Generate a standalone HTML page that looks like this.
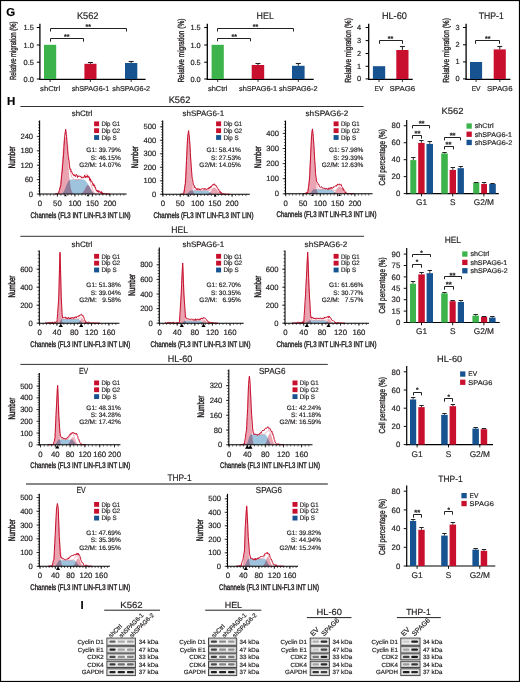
<!DOCTYPE html>
<html><head><meta charset="utf-8"><style>
html,body{margin:0;padding:0;background:#fff;width:520px;height:682px;overflow:hidden}
svg{display:block}
text{font-family:"Liberation Sans", sans-serif;stroke:#231f20;stroke-width:.18px;text-rendering:geometricPrecision}
</style></head><body>
<svg width="520" height="682" viewBox="0 0 520 682" font-family='"Liberation Sans", sans-serif' fill="#231f20">
<rect x="0" y="0" width="520" height="682" fill="#fff"/>
<text x="6.3" y="15.6" font-size="11.5" font-weight="bold" fill="#000">G</text>
<line x1="39.9" y1="23.8" x2="39.9" y2="79.9" stroke="#000" stroke-width="1.3"/>
<line x1="39.4" y1="79.3" x2="145.6" y2="79.3" stroke="#000" stroke-width="1.3"/>
<line x1="36.8" y1="27.5" x2="40" y2="27.5" stroke="#000" stroke-width="1"/>
<text x="33.9" y="30" font-size="7.4" text-anchor="end">1.5</text>
<line x1="36.8" y1="45" x2="40" y2="45" stroke="#000" stroke-width="1"/>
<text x="33.9" y="47.5" font-size="7.4" text-anchor="end">1.0</text>
<line x1="36.8" y1="62.2" x2="40" y2="62.2" stroke="#000" stroke-width="1"/>
<text x="33.9" y="64.7" font-size="7.4" text-anchor="end">0.5</text>
<line x1="36.8" y1="79" x2="40" y2="79" stroke="#000" stroke-width="1"/>
<text x="33.9" y="81.5" font-size="7.4" text-anchor="end">0.0</text>
<text x="16.4" y="50.8" font-size="8.8" text-anchor="middle" textLength="58.5" lengthAdjust="spacingAndGlyphs" transform="rotate(-90 16.4 50.8)" style="stroke-width:.35px">Relative migration (%)</text>
<rect x="44" y="44.8" width="12.2" height="34.2" fill="#3cb44b"/>
<rect x="84.4" y="63.8" width="12.1" height="15.2" fill="#c8102e"/>
<line x1="90.45" y1="63.8" x2="90.45" y2="62.5" stroke="#222" stroke-width="1"/>
<line x1="87.95" y1="62.5" x2="92.95" y2="62.5" stroke="#222" stroke-width="1.1"/>
<rect x="125" y="63" width="12.3" height="16" fill="#165390"/>
<line x1="131.15" y1="63" x2="131.15" y2="61.5" stroke="#222" stroke-width="1"/>
<line x1="128.65" y1="61.5" x2="133.65" y2="61.5" stroke="#222" stroke-width="1.1"/>
<line x1="50.1" y1="79" x2="50.1" y2="82" stroke="#231f20" stroke-width="0.9"/>
<text x="50.1" y="90.8" font-size="7.1" text-anchor="middle" textLength="20" lengthAdjust="spacingAndGlyphs">shCtrl</text>
<line x1="90.4" y1="79" x2="90.4" y2="82" stroke="#231f20" stroke-width="0.9"/>
<text x="90.4" y="90.8" font-size="7.1" text-anchor="middle" textLength="37.5" lengthAdjust="spacingAndGlyphs">shSPAG6-1</text>
<line x1="131.2" y1="79" x2="131.2" y2="82" stroke="#231f20" stroke-width="0.9"/>
<text x="131.2" y="90.8" font-size="7.1" text-anchor="middle" textLength="37.8" lengthAdjust="spacingAndGlyphs">shSPAG6-2</text>
<text x="87.7" y="18.7" font-size="9.6" text-anchor="middle" textLength="21.6" lengthAdjust="spacingAndGlyphs">K562</text>
<polyline points="50.5,41.7 50.5,38.5 83.5,38.5 83.5,41.7" fill="none" stroke="#222" stroke-width="1"/>
<text x="66.8" y="38.64" font-size="7" text-anchor="middle" font-weight="bold">**</text>
<polyline points="50.5,31.5 50.5,28.5 126.5,28.5 126.5,31.5" fill="none" stroke="#222" stroke-width="1"/>
<text x="88.2" y="29.44" font-size="7" text-anchor="middle" font-weight="bold">**</text>
<line x1="207.3" y1="23.8" x2="207.3" y2="79.9" stroke="#000" stroke-width="1.3"/>
<line x1="206.8" y1="79.3" x2="313.7" y2="79.3" stroke="#000" stroke-width="1.3"/>
<line x1="204.2" y1="27.5" x2="207.4" y2="27.5" stroke="#000" stroke-width="1"/>
<text x="200.7" y="30" font-size="7.4" text-anchor="end">1.5</text>
<line x1="204.2" y1="45" x2="207.4" y2="45" stroke="#000" stroke-width="1"/>
<text x="200.7" y="47.5" font-size="7.4" text-anchor="end">1.0</text>
<line x1="204.2" y1="62.2" x2="207.4" y2="62.2" stroke="#000" stroke-width="1"/>
<text x="200.7" y="64.7" font-size="7.4" text-anchor="end">0.5</text>
<line x1="204.2" y1="79" x2="207.4" y2="79" stroke="#000" stroke-width="1"/>
<text x="200.7" y="81.5" font-size="7.4" text-anchor="end">0.0</text>
<text x="183.8" y="50.6" font-size="8.8" text-anchor="middle" textLength="64" lengthAdjust="spacingAndGlyphs" transform="rotate(-90 183.8 50.6)" style="stroke-width:.35px">Relative migration (%)</text>
<rect x="211.6" y="44.8" width="12.2" height="34.2" fill="#3cb44b"/>
<rect x="251.7" y="65" width="12.5" height="14" fill="#c8102e"/>
<line x1="257.95" y1="65" x2="257.95" y2="63.5" stroke="#222" stroke-width="1"/>
<line x1="255.45" y1="63.5" x2="260.45" y2="63.5" stroke="#222" stroke-width="1.1"/>
<rect x="292" y="65.8" width="12.6" height="13.2" fill="#165390"/>
<line x1="298.3" y1="65.8" x2="298.3" y2="63.5" stroke="#222" stroke-width="1"/>
<line x1="295.8" y1="63.5" x2="300.8" y2="63.5" stroke="#222" stroke-width="1.1"/>
<line x1="217.7" y1="79" x2="217.7" y2="82" stroke="#231f20" stroke-width="0.9"/>
<text x="217.7" y="90.8" font-size="7.1" text-anchor="middle" textLength="19.5" lengthAdjust="spacingAndGlyphs">shCtrl</text>
<line x1="258" y1="79" x2="258" y2="82" stroke="#231f20" stroke-width="0.9"/>
<text x="258" y="90.8" font-size="7.1" text-anchor="middle" textLength="38" lengthAdjust="spacingAndGlyphs">shSPAG6-1</text>
<line x1="298.3" y1="79" x2="298.3" y2="82" stroke="#231f20" stroke-width="0.9"/>
<text x="298.3" y="90.8" font-size="7.1" text-anchor="middle" textLength="38.4" lengthAdjust="spacingAndGlyphs">shSPAG6-2</text>
<text x="265.2" y="18.7" font-size="9.6" text-anchor="middle" textLength="17.3" lengthAdjust="spacingAndGlyphs">HEL</text>
<polyline points="217.5,41.3 217.5,38.5 250.5,38.5 250.5,41.3" fill="none" stroke="#222" stroke-width="1"/>
<text x="234.3" y="39.14" font-size="7" text-anchor="middle" font-weight="bold">**</text>
<polyline points="217.5,31.5 217.5,28.5 293.5,28.5 293.5,31.5" fill="none" stroke="#222" stroke-width="1"/>
<text x="255.5" y="29.44" font-size="7" text-anchor="middle" font-weight="bold">**</text>
<line x1="368.7" y1="23.8" x2="368.7" y2="79.9" stroke="#000" stroke-width="1.3"/>
<line x1="368.2" y1="79.3" x2="412.7" y2="79.3" stroke="#000" stroke-width="1.3"/>
<line x1="365.6" y1="27.5" x2="368.8" y2="27.5" stroke="#000" stroke-width="1"/>
<text x="361" y="30" font-size="7.4" text-anchor="end">4</text>
<line x1="365.6" y1="40.6" x2="368.8" y2="40.6" stroke="#000" stroke-width="1"/>
<text x="361" y="43.1" font-size="7.4" text-anchor="end">3</text>
<line x1="365.6" y1="53.5" x2="368.8" y2="53.5" stroke="#000" stroke-width="1"/>
<text x="361" y="56" font-size="7.4" text-anchor="end">2</text>
<line x1="365.6" y1="66.3" x2="368.8" y2="66.3" stroke="#000" stroke-width="1"/>
<text x="361" y="68.8" font-size="7.4" text-anchor="end">1</text>
<line x1="365.6" y1="78.9" x2="368.8" y2="78.9" stroke="#000" stroke-width="1"/>
<text x="361" y="81.4" font-size="7.4" text-anchor="end">0</text>
<text x="351.2" y="50.4" font-size="8.8" text-anchor="middle" textLength="64.5" lengthAdjust="spacingAndGlyphs" transform="rotate(-90 351.2 50.4)" style="stroke-width:.35px">Relative migration (%)</text>
<rect x="372.9" y="66.2" width="12.3" height="12.8" fill="#165390"/>
<rect x="396.3" y="50" width="12.2" height="29" fill="#c8102e"/>
<line x1="402.4" y1="50" x2="402.4" y2="46.5" stroke="#222" stroke-width="1"/>
<line x1="399.9" y1="46.5" x2="404.9" y2="46.5" stroke="#222" stroke-width="1.1"/>
<line x1="379" y1="79" x2="379" y2="82" stroke="#231f20" stroke-width="0.9"/>
<text x="379" y="90.8" font-size="7.1" text-anchor="middle" textLength="8.9" lengthAdjust="spacingAndGlyphs">EV</text>
<line x1="402.4" y1="79" x2="402.4" y2="82" stroke="#231f20" stroke-width="0.9"/>
<text x="402.4" y="90.8" font-size="7.1" text-anchor="middle" textLength="25.6" lengthAdjust="spacingAndGlyphs">SPAG6</text>
<text x="394.4" y="18.7" font-size="9.6" text-anchor="middle" textLength="25" lengthAdjust="spacingAndGlyphs">HL-60</text>
<polyline points="379.5,43.8 379.5,40.5 402.5,40.5 402.5,43.8" fill="none" stroke="#222" stroke-width="1"/>
<text x="390.6" y="40.64" font-size="7" text-anchor="middle" font-weight="bold">**</text>
<line x1="466.1" y1="23.8" x2="466.1" y2="79.9" stroke="#000" stroke-width="1.3"/>
<line x1="465.6" y1="79.3" x2="510.4" y2="79.3" stroke="#000" stroke-width="1.3"/>
<line x1="463" y1="27.5" x2="466.2" y2="27.5" stroke="#000" stroke-width="1"/>
<text x="459.5" y="30" font-size="7.4" text-anchor="end">3</text>
<line x1="463" y1="44.8" x2="466.2" y2="44.8" stroke="#000" stroke-width="1"/>
<text x="459.5" y="47.3" font-size="7.4" text-anchor="end">2</text>
<line x1="463" y1="61.9" x2="466.2" y2="61.9" stroke="#000" stroke-width="1"/>
<text x="459.5" y="64.4" font-size="7.4" text-anchor="end">1</text>
<line x1="463" y1="78.9" x2="466.2" y2="78.9" stroke="#000" stroke-width="1"/>
<text x="459.5" y="81.4" font-size="7.4" text-anchor="end">0</text>
<text x="449" y="50.4" font-size="8.8" text-anchor="middle" textLength="64.5" lengthAdjust="spacingAndGlyphs" transform="rotate(-90 449 50.4)" style="stroke-width:.35px">Relative migration (%)</text>
<rect x="470" y="62" width="12.1" height="17" fill="#165390"/>
<rect x="493.7" y="49.4" width="12.1" height="29.6" fill="#c8102e"/>
<line x1="499.75" y1="49.4" x2="499.75" y2="46.5" stroke="#222" stroke-width="1"/>
<line x1="497.25" y1="46.5" x2="502.25" y2="46.5" stroke="#222" stroke-width="1.1"/>
<line x1="476.1" y1="79" x2="476.1" y2="82" stroke="#231f20" stroke-width="0.9"/>
<text x="476.1" y="90.8" font-size="7.1" text-anchor="middle" textLength="8.9" lengthAdjust="spacingAndGlyphs">EV</text>
<line x1="499.8" y1="79" x2="499.8" y2="82" stroke="#231f20" stroke-width="0.9"/>
<text x="499.8" y="90.8" font-size="7.1" text-anchor="middle" textLength="25.6" lengthAdjust="spacingAndGlyphs">SPAG6</text>
<text x="491.2" y="18.7" font-size="9.6" text-anchor="middle" textLength="25" lengthAdjust="spacingAndGlyphs">THP-1</text>
<polyline points="475.5,43.8 475.5,40.5 499.5,40.5 499.5,43.8" fill="none" stroke="#222" stroke-width="1"/>
<text x="487.7" y="40.64" font-size="7" text-anchor="middle" font-weight="bold">**</text>
<path d="M61.5,194 L61.5,194 L62.07,193.82 L62.64,193.33 L63.2,192.56 L63.77,191.56 L64.34,190.39 L64.91,189.1 L65.48,187.72 L66.05,186.31 L66.61,184.92 L67.18,183.59 L67.75,182.38 L68.32,181.33 L68.89,180.48 L69.46,179.9 L70.03,179.62 L70.59,179.6 L71.16,179.6 L71.73,179.6 L72.3,179.6 L72.87,179.6 L73.44,179.6 L74,179.6 L74.57,179.6 L75.14,179.6 L75.71,179.6 L76.28,179.6 L76.84,179.6 L77.41,179.6 L77.98,179.6 L78.55,179.6 L79.12,179.6 L79.69,179.6 L80.25,179.6 L80.82,179.6 L81.39,179.6 L81.96,179.6 L82.53,179.6 L83.1,179.6 L83.66,179.62 L84.23,179.79 L84.8,180.13 L85.37,180.61 L85.94,181.21 L86.51,181.93 L87.07,182.73 L87.64,183.61 L88.21,184.55 L88.78,185.53 L89.35,186.53 L89.92,187.54 L90.48,188.53 L91.05,189.49 L91.62,190.4 L92.19,191.25 L92.76,192.02 L93.33,192.69 L93.89,193.23 L94.46,193.65 L95.03,193.91 L95.6,194 Z" fill="#9ec3dc"/>
<path d="M56.98,194 L56.98,193.66 L57.4,193.44 L57.81,193.1 L58.23,192.6 L58.64,191.86 L59.06,190.82 L59.48,189.39 L59.89,187.49 L60.31,185.03 L60.72,181.96 L61.14,178.25 L61.56,173.92 L61.97,169.03 L62.39,163.75 L62.8,158.27 L63.22,152.87 L63.64,147.85 L64.05,143.52 L64.47,140.19 L64.88,138.08 L65.3,137.36 L65.72,138.08 L66.13,140.19 L66.55,143.52 L66.96,147.85 L67.38,152.87 L67.8,158.27 L68.21,163.75 L68.63,169.03 L69.04,173.92 L69.46,178.25 L69.88,181.96 L70.29,185.03 L70.71,187.49 L71.12,189.39 L71.54,190.82 L71.96,191.86 L72.37,192.6 L72.79,193.1 L73.2,193.44 L73.62,193.66 L73.62,194 Z" fill="#e9a3b1" style="mix-blend-mode:multiply"/>
<path d="M79.04,194 L79.04,193.95 L79.49,193.91 L79.94,193.86 L80.38,193.78 L80.83,193.66 L81.28,193.5 L81.73,193.28 L82.18,192.98 L82.62,192.59 L83.07,192.11 L83.52,191.53 L83.97,190.85 L84.42,190.09 L84.86,189.26 L85.31,188.4 L85.76,187.55 L86.21,186.76 L86.66,186.09 L87.1,185.56 L87.55,185.23 L88,185.12 L88.45,185.23 L88.9,185.56 L89.34,186.09 L89.79,186.76 L90.24,187.55 L90.69,188.4 L91.14,189.26 L91.58,190.09 L92.03,190.85 L92.48,191.53 L92.93,192.11 L93.38,192.59 L93.82,192.98 L94.27,193.28 L94.72,193.5 L95.17,193.66 L95.62,193.78 L96.06,193.86 L96.51,193.91 L96.96,193.95 L96.96,194 Z" fill="#e9a3b1" style="mix-blend-mode:multiply"/>
<polyline points="55,193.98 55.5,193.95 56,193.91 56.5,193.82 57,193.65 57.5,193.37 58,192.9 58.5,192.15 59,190.99 59.5,189.3 60,186.91 60.5,183.7 61,179.57 61.5,174.53 62,168.55 62.5,161.76 63,154.56 63.5,147.5 64,141.13 64.5,136.02 65,132.62 65.5,131.19 66,131.8 66.5,134.28 67,138.27 67.5,143.3 68,148.86 68.5,154.48 69,159.77 69.5,164.5 70,168.57 70.5,171.93 71,174.48 71.5,176.3 72,177.55 72.5,178.38 73,178.89 73.5,179.21 74,179.39 74.5,179.49 75,179.55 75.5,179.57 76,179.59 76.5,179.59 77,179.59 77.5,179.59 78,179.58 78.5,179.57 79,179.55 79.5,179.51 80,179.45 80.5,179.35 81,179.21 81.5,179 82,178.71 82.5,178.31 83,177.8 83.5,177.16 84,176.5 84.5,175.86 85,175.28 85.5,174.77 86,174.4 86.5,174.22 87,174.29 87.5,174.65 88,175.32 88.5,176.31 89,177.59 89.5,179.11 90,180.8 90.5,182.59 91,184.4 91.5,186.15 92,187.78 92.5,189.24 93,190.51 93.5,191.58 94,192.43 94.5,193.07 95,193.51 95.5,193.75 96,193.85 96.5,193.91 97,193.95 97.5,193.97 98,193.98 98.5,193.99 99,194 99.5,194 100,194 100.5,194 101,194 101.5,194 102,194 102.5,194 103,194 103.5,194 104,194 104.5,194 105,194 105.5,194 106,194 106.5,194 107,194 107.5,194 108,194 108.5,194 109,194 109.5,194 110,194" fill="none" stroke="#e47b8e" stroke-width="0.6"/>
<polyline points="55,194 55.45,193.91 55.9,193.82 56.35,193.74 56.8,193.65 57.25,193.56 57.7,193.47 58.15,193.39 58.6,193.3 58.7,193.28 59.05,191.09 59.5,190.33 59.95,188.04 60.4,187.05 60.85,185.38 61,184.4 61.3,179.59 61.75,174.29 62.2,171.8 62.65,164.82 63,161.6 63.1,159.23 63.55,154.83 64,146.3 64.45,140.64 64.5,138.8 64.9,135.23 65.35,131.83 65.6,129.2 65.8,129.68 66.25,134.83 66.5,136.4 66.7,140.22 67.15,145.05 67.5,149.6 67.6,151.31 68.05,155.3 68.5,158.96 68.95,160.73 69.4,166.12 69.85,168.76 70,169.52 70.3,169.24 70.75,168.92 71.2,172.13 71.65,171.41 72,171.92 72.1,172.76 72.55,173.92 73,174.05 73.45,175.36 73.9,174.32 74,174.8 74.35,175.89 74.8,174.91 75.25,176.64 75.7,176.62 76.15,174.29 76.6,174.57 77.05,174.99 77.5,177.55 77.95,176.02 78,176.24 78.4,176.69 78.85,175.71 79.3,176.42 79.75,176.08 80.2,176.03 80.65,176.83 81.1,176.88 81.55,177.96 82,176.72 82.45,177.22 82.9,177.93 83.35,177.62 83.8,177.97 84.25,176.86 84.7,175.16 85.15,177.31 85.6,177.56 86,176 86.05,177.31 86.5,176.34 86.95,176.91 87.4,175.41 87.85,177.51 88,176.48 88.3,177.11 88.75,176.78 89.2,176.67 89.65,179.79 90,179.12 90.1,180.86 90.55,178.73 91,181.76 91.45,181.27 91.9,181.19 92,182.48 92.35,182.38 92.8,184.62 93.25,185.67 93.7,183.74 94.15,186.29 94.6,185.18 95,187.28 95.05,188.05 95.5,187.44 95.95,189.84 96.4,190.79 96.85,189.91 97.3,192.12 97.75,190.55 98.2,190.44 98.4,192.08 98.65,192.47 99.1,190.77 99.55,191.42 100,192.21 100.45,192.98 100.9,191.65 101.35,191.4 101.8,194 102,193.04 102.25,192.48 102.7,194 103.15,194 103.6,193.3 104.05,193.37 104.5,193.44 104.95,193.51 105.4,193.58 105.85,193.66 106.3,193.73 106.5,193.76 106.75,193.78 107.2,193.81 107.65,193.84 108.1,193.87 108.55,193.9 109,193.93 109.45,193.96 109.9,193.99 110,194" fill="none" stroke="#c8102e" stroke-width="1" stroke-linejoin="round"/>
<line x1="39.6" y1="120.6" x2="39.6" y2="194.6" stroke="#000" stroke-width="1.1"/>
<line x1="39.1" y1="194" x2="126.6" y2="194" stroke="#000" stroke-width="1.1"/>
<line x1="38" y1="194" x2="39.6" y2="194" stroke="#000" stroke-width="0.6"/>
<line x1="38" y1="191.12" x2="39.6" y2="191.12" stroke="#000" stroke-width="0.6"/>
<line x1="38" y1="188.24" x2="39.6" y2="188.24" stroke="#000" stroke-width="0.6"/>
<line x1="38" y1="185.36" x2="39.6" y2="185.36" stroke="#000" stroke-width="0.6"/>
<line x1="38" y1="182.48" x2="39.6" y2="182.48" stroke="#000" stroke-width="0.6"/>
<line x1="38" y1="179.6" x2="39.6" y2="179.6" stroke="#000" stroke-width="0.6"/>
<line x1="38" y1="176.72" x2="39.6" y2="176.72" stroke="#000" stroke-width="0.6"/>
<line x1="38" y1="173.84" x2="39.6" y2="173.84" stroke="#000" stroke-width="0.6"/>
<line x1="38" y1="170.96" x2="39.6" y2="170.96" stroke="#000" stroke-width="0.6"/>
<line x1="38" y1="168.08" x2="39.6" y2="168.08" stroke="#000" stroke-width="0.6"/>
<line x1="38" y1="165.2" x2="39.6" y2="165.2" stroke="#000" stroke-width="0.6"/>
<line x1="38" y1="162.32" x2="39.6" y2="162.32" stroke="#000" stroke-width="0.6"/>
<line x1="38" y1="159.44" x2="39.6" y2="159.44" stroke="#000" stroke-width="0.6"/>
<line x1="38" y1="156.56" x2="39.6" y2="156.56" stroke="#000" stroke-width="0.6"/>
<line x1="38" y1="153.68" x2="39.6" y2="153.68" stroke="#000" stroke-width="0.6"/>
<line x1="38" y1="150.8" x2="39.6" y2="150.8" stroke="#000" stroke-width="0.6"/>
<line x1="38" y1="147.92" x2="39.6" y2="147.92" stroke="#000" stroke-width="0.6"/>
<line x1="38" y1="145.04" x2="39.6" y2="145.04" stroke="#000" stroke-width="0.6"/>
<line x1="38" y1="142.16" x2="39.6" y2="142.16" stroke="#000" stroke-width="0.6"/>
<line x1="38" y1="139.28" x2="39.6" y2="139.28" stroke="#000" stroke-width="0.6"/>
<line x1="38" y1="136.4" x2="39.6" y2="136.4" stroke="#000" stroke-width="0.6"/>
<line x1="38" y1="133.52" x2="39.6" y2="133.52" stroke="#000" stroke-width="0.6"/>
<line x1="38" y1="130.64" x2="39.6" y2="130.64" stroke="#000" stroke-width="0.6"/>
<line x1="38" y1="127.76" x2="39.6" y2="127.76" stroke="#000" stroke-width="0.6"/>
<line x1="38" y1="124.88" x2="39.6" y2="124.88" stroke="#000" stroke-width="0.6"/>
<line x1="38" y1="122" x2="39.6" y2="122" stroke="#000" stroke-width="0.6"/>
<line x1="36.8" y1="194" x2="39.6" y2="194" stroke="#111" stroke-width="0.8"/>
<text x="33.1" y="196.6" font-size="7.6" text-anchor="end">0</text>
<line x1="36.8" y1="179.6" x2="39.6" y2="179.6" stroke="#111" stroke-width="0.8"/>
<text x="33.1" y="182.2" font-size="7.6" text-anchor="end">60</text>
<line x1="36.8" y1="165.2" x2="39.6" y2="165.2" stroke="#111" stroke-width="0.8"/>
<text x="33.1" y="167.8" font-size="7.6" text-anchor="end">120</text>
<line x1="36.8" y1="150.8" x2="39.6" y2="150.8" stroke="#111" stroke-width="0.8"/>
<text x="33.1" y="153.4" font-size="7.6" text-anchor="end">180</text>
<line x1="36.8" y1="136.4" x2="39.6" y2="136.4" stroke="#111" stroke-width="0.8"/>
<text x="33.1" y="139" font-size="7.6" text-anchor="end">240</text>
<line x1="39.9" y1="194" x2="39.9" y2="195.7" stroke="#000" stroke-width="0.6"/>
<line x1="43.4" y1="194" x2="43.4" y2="195.7" stroke="#000" stroke-width="0.6"/>
<line x1="46.9" y1="194" x2="46.9" y2="195.7" stroke="#000" stroke-width="0.6"/>
<line x1="50.4" y1="194" x2="50.4" y2="195.7" stroke="#000" stroke-width="0.6"/>
<line x1="53.9" y1="194" x2="53.9" y2="195.7" stroke="#000" stroke-width="0.6"/>
<line x1="57.4" y1="194" x2="57.4" y2="195.7" stroke="#000" stroke-width="0.6"/>
<line x1="60.9" y1="194" x2="60.9" y2="195.7" stroke="#000" stroke-width="0.6"/>
<line x1="64.4" y1="194" x2="64.4" y2="195.7" stroke="#000" stroke-width="0.6"/>
<line x1="67.9" y1="194" x2="67.9" y2="195.7" stroke="#000" stroke-width="0.6"/>
<line x1="71.4" y1="194" x2="71.4" y2="195.7" stroke="#000" stroke-width="0.6"/>
<line x1="74.9" y1="194" x2="74.9" y2="195.7" stroke="#000" stroke-width="0.6"/>
<line x1="78.4" y1="194" x2="78.4" y2="195.7" stroke="#000" stroke-width="0.6"/>
<line x1="81.9" y1="194" x2="81.9" y2="195.7" stroke="#000" stroke-width="0.6"/>
<line x1="85.4" y1="194" x2="85.4" y2="195.7" stroke="#000" stroke-width="0.6"/>
<line x1="88.9" y1="194" x2="88.9" y2="195.7" stroke="#000" stroke-width="0.6"/>
<line x1="92.4" y1="194" x2="92.4" y2="195.7" stroke="#000" stroke-width="0.6"/>
<line x1="95.9" y1="194" x2="95.9" y2="195.7" stroke="#000" stroke-width="0.6"/>
<line x1="99.4" y1="194" x2="99.4" y2="195.7" stroke="#000" stroke-width="0.6"/>
<line x1="102.9" y1="194" x2="102.9" y2="195.7" stroke="#000" stroke-width="0.6"/>
<line x1="106.4" y1="194" x2="106.4" y2="195.7" stroke="#000" stroke-width="0.6"/>
<line x1="109.9" y1="194" x2="109.9" y2="195.7" stroke="#000" stroke-width="0.6"/>
<line x1="113.4" y1="194" x2="113.4" y2="195.7" stroke="#000" stroke-width="0.6"/>
<line x1="116.9" y1="194" x2="116.9" y2="195.7" stroke="#000" stroke-width="0.6"/>
<line x1="120.4" y1="194" x2="120.4" y2="195.7" stroke="#000" stroke-width="0.6"/>
<line x1="123.9" y1="194" x2="123.9" y2="195.7" stroke="#000" stroke-width="0.6"/>
<line x1="39.9" y1="194" x2="39.9" y2="196.6" stroke="#111" stroke-width="0.8"/>
<text x="39.9" y="205.7" font-size="7.8" text-anchor="middle">0</text>
<line x1="57.4" y1="194" x2="57.4" y2="196.6" stroke="#111" stroke-width="0.8"/>
<text x="57.4" y="205.7" font-size="7.8" text-anchor="middle">50</text>
<line x1="74.9" y1="194" x2="74.9" y2="196.6" stroke="#111" stroke-width="0.8"/>
<text x="74.9" y="205.7" font-size="7.8" text-anchor="middle">100</text>
<line x1="92.4" y1="194" x2="92.4" y2="196.6" stroke="#111" stroke-width="0.8"/>
<text x="92.4" y="205.7" font-size="7.8" text-anchor="middle">150</text>
<line x1="109.9" y1="194" x2="109.9" y2="196.6" stroke="#111" stroke-width="0.8"/>
<text x="109.9" y="205.7" font-size="7.8" text-anchor="middle">200</text>
<path d="M64.24,196.3 L66.76,196.3 L65.5,194.2 Z" fill="#000"/>
<path d="M86.74,196.3 L89.26,196.3 L88,194.2 Z" fill="#000"/>
<text x="14.9" y="157.3" font-size="9.6" text-anchor="middle" textLength="21.8" lengthAdjust="spacingAndGlyphs" transform="rotate(-90 14.9 157.3)" style="stroke-width:.45px">Number</text>
<text x="80.6" y="217.6" font-size="8.2" text-anchor="middle" textLength="100" lengthAdjust="spacingAndGlyphs" style="stroke-width:.4px">Channels (FL3 INT LIN-FL3 INT LIN)</text>
<text x="82" y="116.4" font-size="7.9" text-anchor="middle" textLength="20.6" lengthAdjust="spacingAndGlyphs">shCtrl</text>
<rect x="94.1" y="121.4" width="5" height="4.8" fill="#c8102e"/>
<text x="101.4" y="126" font-size="6.5" textLength="18.8" lengthAdjust="spacingAndGlyphs">Dip G1</text>
<rect x="94.1" y="128.25" width="5" height="4.8" fill="#c8102e"/>
<text x="101.4" y="132.85" font-size="6.5" textLength="18.8" lengthAdjust="spacingAndGlyphs">Dip G2</text>
<rect x="94.1" y="135.1" width="5" height="4.8" fill="#165390"/>
<text x="101.4" y="139.7" font-size="6.5" textLength="15.2" lengthAdjust="spacingAndGlyphs">Dip S</text>
<text x="120.7" y="152.3" font-size="6.5" text-anchor="end" style="white-space:pre">G1: 39.79%</text>
<text x="120.7" y="159.5" font-size="6.5" text-anchor="end" style="white-space:pre">S: 46.15%</text>
<text x="120.7" y="166.7" font-size="6.5" text-anchor="end" style="white-space:pre">G2/M: 14.07%</text>
<path d="M186,194.3 L186,194.3 L186.47,194.2 L186.93,193.94 L187.4,193.55 L187.87,193.07 L188.33,192.54 L188.8,191.99 L189.27,191.47 L189.73,191.01 L190.2,190.65 L190.67,190.43 L191.13,190.39 L191.6,190.39 L192.07,190.39 L192.53,190.39 L193,190.39 L193.47,190.39 L193.93,190.39 L194.4,190.39 L194.87,190.39 L195.33,190.39 L195.8,190.39 L196.27,190.39 L196.73,190.39 L197.2,190.39 L197.67,190.39 L198.13,190.39 L198.6,190.39 L199.07,190.39 L199.53,190.39 L200,190.39 L200.47,190.39 L200.93,190.39 L201.4,190.39 L201.87,190.39 L202.33,190.39 L202.8,190.39 L203.27,190.39 L203.73,190.39 L204.2,190.39 L204.67,190.39 L205.13,190.39 L205.6,190.39 L206.07,190.39 L206.53,190.43 L207,190.55 L207.47,190.73 L207.93,190.96 L208.4,191.23 L208.87,191.53 L209.33,191.86 L209.8,192.2 L210.27,192.54 L210.73,192.87 L211.2,193.2 L211.67,193.5 L212.13,193.76 L212.6,193.98 L213.07,194.15 L213.53,194.26 L214,194.3 Z" fill="#9ec3dc"/>
<path d="M182.42,194.3 L182.42,193.95 L182.72,193.72 L183.03,193.36 L183.33,192.83 L183.64,192.06 L183.94,190.97 L184.24,189.47 L184.55,187.47 L184.85,184.9 L185.16,181.68 L185.46,177.78 L185.76,173.24 L186.07,168.12 L186.37,162.58 L186.68,156.83 L186.98,151.17 L187.28,145.9 L187.59,141.36 L187.89,137.86 L188.2,135.66 L188.5,134.9 L188.8,135.66 L189.11,137.86 L189.41,141.36 L189.72,145.9 L190.02,151.17 L190.32,156.83 L190.63,162.58 L190.93,168.12 L191.24,173.24 L191.54,177.78 L191.84,181.68 L192.15,184.9 L192.45,187.47 L192.76,189.47 L193.06,190.97 L193.36,192.06 L193.67,192.83 L193.97,193.36 L194.28,193.72 L194.58,193.95 L194.58,194.3 Z" fill="#e9a3b1" style="mix-blend-mode:multiply"/>
<path d="M205.24,194.3 L205.24,194.26 L205.69,194.24 L206.14,194.2 L206.58,194.14 L207.03,194.06 L207.48,193.94 L207.93,193.78 L208.38,193.57 L208.82,193.3 L209.27,192.95 L209.72,192.54 L210.17,192.05 L210.62,191.5 L211.06,190.91 L211.51,190.3 L211.96,189.69 L212.41,189.13 L212.86,188.65 L213.3,188.27 L213.75,188.04 L214.2,187.96 L214.65,188.04 L215.1,188.27 L215.54,188.65 L215.99,189.13 L216.44,189.69 L216.89,190.3 L217.34,190.91 L217.78,191.5 L218.23,192.05 L218.68,192.54 L219.13,192.95 L219.58,193.3 L220.02,193.57 L220.47,193.78 L220.92,193.94 L221.37,194.06 L221.82,194.14 L222.26,194.2 L222.71,194.24 L223.16,194.26 L223.16,194.3 Z" fill="#e9a3b1" style="mix-blend-mode:multiply"/>
<polyline points="180,194.3 180.5,194.29 181,194.28 181.5,194.23 182,194.13 182.5,193.89 183,193.4 183.5,192.44 184,190.7 184.5,187.82 185,183.41 185.5,177.22 186,169.31 186.5,160.06 187,150.4 187.5,141.74 188,135.54 188.5,132.94 189,134.38 189.5,139.51 190,147.3 190.5,156.36 191,165.39 191.5,173.31 192,179.5 192.5,183.91 193,186.79 193.5,188.52 194,189.49 194.5,189.98 195,190.21 195.5,190.32 196,190.36 196.5,190.38 197,190.38 197.5,190.38 198,190.38 198.5,190.38 199,190.38 199.5,190.38 200,190.38 200.5,190.38 201,190.38 201.5,190.38 202,190.38 202.5,190.38 203,190.38 203.5,190.38 204,190.38 204.5,190.37 205,190.36 205.5,190.33 206,190.3 206.5,190.28 207,190.32 207.5,190.38 208,190.45 208.5,190.49 209,190.49 209.5,190.43 210,190.28 210.5,190.06 211,189.76 211.5,189.41 212,189.03 212.5,188.66 213,188.34 213.5,188.11 214,187.97 214.5,187.99 215,188.21 215.5,188.6 216,189.14 216.5,189.77 217,190.45 217.5,191.13 218,191.77 218.5,192.35 219,192.84 219.5,193.24 220,193.56 220.5,193.8 221,193.97 221.5,194.09 222,194.17 222.5,194.22 223,194.25 223.5,194.27 224,194.29 224.5,194.29 225,194.3 225.5,194.3 226,194.3 226.5,194.3 227,194.3 227.5,194.3 228,194.3 228.5,194.3 229,194.3 229.5,194.3 230,194.3" fill="none" stroke="#e47b8e" stroke-width="0.6"/>
<polyline points="180,194.3 180.45,194.22 180.9,194.14 181.35,194.05 181.8,193.97 182.25,194.11 182.7,194.24 183.15,194.26 183.6,194.3 183.7,193.62 184.05,192.09 184.5,189.89 184.95,185.75 185.4,184 185.5,183.5 185.85,176.27 186.3,165.41 186.5,160.55 186.75,156.06 187.2,145.25 187.6,137.6 187.65,137.19 188.1,133.63 188.55,131.01 188.6,130.58 189,134.6 189.45,137.97 189.6,140.3 189.9,144.77 190.35,152.36 190.8,160.99 190.9,161.9 191.25,167.1 191.7,172.09 192,176.75 192.15,178.09 192.6,179.34 193.05,182.63 193.5,184.85 193.95,185.39 194,186.2 194.4,185.79 194.85,187.9 195.3,187.26 195.75,187.81 196,188.63 196.2,189.53 196.65,189.39 197.1,188.4 197.55,189.67 198,188.97 198.45,189.28 198.9,188.49 199.35,189.88 199.8,189.49 200,189.17 200.25,190.01 200.7,189.88 201.15,188.81 201.6,188.92 202.05,188.57 202.5,188.53 202.95,188.39 203.4,188.81 203.85,189.36 204.3,188.28 204.75,189.49 205,189.17 205.2,188.86 205.65,188.77 206.1,189.64 206.55,189 207,188.66 207.45,188.92 207.9,189.28 208,188.9 208.35,187.87 208.8,189.22 209.25,187.2 209.7,188.2 210.15,188.07 210.6,186.28 211,186.88 211.05,187.35 211.5,186.19 211.95,186.17 212.4,184.75 212.85,184.42 213.3,184.26 213.75,185.26 214.2,184.04 214.65,183.83 215.1,185.18 215.55,185.83 216,185.39 216.45,186.98 216.9,186.69 217.35,187.5 217.8,188.59 218,188.9 218.25,189.77 218.7,189.23 219.15,191.05 219.6,191.81 220,191.87 220.05,192.57 220.5,191.51 220.95,193.58 221.4,192.47 221.7,193.49 221.85,193.23 222.3,193.78 222.75,194.3 223.2,193.44 223.65,194.3 224.1,193.95 224.55,193.94 225,194.01 225.45,194.08 225.9,194.15 226,194.17 226.35,194.18 226.8,194.19 227.25,194.21 227.7,194.22 228.15,194.24 228.6,194.25 229.05,194.27 229.5,194.28 229.95,194.3 230,194.3" fill="none" stroke="#c8102e" stroke-width="1" stroke-linejoin="round"/>
<line x1="162.7" y1="120.6" x2="162.7" y2="194.9" stroke="#000" stroke-width="1.1"/>
<line x1="162.2" y1="194.3" x2="249.8" y2="194.3" stroke="#000" stroke-width="1.1"/>
<line x1="161.1" y1="194.3" x2="162.7" y2="194.3" stroke="#000" stroke-width="0.6"/>
<line x1="161.1" y1="191.6" x2="162.7" y2="191.6" stroke="#000" stroke-width="0.6"/>
<line x1="161.1" y1="188.9" x2="162.7" y2="188.9" stroke="#000" stroke-width="0.6"/>
<line x1="161.1" y1="186.2" x2="162.7" y2="186.2" stroke="#000" stroke-width="0.6"/>
<line x1="161.1" y1="183.5" x2="162.7" y2="183.5" stroke="#000" stroke-width="0.6"/>
<line x1="161.1" y1="180.8" x2="162.7" y2="180.8" stroke="#000" stroke-width="0.6"/>
<line x1="161.1" y1="178.1" x2="162.7" y2="178.1" stroke="#000" stroke-width="0.6"/>
<line x1="161.1" y1="175.4" x2="162.7" y2="175.4" stroke="#000" stroke-width="0.6"/>
<line x1="161.1" y1="172.7" x2="162.7" y2="172.7" stroke="#000" stroke-width="0.6"/>
<line x1="161.1" y1="170" x2="162.7" y2="170" stroke="#000" stroke-width="0.6"/>
<line x1="161.1" y1="167.3" x2="162.7" y2="167.3" stroke="#000" stroke-width="0.6"/>
<line x1="161.1" y1="164.6" x2="162.7" y2="164.6" stroke="#000" stroke-width="0.6"/>
<line x1="161.1" y1="161.9" x2="162.7" y2="161.9" stroke="#000" stroke-width="0.6"/>
<line x1="161.1" y1="159.2" x2="162.7" y2="159.2" stroke="#000" stroke-width="0.6"/>
<line x1="161.1" y1="156.5" x2="162.7" y2="156.5" stroke="#000" stroke-width="0.6"/>
<line x1="161.1" y1="153.8" x2="162.7" y2="153.8" stroke="#000" stroke-width="0.6"/>
<line x1="161.1" y1="151.1" x2="162.7" y2="151.1" stroke="#000" stroke-width="0.6"/>
<line x1="161.1" y1="148.4" x2="162.7" y2="148.4" stroke="#000" stroke-width="0.6"/>
<line x1="161.1" y1="145.7" x2="162.7" y2="145.7" stroke="#000" stroke-width="0.6"/>
<line x1="161.1" y1="143" x2="162.7" y2="143" stroke="#000" stroke-width="0.6"/>
<line x1="161.1" y1="140.3" x2="162.7" y2="140.3" stroke="#000" stroke-width="0.6"/>
<line x1="161.1" y1="137.6" x2="162.7" y2="137.6" stroke="#000" stroke-width="0.6"/>
<line x1="161.1" y1="134.9" x2="162.7" y2="134.9" stroke="#000" stroke-width="0.6"/>
<line x1="161.1" y1="132.2" x2="162.7" y2="132.2" stroke="#000" stroke-width="0.6"/>
<line x1="161.1" y1="129.5" x2="162.7" y2="129.5" stroke="#000" stroke-width="0.6"/>
<line x1="161.1" y1="126.8" x2="162.7" y2="126.8" stroke="#000" stroke-width="0.6"/>
<line x1="161.1" y1="124.1" x2="162.7" y2="124.1" stroke="#000" stroke-width="0.6"/>
<line x1="161.1" y1="121.4" x2="162.7" y2="121.4" stroke="#000" stroke-width="0.6"/>
<line x1="159.9" y1="194.3" x2="162.7" y2="194.3" stroke="#111" stroke-width="0.8"/>
<text x="156.2" y="196.9" font-size="7.6" text-anchor="end">0</text>
<line x1="159.9" y1="180.8" x2="162.7" y2="180.8" stroke="#111" stroke-width="0.8"/>
<text x="156.2" y="183.4" font-size="7.6" text-anchor="end">100</text>
<line x1="159.9" y1="167.3" x2="162.7" y2="167.3" stroke="#111" stroke-width="0.8"/>
<text x="156.2" y="169.9" font-size="7.6" text-anchor="end">200</text>
<line x1="159.9" y1="153.8" x2="162.7" y2="153.8" stroke="#111" stroke-width="0.8"/>
<text x="156.2" y="156.4" font-size="7.6" text-anchor="end">300</text>
<line x1="159.9" y1="140.3" x2="162.7" y2="140.3" stroke="#111" stroke-width="0.8"/>
<text x="156.2" y="142.9" font-size="7.6" text-anchor="end">400</text>
<line x1="159.9" y1="126.8" x2="162.7" y2="126.8" stroke="#111" stroke-width="0.8"/>
<text x="156.2" y="129.4" font-size="7.6" text-anchor="end">500</text>
<line x1="162.9" y1="194.3" x2="162.9" y2="196" stroke="#000" stroke-width="0.6"/>
<line x1="166.36" y1="194.3" x2="166.36" y2="196" stroke="#000" stroke-width="0.6"/>
<line x1="169.82" y1="194.3" x2="169.82" y2="196" stroke="#000" stroke-width="0.6"/>
<line x1="173.28" y1="194.3" x2="173.28" y2="196" stroke="#000" stroke-width="0.6"/>
<line x1="176.74" y1="194.3" x2="176.74" y2="196" stroke="#000" stroke-width="0.6"/>
<line x1="180.2" y1="194.3" x2="180.2" y2="196" stroke="#000" stroke-width="0.6"/>
<line x1="183.66" y1="194.3" x2="183.66" y2="196" stroke="#000" stroke-width="0.6"/>
<line x1="187.12" y1="194.3" x2="187.12" y2="196" stroke="#000" stroke-width="0.6"/>
<line x1="190.58" y1="194.3" x2="190.58" y2="196" stroke="#000" stroke-width="0.6"/>
<line x1="194.04" y1="194.3" x2="194.04" y2="196" stroke="#000" stroke-width="0.6"/>
<line x1="197.5" y1="194.3" x2="197.5" y2="196" stroke="#000" stroke-width="0.6"/>
<line x1="200.96" y1="194.3" x2="200.96" y2="196" stroke="#000" stroke-width="0.6"/>
<line x1="204.42" y1="194.3" x2="204.42" y2="196" stroke="#000" stroke-width="0.6"/>
<line x1="207.88" y1="194.3" x2="207.88" y2="196" stroke="#000" stroke-width="0.6"/>
<line x1="211.34" y1="194.3" x2="211.34" y2="196" stroke="#000" stroke-width="0.6"/>
<line x1="214.8" y1="194.3" x2="214.8" y2="196" stroke="#000" stroke-width="0.6"/>
<line x1="218.26" y1="194.3" x2="218.26" y2="196" stroke="#000" stroke-width="0.6"/>
<line x1="221.72" y1="194.3" x2="221.72" y2="196" stroke="#000" stroke-width="0.6"/>
<line x1="225.18" y1="194.3" x2="225.18" y2="196" stroke="#000" stroke-width="0.6"/>
<line x1="228.64" y1="194.3" x2="228.64" y2="196" stroke="#000" stroke-width="0.6"/>
<line x1="232.1" y1="194.3" x2="232.1" y2="196" stroke="#000" stroke-width="0.6"/>
<line x1="235.56" y1="194.3" x2="235.56" y2="196" stroke="#000" stroke-width="0.6"/>
<line x1="239.02" y1="194.3" x2="239.02" y2="196" stroke="#000" stroke-width="0.6"/>
<line x1="242.48" y1="194.3" x2="242.48" y2="196" stroke="#000" stroke-width="0.6"/>
<line x1="245.94" y1="194.3" x2="245.94" y2="196" stroke="#000" stroke-width="0.6"/>
<line x1="162.9" y1="194.3" x2="162.9" y2="196.9" stroke="#111" stroke-width="0.8"/>
<text x="162.9" y="206" font-size="7.8" text-anchor="middle">0</text>
<line x1="180.2" y1="194.3" x2="180.2" y2="196.9" stroke="#111" stroke-width="0.8"/>
<text x="180.2" y="206" font-size="7.8" text-anchor="middle">50</text>
<line x1="197.5" y1="194.3" x2="197.5" y2="196.9" stroke="#111" stroke-width="0.8"/>
<text x="197.5" y="206" font-size="7.8" text-anchor="middle">100</text>
<line x1="214.8" y1="194.3" x2="214.8" y2="196.9" stroke="#111" stroke-width="0.8"/>
<text x="214.8" y="206" font-size="7.8" text-anchor="middle">150</text>
<line x1="232.1" y1="194.3" x2="232.1" y2="196.9" stroke="#111" stroke-width="0.8"/>
<text x="232.1" y="206" font-size="7.8" text-anchor="middle">200</text>
<path d="M187.24,196.6 L189.76,196.6 L188.5,194.5 Z" fill="#000"/>
<path d="M214.14,196.6 L216.66,196.6 L215.4,194.5 Z" fill="#000"/>
<text x="138.3" y="157" font-size="9.6" text-anchor="middle" textLength="21.8" lengthAdjust="spacingAndGlyphs" transform="rotate(-90 138.3 157)" style="stroke-width:.45px">Number</text>
<text x="203.5" y="217.9" font-size="8.2" text-anchor="middle" textLength="100" lengthAdjust="spacingAndGlyphs" style="stroke-width:.4px">Channels (FL3 INT LIN-FL3 INT LIN)</text>
<text x="203.3" y="116.2" font-size="7.9" text-anchor="middle" textLength="41.7" lengthAdjust="spacingAndGlyphs">shSPAG6-1</text>
<rect x="216.1" y="121.4" width="5" height="4.8" fill="#c8102e"/>
<text x="223.4" y="126" font-size="6.5" textLength="18.8" lengthAdjust="spacingAndGlyphs">Dip G1</text>
<rect x="216.1" y="128.25" width="5" height="4.8" fill="#c8102e"/>
<text x="223.4" y="132.85" font-size="6.5" textLength="18.8" lengthAdjust="spacingAndGlyphs">Dip G2</text>
<rect x="216.1" y="135.1" width="5" height="4.8" fill="#165390"/>
<text x="223.4" y="139.7" font-size="6.5" textLength="15.2" lengthAdjust="spacingAndGlyphs">Dip S</text>
<text x="240.9" y="152.3" font-size="6.5" text-anchor="end" style="white-space:pre">G1: 58.41%</text>
<text x="240.9" y="159.5" font-size="6.5" text-anchor="end" style="white-space:pre">S: 27.53%</text>
<text x="240.9" y="166.7" font-size="6.5" text-anchor="end" style="white-space:pre">G2/M: 14.05%</text>
<path d="M309,193.8 L309,193.8 L309.48,193.68 L309.97,193.36 L310.45,192.88 L310.93,192.29 L311.42,191.65 L311.9,191 L312.38,190.38 L312.87,189.86 L313.35,189.48 L313.83,189.28 L314.32,189.27 L314.8,189.27 L315.28,189.27 L315.77,189.27 L316.25,189.27 L316.73,189.27 L317.22,189.27 L317.7,189.27 L318.18,189.27 L318.67,189.27 L319.15,189.27 L319.63,189.27 L320.12,189.27 L320.6,189.27 L321.08,189.27 L321.57,189.27 L322.05,189.27 L322.53,189.27 L323.02,189.27 L323.5,189.27 L323.98,189.27 L324.47,189.27 L324.95,189.27 L325.43,189.27 L325.92,189.27 L326.4,189.27 L326.88,189.27 L327.37,189.27 L327.85,189.27 L328.33,189.27 L328.82,189.27 L329.3,189.27 L329.78,189.27 L330.27,189.28 L330.75,189.38 L331.23,189.56 L331.72,189.81 L332.2,190.11 L332.68,190.46 L333.17,190.84 L333.65,191.24 L334.13,191.65 L334.62,192.05 L335.1,192.45 L335.58,192.81 L336.07,193.13 L336.55,193.41 L337.03,193.62 L337.52,193.75 L338,193.8 Z" fill="#9ec3dc"/>
<path d="M306.32,193.8 L306.32,193.44 L306.62,193.21 L306.93,192.85 L307.23,192.31 L307.54,191.52 L307.84,190.41 L308.14,188.89 L308.45,186.86 L308.75,184.24 L309.06,180.96 L309.36,177.01 L309.66,172.38 L309.97,167.18 L310.27,161.54 L310.58,155.7 L310.88,149.94 L311.18,144.59 L311.49,139.97 L311.79,136.41 L312.1,134.17 L312.4,133.4 L312.7,134.17 L313.01,136.41 L313.31,139.97 L313.62,144.59 L313.92,149.94 L314.22,155.7 L314.53,161.54 L314.83,167.18 L315.14,172.38 L315.44,177.01 L315.74,180.96 L316.05,184.24 L316.35,186.86 L316.66,188.89 L316.96,190.41 L317.26,191.52 L317.57,192.31 L317.87,192.85 L318.18,193.21 L318.48,193.44 L318.48,193.8 Z" fill="#e9a3b1" style="mix-blend-mode:multiply"/>
<path d="M330.54,193.8 L330.54,193.76 L330.99,193.73 L331.44,193.69 L331.88,193.63 L332.33,193.54 L332.78,193.42 L333.23,193.25 L333.68,193.02 L334.12,192.72 L334.57,192.36 L335.02,191.91 L335.47,191.39 L335.92,190.8 L336.36,190.17 L336.81,189.51 L337.26,188.87 L337.71,188.26 L338.16,187.74 L338.6,187.34 L339.05,187.09 L339.5,187.01 L339.95,187.09 L340.4,187.34 L340.84,187.74 L341.29,188.26 L341.74,188.87 L342.19,189.51 L342.64,190.17 L343.08,190.8 L343.53,191.39 L343.98,191.91 L344.43,192.36 L344.88,192.72 L345.32,193.02 L345.77,193.25 L346.22,193.42 L346.67,193.54 L347.12,193.63 L347.56,193.69 L348.01,193.73 L348.46,193.76 L348.46,193.8 Z" fill="#e9a3b1" style="mix-blend-mode:multiply"/>
<polyline points="303,193.8 303.5,193.8 304,193.8 304.5,193.79 305,193.77 305.5,193.72 306,193.59 306.5,193.31 307,192.74 307.5,191.63 308,189.66 308.5,186.45 309,181.62 309.5,174.83 310,166.13 310.5,156.19 311,146.16 311.5,137.54 312,131.79 312.5,129.93 313,132.28 313.5,138.32 314,146.9 314.5,156.48 315,165.59 315.5,173.31 316,179.24 316.5,183.38 317,186.05 317.5,187.62 318,188.49 318.5,188.92 319,189.13 319.5,189.21 320,189.25 320.5,189.26 321,189.27 321.5,189.27 322,189.27 322.5,189.27 323,189.27 323.5,189.27 324,189.27 324.5,189.27 325,189.27 325.5,189.27 326,189.27 326.5,189.27 327,189.27 327.5,189.27 328,189.27 328.5,189.27 329,189.26 329.5,189.26 330,189.25 330.5,189.28 331,189.4 331.5,189.57 332,189.79 332.5,190.02 333,190.24 333.5,190.43 334,190.55 334.5,190.58 335,190.5 335.5,190.3 336,189.98 336.5,189.55 337,189.04 337.5,188.48 338,187.91 338.5,187.42 339,187.11 339.5,187.01 340,187.11 340.5,187.42 341,187.91 341.5,188.53 342,189.24 342.5,189.97 343,190.69 343.5,191.35 344,191.93 344.5,192.42 345,192.81 345.5,193.12 346,193.34 346.5,193.5 347,193.61 347.5,193.69 348,193.73 348.5,193.76 349,193.78 349.5,193.79 350,193.79 350.5,193.8 351,193.8 351.5,193.8 352,193.8 352.5,193.8 353,193.8 353.5,193.8 354,193.8" fill="none" stroke="#e47b8e" stroke-width="0.6"/>
<polyline points="303,193.8 303.45,193.72 303.9,193.63 304.35,193.55 304.8,193.46 305.25,193.38 305.7,192.94 306.15,192.51 306.6,193.42 307.05,192.18 307.5,193.02 307.8,192.89 307.95,191.51 308.4,187.53 308.85,185.07 309.3,180.78 309.5,180.21 309.75,174.79 310.2,164.55 310.5,159.07 310.65,154.85 311.1,145.33 311.5,136.42 311.55,136.66 312,131.56 312.4,129.02 312.45,128.88 312.9,133.39 313.3,136.42 313.35,138.13 313.8,144.75 314.25,151.75 314.5,156.05 314.7,160.32 315.15,165.94 315.5,172.66 315.6,174.28 316.05,177.22 316.5,181.72 316.95,181.65 317.4,182.23 317.85,183.26 318.2,184.14 318.3,184.94 318.75,184.42 319.2,185.98 319.65,186.85 320,187.16 320.1,186.93 320.55,187.42 321,186.58 321.45,186.71 321.9,187.14 322.35,188.23 322.8,187.86 323.25,187.77 323.7,188.44 324,188.36 324.15,188.28 324.6,188.01 325.05,189.03 325.5,188.88 325.95,188 326.4,188.69 326.85,188.63 327.3,189.36 327.75,189.11 328,188.67 328.2,188.21 328.65,189.53 329.1,187.74 329.55,188.27 330,188.88 330.45,187.6 330.9,188.21 331.35,187.24 331.8,188.43 332,188.06 332.25,188.43 332.7,187.76 333.15,188.07 333.6,186.66 334.05,187.14 334.5,186.65 334.95,186.33 335.4,185.79 335.85,186.27 336,185.5 336.3,186.25 336.75,185.12 337.2,185.31 337.65,183.9 338.1,184.99 338.55,184.69 339,185.19 339.45,184.65 339.5,183.99 339.9,183.84 340.35,184.36 340.8,185.24 341,185.04 341.25,184.62 341.7,186.45 342.15,186.81 342.6,187.66 343,189.27 343.05,188.45 343.5,190.43 343.95,189.72 344.4,190.51 344.85,191.36 345.3,192.89 345.75,191.87 345.9,192.89 346.2,192.85 346.65,193.13 347.1,193.8 347.55,193.8 348,193.8 348.45,193.36 348.9,193.45 349.35,193.53 349.8,193.61 350,193.65 350.25,193.66 350.7,193.68 351.15,193.69 351.6,193.71 352.05,193.73 352.5,193.74 352.95,193.76 353.4,193.78 353.85,193.79 354,193.8" fill="none" stroke="#c8102e" stroke-width="1" stroke-linejoin="round"/>
<line x1="285.5" y1="120.6" x2="285.5" y2="194.4" stroke="#000" stroke-width="1.1"/>
<line x1="285" y1="193.8" x2="372.6" y2="193.8" stroke="#000" stroke-width="1.1"/>
<line x1="283.9" y1="193.8" x2="285.5" y2="193.8" stroke="#000" stroke-width="0.6"/>
<line x1="283.9" y1="190.78" x2="285.5" y2="190.78" stroke="#000" stroke-width="0.6"/>
<line x1="283.9" y1="187.76" x2="285.5" y2="187.76" stroke="#000" stroke-width="0.6"/>
<line x1="283.9" y1="184.74" x2="285.5" y2="184.74" stroke="#000" stroke-width="0.6"/>
<line x1="283.9" y1="181.72" x2="285.5" y2="181.72" stroke="#000" stroke-width="0.6"/>
<line x1="283.9" y1="178.7" x2="285.5" y2="178.7" stroke="#000" stroke-width="0.6"/>
<line x1="283.9" y1="175.68" x2="285.5" y2="175.68" stroke="#000" stroke-width="0.6"/>
<line x1="283.9" y1="172.66" x2="285.5" y2="172.66" stroke="#000" stroke-width="0.6"/>
<line x1="283.9" y1="169.64" x2="285.5" y2="169.64" stroke="#000" stroke-width="0.6"/>
<line x1="283.9" y1="166.62" x2="285.5" y2="166.62" stroke="#000" stroke-width="0.6"/>
<line x1="283.9" y1="163.6" x2="285.5" y2="163.6" stroke="#000" stroke-width="0.6"/>
<line x1="283.9" y1="160.58" x2="285.5" y2="160.58" stroke="#000" stroke-width="0.6"/>
<line x1="283.9" y1="157.56" x2="285.5" y2="157.56" stroke="#000" stroke-width="0.6"/>
<line x1="283.9" y1="154.54" x2="285.5" y2="154.54" stroke="#000" stroke-width="0.6"/>
<line x1="283.9" y1="151.52" x2="285.5" y2="151.52" stroke="#000" stroke-width="0.6"/>
<line x1="283.9" y1="148.5" x2="285.5" y2="148.5" stroke="#000" stroke-width="0.6"/>
<line x1="283.9" y1="145.48" x2="285.5" y2="145.48" stroke="#000" stroke-width="0.6"/>
<line x1="283.9" y1="142.46" x2="285.5" y2="142.46" stroke="#000" stroke-width="0.6"/>
<line x1="283.9" y1="139.44" x2="285.5" y2="139.44" stroke="#000" stroke-width="0.6"/>
<line x1="283.9" y1="136.42" x2="285.5" y2="136.42" stroke="#000" stroke-width="0.6"/>
<line x1="283.9" y1="133.4" x2="285.5" y2="133.4" stroke="#000" stroke-width="0.6"/>
<line x1="283.9" y1="130.38" x2="285.5" y2="130.38" stroke="#000" stroke-width="0.6"/>
<line x1="283.9" y1="127.36" x2="285.5" y2="127.36" stroke="#000" stroke-width="0.6"/>
<line x1="283.9" y1="124.34" x2="285.5" y2="124.34" stroke="#000" stroke-width="0.6"/>
<line x1="283.9" y1="121.32" x2="285.5" y2="121.32" stroke="#000" stroke-width="0.6"/>
<line x1="282.7" y1="193.8" x2="285.5" y2="193.8" stroke="#111" stroke-width="0.8"/>
<text x="279" y="196.4" font-size="7.6" text-anchor="end">0</text>
<line x1="282.7" y1="178.7" x2="285.5" y2="178.7" stroke="#111" stroke-width="0.8"/>
<text x="279" y="181.3" font-size="7.6" text-anchor="end">100</text>
<line x1="282.7" y1="163.6" x2="285.5" y2="163.6" stroke="#111" stroke-width="0.8"/>
<text x="279" y="166.2" font-size="7.6" text-anchor="end">200</text>
<line x1="282.7" y1="148.5" x2="285.5" y2="148.5" stroke="#111" stroke-width="0.8"/>
<text x="279" y="151.1" font-size="7.6" text-anchor="end">300</text>
<line x1="282.7" y1="133.4" x2="285.5" y2="133.4" stroke="#111" stroke-width="0.8"/>
<text x="279" y="136" font-size="7.6" text-anchor="end">400</text>
<line x1="285.7" y1="193.8" x2="285.7" y2="195.5" stroke="#000" stroke-width="0.6"/>
<line x1="289.16" y1="193.8" x2="289.16" y2="195.5" stroke="#000" stroke-width="0.6"/>
<line x1="292.62" y1="193.8" x2="292.62" y2="195.5" stroke="#000" stroke-width="0.6"/>
<line x1="296.08" y1="193.8" x2="296.08" y2="195.5" stroke="#000" stroke-width="0.6"/>
<line x1="299.54" y1="193.8" x2="299.54" y2="195.5" stroke="#000" stroke-width="0.6"/>
<line x1="303" y1="193.8" x2="303" y2="195.5" stroke="#000" stroke-width="0.6"/>
<line x1="306.46" y1="193.8" x2="306.46" y2="195.5" stroke="#000" stroke-width="0.6"/>
<line x1="309.92" y1="193.8" x2="309.92" y2="195.5" stroke="#000" stroke-width="0.6"/>
<line x1="313.38" y1="193.8" x2="313.38" y2="195.5" stroke="#000" stroke-width="0.6"/>
<line x1="316.84" y1="193.8" x2="316.84" y2="195.5" stroke="#000" stroke-width="0.6"/>
<line x1="320.3" y1="193.8" x2="320.3" y2="195.5" stroke="#000" stroke-width="0.6"/>
<line x1="323.76" y1="193.8" x2="323.76" y2="195.5" stroke="#000" stroke-width="0.6"/>
<line x1="327.22" y1="193.8" x2="327.22" y2="195.5" stroke="#000" stroke-width="0.6"/>
<line x1="330.68" y1="193.8" x2="330.68" y2="195.5" stroke="#000" stroke-width="0.6"/>
<line x1="334.14" y1="193.8" x2="334.14" y2="195.5" stroke="#000" stroke-width="0.6"/>
<line x1="337.6" y1="193.8" x2="337.6" y2="195.5" stroke="#000" stroke-width="0.6"/>
<line x1="341.06" y1="193.8" x2="341.06" y2="195.5" stroke="#000" stroke-width="0.6"/>
<line x1="344.52" y1="193.8" x2="344.52" y2="195.5" stroke="#000" stroke-width="0.6"/>
<line x1="347.98" y1="193.8" x2="347.98" y2="195.5" stroke="#000" stroke-width="0.6"/>
<line x1="351.44" y1="193.8" x2="351.44" y2="195.5" stroke="#000" stroke-width="0.6"/>
<line x1="354.9" y1="193.8" x2="354.9" y2="195.5" stroke="#000" stroke-width="0.6"/>
<line x1="358.36" y1="193.8" x2="358.36" y2="195.5" stroke="#000" stroke-width="0.6"/>
<line x1="361.82" y1="193.8" x2="361.82" y2="195.5" stroke="#000" stroke-width="0.6"/>
<line x1="365.28" y1="193.8" x2="365.28" y2="195.5" stroke="#000" stroke-width="0.6"/>
<line x1="368.74" y1="193.8" x2="368.74" y2="195.5" stroke="#000" stroke-width="0.6"/>
<line x1="285.7" y1="193.8" x2="285.7" y2="196.4" stroke="#111" stroke-width="0.8"/>
<text x="285.7" y="205.5" font-size="7.8" text-anchor="middle">0</text>
<line x1="303" y1="193.8" x2="303" y2="196.4" stroke="#111" stroke-width="0.8"/>
<text x="303" y="205.5" font-size="7.8" text-anchor="middle">50</text>
<line x1="320.3" y1="193.8" x2="320.3" y2="196.4" stroke="#111" stroke-width="0.8"/>
<text x="320.3" y="205.5" font-size="7.8" text-anchor="middle">100</text>
<line x1="337.6" y1="193.8" x2="337.6" y2="196.4" stroke="#111" stroke-width="0.8"/>
<text x="337.6" y="205.5" font-size="7.8" text-anchor="middle">150</text>
<line x1="354.9" y1="193.8" x2="354.9" y2="196.4" stroke="#111" stroke-width="0.8"/>
<text x="354.9" y="205.5" font-size="7.8" text-anchor="middle">200</text>
<path d="M311.14,196.1 L313.66,196.1 L312.4,194 Z" fill="#000"/>
<path d="M338.24,196.1 L340.76,196.1 L339.5,194 Z" fill="#000"/>
<text x="261.3" y="157" font-size="9.6" text-anchor="middle" textLength="21.8" lengthAdjust="spacingAndGlyphs" transform="rotate(-90 261.3 157)" style="stroke-width:.45px">Number</text>
<text x="326.5" y="217.4" font-size="8.2" text-anchor="middle" textLength="100" lengthAdjust="spacingAndGlyphs" style="stroke-width:.4px">Channels (FL3 INT LIN-FL3 INT LIN)</text>
<text x="326.9" y="116.2" font-size="7.9" text-anchor="middle" textLength="42.8" lengthAdjust="spacingAndGlyphs">shSPAG6-2</text>
<rect x="333.6" y="121.4" width="5" height="4.8" fill="#c8102e"/>
<text x="340.9" y="126" font-size="6.5" textLength="18.8" lengthAdjust="spacingAndGlyphs">Dip G1</text>
<rect x="333.6" y="128.25" width="5" height="4.8" fill="#c8102e"/>
<text x="340.9" y="132.85" font-size="6.5" textLength="18.8" lengthAdjust="spacingAndGlyphs">Dip G2</text>
<rect x="333.6" y="135.1" width="5" height="4.8" fill="#165390"/>
<text x="340.9" y="139.7" font-size="6.5" textLength="15.2" lengthAdjust="spacingAndGlyphs">Dip S</text>
<text x="363.3" y="152.3" font-size="6.5" text-anchor="end" style="white-space:pre">G1: 57.98%</text>
<text x="363.3" y="159.5" font-size="6.5" text-anchor="end" style="white-space:pre">S: 29.39%</text>
<text x="363.3" y="166.7" font-size="6.5" text-anchor="end" style="white-space:pre">G2/M: 12.63%</text>
<path d="M58.5,323.2 L58.5,323.2 L58.91,323.04 L59.32,322.62 L59.73,322.01 L60.13,321.3 L60.54,320.56 L60.95,319.88 L61.36,319.34 L61.77,319.02 L62.17,318.97 L62.58,318.97 L62.99,318.97 L63.4,318.97 L63.81,318.97 L64.22,318.97 L64.62,318.97 L65.03,318.97 L65.44,318.97 L65.85,318.97 L66.26,318.97 L66.67,318.97 L67.08,318.97 L67.48,318.97 L67.89,318.97 L68.3,318.97 L68.71,318.97 L69.12,318.97 L69.53,318.97 L69.93,318.97 L70.34,318.97 L70.75,318.97 L71.16,318.97 L71.57,318.97 L71.97,318.97 L72.38,318.97 L72.79,318.97 L73.2,318.97 L73.61,318.97 L74.02,318.97 L74.42,318.97 L74.83,318.97 L75.24,318.97 L75.65,318.97 L76.06,318.97 L76.47,318.97 L76.88,318.97 L77.28,318.97 L77.69,318.97 L78.1,318.98 L78.51,319.09 L78.92,319.34 L79.33,319.7 L79.73,320.14 L80.14,320.63 L80.55,321.15 L80.96,321.66 L81.37,322.14 L81.78,322.56 L82.18,322.9 L82.59,323.12 L83,323.2 Z" fill="#9ec3dc"/>
<path d="M57.28,323.2 L57.28,322.8 L57.42,322.54 L57.55,322.13 L57.69,321.53 L57.82,320.65 L57.96,319.41 L58.1,317.71 L58.23,315.44 L58.37,312.51 L58.5,308.86 L58.64,304.43 L58.78,299.27 L58.91,293.45 L59.05,287.15 L59.18,280.62 L59.32,274.18 L59.46,268.2 L59.59,263.04 L59.73,259.07 L59.86,256.56 L60,255.7 L60.14,256.56 L60.27,259.07 L60.41,263.04 L60.54,268.2 L60.68,274.18 L60.82,280.62 L60.95,287.15 L61.09,293.45 L61.22,299.27 L61.36,304.43 L61.5,308.86 L61.63,312.51 L61.77,315.44 L61.9,317.71 L62.04,319.41 L62.18,320.65 L62.31,321.53 L62.45,322.13 L62.58,322.54 L62.72,322.8 L62.72,323.2 Z" fill="#e9a3b1" style="mix-blend-mode:multiply"/>
<path d="M76.58,323.2 L76.58,323.17 L76.84,323.16 L77.09,323.13 L77.35,323.09 L77.6,323.03 L77.86,322.95 L78.12,322.83 L78.37,322.68 L78.63,322.49 L78.88,322.24 L79.14,321.95 L79.4,321.6 L79.65,321.22 L79.91,320.8 L80.16,320.36 L80.42,319.93 L80.68,319.53 L80.93,319.19 L81.19,318.92 L81.44,318.76 L81.7,318.7 L81.96,318.76 L82.21,318.92 L82.47,319.19 L82.72,319.53 L82.98,319.93 L83.24,320.36 L83.49,320.8 L83.75,321.22 L84,321.6 L84.26,321.95 L84.52,322.24 L84.77,322.49 L85.03,322.68 L85.28,322.83 L85.54,322.95 L85.8,323.03 L86.05,323.09 L86.31,323.13 L86.56,323.16 L86.82,323.17 L86.82,323.2 Z" fill="#e9a3b1" style="mix-blend-mode:multiply"/>
<polyline points="45,323.2 45.5,323.2 46,323.2 46.5,323.2 47,323.2 47.5,323.2 48,323.2 48.5,323.2 49,323.2 49.5,323.2 50,323.2 50.5,323.2 51,323.2 51.5,323.2 52,323.2 52.5,323.2 53,323.2 53.5,323.2 54,323.2 54.5,323.2 55,323.2 55.5,323.2 56,323.2 56.5,323.19 57,323.07 57.5,322.31 58,318.96 58.5,308.97 59,289.18 59.5,265.59 60,254.04 60.5,263.86 61,286.02 61.5,304.98 62,314.73 62.5,318.08 63,318.84 63.5,318.96 64,318.97 64.5,318.97 65,318.97 65.5,318.97 66,318.97 66.5,318.97 67,318.97 67.5,318.97 68,318.97 68.5,318.97 69,318.97 69.5,318.97 70,318.97 70.5,318.97 71,318.97 71.5,318.97 72,318.97 72.5,318.97 73,318.97 73.5,318.97 74,318.97 74.5,318.97 75,318.97 75.5,318.97 76,318.96 76.5,318.95 77,318.91 77.5,318.83 78,318.66 78.5,318.48 79,318.33 79.5,318.14 80,317.9 80.5,317.69 81,317.62 81.5,317.82 82,318.34 82.5,319.11 83,319.97 83.5,320.81 84,321.6 84.5,322.23 85,322.66 85.5,322.93 86,323.08 86.5,323.15 87,323.18 87.5,323.19 88,323.2 88.5,323.2 89,323.2 89.5,323.2 90,323.2 90.5,323.2 91,323.2 91.5,323.2 92,323.2 92.5,323.2 93,323.2 93.5,323.2 94,323.2 94.5,323.2 95,323.2 95.5,323.2 96,323.2 96.5,323.2 97,323.2 97.5,323.2 98,323.2 98.5,323.2 99,323.2 99.5,323.2 100,323.2" fill="none" stroke="#e47b8e" stroke-width="0.6"/>
<polyline points="45,322.93 45.45,322.84 45.9,323.02 46.35,323.2 46.8,322.84 47.25,322.9 47.7,323.04 48.15,322.31 48.6,322.89 49.05,323.09 49.5,323.2 49.95,322.11 50.4,322.48 50.85,322.09 51.3,323.2 51.75,323.16 52.2,321.98 52.65,323.2 53.1,323.2 53.55,323.05 54,322.98 54.45,322.14 54.9,321.88 55,322.75 55.35,322.72 55.8,321.78 56.25,321.91 56.7,321.9 57,322.3 57.15,319.28 57.6,313.54 58.05,306.97 58.5,301.17 58.8,296.2 58.95,290.45 59.4,273.31 59.5,269.2 59.85,257.29 60,252.19 60.3,262.69 60.5,269.2 60.75,278.77 61.2,296.2 61.65,304.91 62,312.4 62.1,314.25 62.5,317.17 62.55,318.08 63,317.93 63.45,317.83 63.9,317.26 64,317.62 64.35,317.18 64.8,317.34 65.25,317 65.7,318.3 66.15,317.7 66.6,318.56 67,317.98 67.05,317.78 67.5,318.83 67.95,318.66 68.4,317.16 68.85,317.57 69.3,318.86 69.75,318.09 70,318.16 70.2,319.01 70.65,317.94 71.1,317.33 71.55,318.3 72,318.54 72.45,317.6 72.9,317.24 73,317.98 73.35,317.64 73.8,318.72 74.25,318.29 74.7,317.09 75.15,317.27 75.6,316.95 76,317.62 76.05,316.8 76.5,317.88 76.95,316.53 77.4,316.97 77.85,316.53 78.3,315.82 78.75,316.55 79,316 79.2,315.23 79.65,315.91 80.1,314.72 80.55,315.03 81,314.42 81.45,314.28 81.7,314.56 81.9,315.56 82.35,315.6 82.8,315.05 83,315.55 83.25,316.92 83.7,316.92 84.15,318.46 84.5,319.6 84.6,320.43 85.05,320.91 85.5,320.8 85.95,323.2 86,322.48 86.4,322.01 86.85,322.14 87.3,323.12 87.75,322.37 88.2,322.36 88.65,322.01 89.1,322.09 89.55,323.03 90,322.93 90.45,322.94 90.9,322.95 91.35,322.95 91.8,322.96 92.25,322.97 92.7,322.98 93.15,322.99 93.6,322.99 94.05,323 94.5,323.01 94.95,323.02 95,323.02 95.4,323.03 95.85,323.05 96.3,323.07 96.75,323.08 97.2,323.1 97.65,323.12 98.1,323.13 98.55,323.15 99,323.16 99.45,323.18 99.9,323.2 100,323.2" fill="none" stroke="#c8102e" stroke-width="1" stroke-linejoin="round"/>
<line x1="39.3" y1="250.5" x2="39.3" y2="323.8" stroke="#000" stroke-width="1.1"/>
<line x1="38.8" y1="323.2" x2="119.4" y2="323.2" stroke="#000" stroke-width="1.1"/>
<line x1="37.7" y1="323.2" x2="39.3" y2="323.2" stroke="#000" stroke-width="0.6"/>
<line x1="37.7" y1="319.6" x2="39.3" y2="319.6" stroke="#000" stroke-width="0.6"/>
<line x1="37.7" y1="316" x2="39.3" y2="316" stroke="#000" stroke-width="0.6"/>
<line x1="37.7" y1="312.4" x2="39.3" y2="312.4" stroke="#000" stroke-width="0.6"/>
<line x1="37.7" y1="308.8" x2="39.3" y2="308.8" stroke="#000" stroke-width="0.6"/>
<line x1="37.7" y1="305.2" x2="39.3" y2="305.2" stroke="#000" stroke-width="0.6"/>
<line x1="37.7" y1="301.6" x2="39.3" y2="301.6" stroke="#000" stroke-width="0.6"/>
<line x1="37.7" y1="298" x2="39.3" y2="298" stroke="#000" stroke-width="0.6"/>
<line x1="37.7" y1="294.4" x2="39.3" y2="294.4" stroke="#000" stroke-width="0.6"/>
<line x1="37.7" y1="290.8" x2="39.3" y2="290.8" stroke="#000" stroke-width="0.6"/>
<line x1="37.7" y1="287.2" x2="39.3" y2="287.2" stroke="#000" stroke-width="0.6"/>
<line x1="37.7" y1="283.6" x2="39.3" y2="283.6" stroke="#000" stroke-width="0.6"/>
<line x1="37.7" y1="280" x2="39.3" y2="280" stroke="#000" stroke-width="0.6"/>
<line x1="37.7" y1="276.4" x2="39.3" y2="276.4" stroke="#000" stroke-width="0.6"/>
<line x1="37.7" y1="272.8" x2="39.3" y2="272.8" stroke="#000" stroke-width="0.6"/>
<line x1="37.7" y1="269.2" x2="39.3" y2="269.2" stroke="#000" stroke-width="0.6"/>
<line x1="37.7" y1="265.6" x2="39.3" y2="265.6" stroke="#000" stroke-width="0.6"/>
<line x1="37.7" y1="262" x2="39.3" y2="262" stroke="#000" stroke-width="0.6"/>
<line x1="37.7" y1="258.4" x2="39.3" y2="258.4" stroke="#000" stroke-width="0.6"/>
<line x1="37.7" y1="254.8" x2="39.3" y2="254.8" stroke="#000" stroke-width="0.6"/>
<line x1="37.7" y1="251.2" x2="39.3" y2="251.2" stroke="#000" stroke-width="0.6"/>
<line x1="36.5" y1="323.2" x2="39.3" y2="323.2" stroke="#111" stroke-width="0.8"/>
<text x="32.8" y="325.8" font-size="7.6" text-anchor="end">0</text>
<line x1="36.5" y1="305.2" x2="39.3" y2="305.2" stroke="#111" stroke-width="0.8"/>
<text x="32.8" y="307.8" font-size="7.6" text-anchor="end">200</text>
<line x1="36.5" y1="287.2" x2="39.3" y2="287.2" stroke="#111" stroke-width="0.8"/>
<text x="32.8" y="289.8" font-size="7.6" text-anchor="end">400</text>
<line x1="36.5" y1="269.2" x2="39.3" y2="269.2" stroke="#111" stroke-width="0.8"/>
<text x="32.8" y="271.8" font-size="7.6" text-anchor="end">600</text>
<line x1="39.6" y1="323.2" x2="39.6" y2="324.9" stroke="#000" stroke-width="0.6"/>
<line x1="43.06" y1="323.2" x2="43.06" y2="324.9" stroke="#000" stroke-width="0.6"/>
<line x1="46.53" y1="323.2" x2="46.53" y2="324.9" stroke="#000" stroke-width="0.6"/>
<line x1="49.99" y1="323.2" x2="49.99" y2="324.9" stroke="#000" stroke-width="0.6"/>
<line x1="53.46" y1="323.2" x2="53.46" y2="324.9" stroke="#000" stroke-width="0.6"/>
<line x1="56.92" y1="323.2" x2="56.92" y2="324.9" stroke="#000" stroke-width="0.6"/>
<line x1="60.38" y1="323.2" x2="60.38" y2="324.9" stroke="#000" stroke-width="0.6"/>
<line x1="63.85" y1="323.2" x2="63.85" y2="324.9" stroke="#000" stroke-width="0.6"/>
<line x1="67.31" y1="323.2" x2="67.31" y2="324.9" stroke="#000" stroke-width="0.6"/>
<line x1="70.78" y1="323.2" x2="70.78" y2="324.9" stroke="#000" stroke-width="0.6"/>
<line x1="74.24" y1="323.2" x2="74.24" y2="324.9" stroke="#000" stroke-width="0.6"/>
<line x1="77.7" y1="323.2" x2="77.7" y2="324.9" stroke="#000" stroke-width="0.6"/>
<line x1="81.17" y1="323.2" x2="81.17" y2="324.9" stroke="#000" stroke-width="0.6"/>
<line x1="84.63" y1="323.2" x2="84.63" y2="324.9" stroke="#000" stroke-width="0.6"/>
<line x1="88.1" y1="323.2" x2="88.1" y2="324.9" stroke="#000" stroke-width="0.6"/>
<line x1="91.56" y1="323.2" x2="91.56" y2="324.9" stroke="#000" stroke-width="0.6"/>
<line x1="95.02" y1="323.2" x2="95.02" y2="324.9" stroke="#000" stroke-width="0.6"/>
<line x1="98.49" y1="323.2" x2="98.49" y2="324.9" stroke="#000" stroke-width="0.6"/>
<line x1="101.95" y1="323.2" x2="101.95" y2="324.9" stroke="#000" stroke-width="0.6"/>
<line x1="105.42" y1="323.2" x2="105.42" y2="324.9" stroke="#000" stroke-width="0.6"/>
<line x1="108.88" y1="323.2" x2="108.88" y2="324.9" stroke="#000" stroke-width="0.6"/>
<line x1="112.34" y1="323.2" x2="112.34" y2="324.9" stroke="#000" stroke-width="0.6"/>
<line x1="115.81" y1="323.2" x2="115.81" y2="324.9" stroke="#000" stroke-width="0.6"/>
<line x1="39.6" y1="323.2" x2="39.6" y2="325.8" stroke="#111" stroke-width="0.8"/>
<text x="39.6" y="334.9" font-size="7.8" text-anchor="middle">0</text>
<line x1="56.92" y1="323.2" x2="56.92" y2="325.8" stroke="#111" stroke-width="0.8"/>
<text x="56.92" y="334.9" font-size="7.8" text-anchor="middle">40</text>
<line x1="74.24" y1="323.2" x2="74.24" y2="325.8" stroke="#111" stroke-width="0.8"/>
<text x="74.24" y="334.9" font-size="7.8" text-anchor="middle">80</text>
<line x1="91.56" y1="323.2" x2="91.56" y2="325.8" stroke="#111" stroke-width="0.8"/>
<text x="91.56" y="334.9" font-size="7.8" text-anchor="middle">120</text>
<line x1="108.88" y1="323.2" x2="108.88" y2="325.8" stroke="#111" stroke-width="0.8"/>
<text x="108.88" y="334.9" font-size="7.8" text-anchor="middle">160</text>
<path d="M58.7,326.9 L62.9,326.9 L60.8,323.4 Z" fill="#000"/>
<path d="M79.1,326.9 L83.3,326.9 L81.2,323.4 Z" fill="#000"/>
<text x="14.9" y="286.5" font-size="9.6" text-anchor="middle" textLength="21.8" lengthAdjust="spacingAndGlyphs" transform="rotate(-90 14.9 286.5)" style="stroke-width:.45px">Number</text>
<text x="80.3" y="346.8" font-size="8.2" text-anchor="middle" textLength="100" lengthAdjust="spacingAndGlyphs" style="stroke-width:.4px">Channels (FL3 INT LIN-FL3 INT LIN)</text>
<text x="81.9" y="246.8" font-size="7.9" text-anchor="middle" textLength="20.9" lengthAdjust="spacingAndGlyphs">shCtrl</text>
<rect x="94.1" y="253.9" width="5" height="4.8" fill="#c8102e"/>
<text x="101.4" y="258.5" font-size="6.5" textLength="18.8" lengthAdjust="spacingAndGlyphs">Dip G1</text>
<rect x="94.1" y="260.75" width="5" height="4.8" fill="#c8102e"/>
<text x="101.4" y="265.35" font-size="6.5" textLength="18.8" lengthAdjust="spacingAndGlyphs">Dip G2</text>
<rect x="94.1" y="267.6" width="5" height="4.8" fill="#165390"/>
<text x="101.4" y="272.2" font-size="6.5" textLength="15.2" lengthAdjust="spacingAndGlyphs">Dip S</text>
<text x="120.7" y="287.4" font-size="6.5" text-anchor="end" style="white-space:pre">G1: 51.38%</text>
<text x="120.7" y="294.6" font-size="6.5" text-anchor="end" style="white-space:pre">S: 39.04%</text>
<text x="120.7" y="301.8" font-size="6.5" text-anchor="end" style="white-space:pre">G2/M:   9.58%</text>
<path d="M181,323.2 L181,323.2 L181.4,323.13 L181.8,322.95 L182.2,322.68 L182.6,322.35 L183,322 L183.4,321.64 L183.8,321.31 L184.2,321.04 L184.6,320.86 L185,320.79 L185.4,320.79 L185.8,320.79 L186.2,320.79 L186.6,320.79 L187,320.79 L187.4,320.79 L187.8,320.79 L188.2,320.79 L188.6,320.79 L189,320.79 L189.4,320.79 L189.8,320.79 L190.2,320.79 L190.6,320.79 L191,320.79 L191.4,320.79 L191.8,320.79 L192.2,320.79 L192.6,320.79 L193,320.79 L193.4,320.79 L193.8,320.79 L194.2,320.79 L194.6,320.79 L195,320.79 L195.4,320.79 L195.8,320.79 L196.2,320.79 L196.6,320.79 L197,320.79 L197.4,320.79 L197.8,320.79 L198.2,320.79 L198.6,320.79 L199,320.79 L199.4,320.79 L199.8,320.79 L200.2,320.8 L200.6,320.89 L201,321.04 L201.4,321.25 L201.8,321.5 L202.2,321.78 L202.6,322.07 L203,322.35 L203.4,322.62 L203.8,322.85 L204.2,323.03 L204.6,323.16 L205,323.2 Z" fill="#9ec3dc"/>
<path d="M178.92,323.2 L178.92,322.86 L179.1,322.63 L179.29,322.29 L179.47,321.77 L179.66,321.02 L179.84,319.96 L180.02,318.51 L180.21,316.57 L180.39,314.07 L180.58,310.94 L180.76,307.17 L180.94,302.75 L181.13,297.78 L181.31,292.4 L181.5,286.82 L181.68,281.32 L181.86,276.21 L182.05,271.81 L182.23,268.41 L182.42,266.26 L182.6,265.53 L182.78,266.26 L182.97,268.41 L183.15,271.81 L183.34,276.21 L183.52,281.32 L183.7,286.82 L183.89,292.4 L184.07,297.78 L184.26,302.75 L184.44,307.17 L184.62,310.94 L184.81,314.07 L184.99,316.57 L185.18,318.51 L185.36,319.96 L185.54,321.02 L185.73,321.77 L185.91,322.29 L186.1,322.63 L186.28,322.86 L186.28,323.2 Z" fill="#e9a3b1" style="mix-blend-mode:multiply"/>
<path d="M198.98,323.2 L198.98,323.18 L199.24,323.17 L199.49,323.15 L199.75,323.13 L200,323.09 L200.26,323.04 L200.52,322.96 L200.77,322.86 L201.03,322.74 L201.28,322.58 L201.54,322.39 L201.8,322.16 L202.05,321.91 L202.31,321.64 L202.56,321.36 L202.82,321.08 L203.08,320.82 L203.33,320.6 L203.59,320.43 L203.84,320.32 L204.1,320.28 L204.36,320.32 L204.61,320.43 L204.87,320.6 L205.12,320.82 L205.38,321.08 L205.64,321.36 L205.89,321.64 L206.15,321.91 L206.4,322.16 L206.66,322.39 L206.92,322.58 L207.17,322.74 L207.43,322.86 L207.68,322.96 L207.94,323.04 L208.2,323.09 L208.45,323.13 L208.71,323.15 L208.96,323.17 L209.22,323.18 L209.22,323.2 Z" fill="#e9a3b1" style="mix-blend-mode:multiply"/>
<polyline points="165,323.2 165.5,323.2 166,323.2 166.5,323.2 167,323.2 167.5,323.2 168,323.2 168.5,323.2 169,323.2 169.5,323.2 170,323.2 170.5,323.2 171,323.2 171.5,323.2 172,323.2 172.5,323.2 173,323.2 173.5,323.2 174,323.2 174.5,323.2 175,323.2 175.5,323.2 176,323.2 176.5,323.2 177,323.2 177.5,323.2 178,323.18 178.5,323.1 179,322.77 179.5,321.68 180,318.72 180.5,312.31 181,301.29 181.5,286.6 182,272.49 182.5,264.99 183,267.71 183.5,279.1 184,293.68 184.5,306.16 185,314.26 185.5,318.39 186,320.06 186.5,320.61 187,320.75 187.5,320.78 188,320.79 188.5,320.79 189,320.79 189.5,320.79 190,320.79 190.5,320.79 191,320.79 191.5,320.79 192,320.79 192.5,320.79 193,320.79 193.5,320.79 194,320.79 194.5,320.79 195,320.79 195.5,320.79 196,320.79 196.5,320.79 197,320.79 197.5,320.79 198,320.79 198.5,320.78 199,320.77 199.5,320.74 200,320.68 200.5,320.63 201,320.59 201.5,320.53 202,320.4 202.5,320.22 203,320.05 203.5,319.96 204,320.04 204.5,320.3 205,320.71 205.5,321.21 206,321.76 206.5,322.25 207,322.64 207.5,322.89 208,323.05 208.5,323.13 209,323.17 209.5,323.19 210,323.2 210.5,323.2 211,323.2 211.5,323.2 212,323.2 212.5,323.2 213,323.2 213.5,323.2 214,323.2 214.5,323.2 215,323.2 215.5,323.2 216,323.2 216.5,323.2 217,323.2 217.5,323.2 218,323.2" fill="none" stroke="#e47b8e" stroke-width="0.6"/>
<polyline points="165,322.98 165.45,322.54 165.9,323.2 166.35,323.2 166.8,323.2 167.25,322.38 167.7,322.46 168.15,322.3 168.6,322.43 169.05,323.2 169.5,322.25 169.95,322.97 170.4,322.39 170.85,322.53 171.3,322.77 171.75,323.2 172.2,323.07 172.65,322 173.1,322.46 173.55,322.22 174,323.2 174.45,323.2 174.9,323.2 175,322.83 175.35,323.2 175.8,323.18 176.25,323.2 176.7,323.17 177.15,322.15 177.6,323.16 178.05,322.46 178.5,322.89 178.95,322.49 179.4,322.32 179.85,315.12 180.3,307.92 180.75,300.95 181.2,294 181.65,284.36 182.1,274.7 182.55,266.65 182.7,262.98 183,271.27 183.45,283.24 183.9,294 184.35,300.87 184.8,307.16 185.25,314.03 185.5,317.21 185.7,316.82 186.15,318.39 186.6,318.56 187,319.19 187.05,318.61 187.5,318.71 187.95,319.34 188.4,318.91 188.85,319.34 189.3,319.65 189.75,319.33 190,319.55 190.2,318.89 190.65,319.55 191.1,319.11 191.55,319.12 192,319.06 192.45,319.38 192.9,318.87 193.35,319.92 193.8,320.48 194.25,319.48 194.7,320.08 195,319.7 195.15,320.46 195.6,318.83 196.05,318.97 196.5,320.14 196.95,320.16 197.4,319.77 197.85,318.88 198.3,319.3 198.75,320.09 199,319.4 199.2,320.04 199.65,319.74 200.1,318.52 200.55,319.55 201,318.55 201.45,319.02 201.9,317.83 202,318.45 202.35,319.19 202.8,318.39 203.25,318.46 203.7,317.4 204.1,317.8 204.15,318.03 204.6,318.15 205.05,318.36 205.5,318.38 205.95,318.81 206.4,320.15 206.85,320.13 207,320.64 207.3,320.61 207.75,320.88 208.2,322.31 208.65,321.79 208.9,322.76 209.1,322.28 209.55,322.02 210,323.08 210.45,322.95 210.9,322.95 211.35,322.06 211.8,322.81 212.25,322.66 212.7,322.23 213,322.98 213.15,322.99 213.6,323.01 214.05,323.03 214.5,323.05 214.95,323.07 215.4,323.09 215.85,323.11 216.3,323.13 216.75,323.15 217.2,323.16 217.65,323.18 218,323.2" fill="none" stroke="#c8102e" stroke-width="1" stroke-linejoin="round"/>
<line x1="159.3" y1="247.5" x2="159.3" y2="323.8" stroke="#000" stroke-width="1.1"/>
<line x1="158.8" y1="323.2" x2="243.7" y2="323.2" stroke="#000" stroke-width="1.1"/>
<line x1="157.7" y1="323.2" x2="159.3" y2="323.2" stroke="#000" stroke-width="0.6"/>
<line x1="157.7" y1="320.28" x2="159.3" y2="320.28" stroke="#000" stroke-width="0.6"/>
<line x1="157.7" y1="317.36" x2="159.3" y2="317.36" stroke="#000" stroke-width="0.6"/>
<line x1="157.7" y1="314.44" x2="159.3" y2="314.44" stroke="#000" stroke-width="0.6"/>
<line x1="157.7" y1="311.52" x2="159.3" y2="311.52" stroke="#000" stroke-width="0.6"/>
<line x1="157.7" y1="308.6" x2="159.3" y2="308.6" stroke="#000" stroke-width="0.6"/>
<line x1="157.7" y1="305.68" x2="159.3" y2="305.68" stroke="#000" stroke-width="0.6"/>
<line x1="157.7" y1="302.76" x2="159.3" y2="302.76" stroke="#000" stroke-width="0.6"/>
<line x1="157.7" y1="299.84" x2="159.3" y2="299.84" stroke="#000" stroke-width="0.6"/>
<line x1="157.7" y1="296.92" x2="159.3" y2="296.92" stroke="#000" stroke-width="0.6"/>
<line x1="157.7" y1="294" x2="159.3" y2="294" stroke="#000" stroke-width="0.6"/>
<line x1="157.7" y1="291.08" x2="159.3" y2="291.08" stroke="#000" stroke-width="0.6"/>
<line x1="157.7" y1="288.16" x2="159.3" y2="288.16" stroke="#000" stroke-width="0.6"/>
<line x1="157.7" y1="285.24" x2="159.3" y2="285.24" stroke="#000" stroke-width="0.6"/>
<line x1="157.7" y1="282.32" x2="159.3" y2="282.32" stroke="#000" stroke-width="0.6"/>
<line x1="157.7" y1="279.4" x2="159.3" y2="279.4" stroke="#000" stroke-width="0.6"/>
<line x1="157.7" y1="276.48" x2="159.3" y2="276.48" stroke="#000" stroke-width="0.6"/>
<line x1="157.7" y1="273.56" x2="159.3" y2="273.56" stroke="#000" stroke-width="0.6"/>
<line x1="157.7" y1="270.64" x2="159.3" y2="270.64" stroke="#000" stroke-width="0.6"/>
<line x1="157.7" y1="267.72" x2="159.3" y2="267.72" stroke="#000" stroke-width="0.6"/>
<line x1="157.7" y1="264.8" x2="159.3" y2="264.8" stroke="#000" stroke-width="0.6"/>
<line x1="157.7" y1="261.88" x2="159.3" y2="261.88" stroke="#000" stroke-width="0.6"/>
<line x1="157.7" y1="258.96" x2="159.3" y2="258.96" stroke="#000" stroke-width="0.6"/>
<line x1="157.7" y1="256.04" x2="159.3" y2="256.04" stroke="#000" stroke-width="0.6"/>
<line x1="157.7" y1="253.12" x2="159.3" y2="253.12" stroke="#000" stroke-width="0.6"/>
<line x1="157.7" y1="250.2" x2="159.3" y2="250.2" stroke="#000" stroke-width="0.6"/>
<line x1="156.5" y1="323.2" x2="159.3" y2="323.2" stroke="#111" stroke-width="0.8"/>
<text x="152.8" y="325.8" font-size="7.6" text-anchor="end">0</text>
<line x1="156.5" y1="308.6" x2="159.3" y2="308.6" stroke="#111" stroke-width="0.8"/>
<text x="152.8" y="311.2" font-size="7.6" text-anchor="end">200</text>
<line x1="156.5" y1="294" x2="159.3" y2="294" stroke="#111" stroke-width="0.8"/>
<text x="152.8" y="296.6" font-size="7.6" text-anchor="end">400</text>
<line x1="156.5" y1="279.4" x2="159.3" y2="279.4" stroke="#111" stroke-width="0.8"/>
<text x="152.8" y="282" font-size="7.6" text-anchor="end">600</text>
<line x1="156.5" y1="264.8" x2="159.3" y2="264.8" stroke="#111" stroke-width="0.8"/>
<text x="152.8" y="267.4" font-size="7.6" text-anchor="end">800</text>
<line x1="159.6" y1="323.2" x2="159.6" y2="324.9" stroke="#000" stroke-width="0.6"/>
<line x1="163.12" y1="323.2" x2="163.12" y2="324.9" stroke="#000" stroke-width="0.6"/>
<line x1="166.64" y1="323.2" x2="166.64" y2="324.9" stroke="#000" stroke-width="0.6"/>
<line x1="170.16" y1="323.2" x2="170.16" y2="324.9" stroke="#000" stroke-width="0.6"/>
<line x1="173.68" y1="323.2" x2="173.68" y2="324.9" stroke="#000" stroke-width="0.6"/>
<line x1="177.2" y1="323.2" x2="177.2" y2="324.9" stroke="#000" stroke-width="0.6"/>
<line x1="180.72" y1="323.2" x2="180.72" y2="324.9" stroke="#000" stroke-width="0.6"/>
<line x1="184.24" y1="323.2" x2="184.24" y2="324.9" stroke="#000" stroke-width="0.6"/>
<line x1="187.76" y1="323.2" x2="187.76" y2="324.9" stroke="#000" stroke-width="0.6"/>
<line x1="191.28" y1="323.2" x2="191.28" y2="324.9" stroke="#000" stroke-width="0.6"/>
<line x1="194.8" y1="323.2" x2="194.8" y2="324.9" stroke="#000" stroke-width="0.6"/>
<line x1="198.32" y1="323.2" x2="198.32" y2="324.9" stroke="#000" stroke-width="0.6"/>
<line x1="201.84" y1="323.2" x2="201.84" y2="324.9" stroke="#000" stroke-width="0.6"/>
<line x1="205.36" y1="323.2" x2="205.36" y2="324.9" stroke="#000" stroke-width="0.6"/>
<line x1="208.88" y1="323.2" x2="208.88" y2="324.9" stroke="#000" stroke-width="0.6"/>
<line x1="212.4" y1="323.2" x2="212.4" y2="324.9" stroke="#000" stroke-width="0.6"/>
<line x1="215.92" y1="323.2" x2="215.92" y2="324.9" stroke="#000" stroke-width="0.6"/>
<line x1="219.44" y1="323.2" x2="219.44" y2="324.9" stroke="#000" stroke-width="0.6"/>
<line x1="222.96" y1="323.2" x2="222.96" y2="324.9" stroke="#000" stroke-width="0.6"/>
<line x1="226.48" y1="323.2" x2="226.48" y2="324.9" stroke="#000" stroke-width="0.6"/>
<line x1="230" y1="323.2" x2="230" y2="324.9" stroke="#000" stroke-width="0.6"/>
<line x1="233.52" y1="323.2" x2="233.52" y2="324.9" stroke="#000" stroke-width="0.6"/>
<line x1="237.04" y1="323.2" x2="237.04" y2="324.9" stroke="#000" stroke-width="0.6"/>
<line x1="240.56" y1="323.2" x2="240.56" y2="324.9" stroke="#000" stroke-width="0.6"/>
<line x1="159.6" y1="323.2" x2="159.6" y2="325.8" stroke="#111" stroke-width="0.8"/>
<text x="159.6" y="334.9" font-size="7.8" text-anchor="middle">0</text>
<line x1="177.2" y1="323.2" x2="177.2" y2="325.8" stroke="#111" stroke-width="0.8"/>
<text x="177.2" y="334.9" font-size="7.8" text-anchor="middle">40</text>
<line x1="194.8" y1="323.2" x2="194.8" y2="325.8" stroke="#111" stroke-width="0.8"/>
<text x="194.8" y="334.9" font-size="7.8" text-anchor="middle">80</text>
<line x1="212.4" y1="323.2" x2="212.4" y2="325.8" stroke="#111" stroke-width="0.8"/>
<text x="212.4" y="334.9" font-size="7.8" text-anchor="middle">120</text>
<line x1="230" y1="323.2" x2="230" y2="325.8" stroke="#111" stroke-width="0.8"/>
<text x="230" y="334.9" font-size="7.8" text-anchor="middle">160</text>
<path d="M179.7,326.9 L183.9,326.9 L181.8,323.4 Z" fill="#000"/>
<path d="M201.4,326.9 L205.6,326.9 L203.5,323.4 Z" fill="#000"/>
<text x="135.1" y="284.8" font-size="9.6" text-anchor="middle" textLength="21.8" lengthAdjust="spacingAndGlyphs" transform="rotate(-90 135.1 284.8)" style="stroke-width:.45px">Number</text>
<text x="200.5" y="346.8" font-size="8.2" text-anchor="middle" textLength="100" lengthAdjust="spacingAndGlyphs" style="stroke-width:.4px">Channels (FL3 INT LIN-FL3 INT LIN)</text>
<text x="203.3" y="246.8" font-size="7.9" text-anchor="middle" textLength="41.7" lengthAdjust="spacingAndGlyphs">shSPAG6-1</text>
<rect x="216.1" y="253.9" width="5" height="4.8" fill="#c8102e"/>
<text x="223.4" y="258.5" font-size="6.5" textLength="18.8" lengthAdjust="spacingAndGlyphs">Dip G1</text>
<rect x="216.1" y="260.75" width="5" height="4.8" fill="#c8102e"/>
<text x="223.4" y="265.35" font-size="6.5" textLength="18.8" lengthAdjust="spacingAndGlyphs">Dip G2</text>
<rect x="216.1" y="267.6" width="5" height="4.8" fill="#165390"/>
<text x="223.4" y="272.2" font-size="6.5" textLength="15.2" lengthAdjust="spacingAndGlyphs">Dip S</text>
<text x="240.9" y="287.4" font-size="6.5" text-anchor="end" style="white-space:pre">G1: 62.70%</text>
<text x="240.9" y="294.6" font-size="6.5" text-anchor="end" style="white-space:pre">S: 30.35%</text>
<text x="240.9" y="301.8" font-size="6.5" text-anchor="end" style="white-space:pre">G2/M:   6.95%</text>
<path d="M305,323.2 L305,323.2 L305.42,323.14 L305.83,322.98 L306.25,322.74 L306.67,322.43 L307.08,322.08 L307.5,321.71 L307.92,321.35 L308.33,321 L308.75,320.69 L309.17,320.45 L309.58,320.29 L310,320.23 L310.42,320.23 L310.83,320.23 L311.25,320.23 L311.67,320.23 L312.08,320.23 L312.5,320.23 L312.92,320.23 L313.33,320.23 L313.75,320.23 L314.17,320.23 L314.58,320.23 L315,320.23 L315.42,320.23 L315.83,320.23 L316.25,320.23 L316.67,320.23 L317.08,320.23 L317.5,320.23 L317.92,320.23 L318.33,320.23 L318.75,320.23 L319.17,320.23 L319.58,320.23 L320,320.23 L320.42,320.23 L320.83,320.23 L321.25,320.23 L321.67,320.23 L322.08,320.23 L322.5,320.23 L322.92,320.23 L323.33,320.23 L323.75,320.23 L324.17,320.24 L324.58,320.31 L325,320.45 L325.42,320.65 L325.83,320.89 L326.25,321.17 L326.67,321.47 L327.08,321.78 L327.5,322.08 L327.92,322.37 L328.33,322.64 L328.75,322.87 L329.17,323.04 L329.58,323.16 L330,323.2 Z" fill="#9ec3dc"/>
<path d="M303.44,323.2 L303.44,322.8 L303.65,322.54 L303.86,322.15 L304.06,321.55 L304.27,320.69 L304.48,319.46 L304.69,317.78 L304.9,315.54 L305.1,312.66 L305.31,309.05 L305.52,304.68 L305.73,299.58 L305.94,293.84 L306.14,287.63 L306.35,281.19 L306.56,274.84 L306.77,268.93 L306.98,263.85 L307.18,259.92 L307.39,257.45 L307.6,256.6 L307.81,257.45 L308.02,259.92 L308.22,263.85 L308.43,268.93 L308.64,274.84 L308.85,281.19 L309.06,287.63 L309.26,293.84 L309.47,299.58 L309.68,304.68 L309.89,309.05 L310.1,312.66 L310.3,315.54 L310.51,317.78 L310.72,319.46 L310.93,320.69 L311.14,321.55 L311.34,322.15 L311.55,322.54 L311.76,322.8 L311.76,323.2 Z" fill="#e9a3b1" style="mix-blend-mode:multiply"/>
<path d="M323.58,323.2 L323.58,323.18 L323.84,323.16 L324.09,323.14 L324.35,323.11 L324.6,323.06 L324.86,322.99 L325.12,322.89 L325.37,322.77 L325.63,322.6 L325.88,322.4 L326.14,322.15 L326.4,321.86 L326.65,321.53 L326.91,321.18 L327.16,320.82 L327.42,320.46 L327.68,320.12 L327.93,319.83 L328.19,319.61 L328.44,319.47 L328.7,319.42 L328.96,319.47 L329.21,319.61 L329.47,319.83 L329.72,320.12 L329.98,320.46 L330.24,320.82 L330.49,321.18 L330.75,321.53 L331,321.86 L331.26,322.15 L331.52,322.4 L331.77,322.6 L332.03,322.77 L332.28,322.89 L332.54,322.99 L332.8,323.06 L333.05,323.11 L333.31,323.14 L333.56,323.16 L333.82,323.18 L333.82,323.2 Z" fill="#e9a3b1" style="mix-blend-mode:multiply"/>
<polyline points="292,323.2 292.5,323.2 293,323.2 293.5,323.2 294,323.2 294.5,323.2 295,323.2 295.5,323.2 296,323.2 296.5,323.2 297,323.2 297.5,323.2 298,323.2 298.5,323.2 299,323.2 299.5,323.2 300,323.2 300.5,323.2 301,323.2 301.5,323.2 302,323.19 302.5,323.17 303,323.07 303.5,322.74 304,321.76 304.5,319.32 305,314.19 305.5,305.05 306,291.66 306.5,276 307,262.28 307.5,255.31 308,257.75 308.5,268.46 309,283.25 309.5,297.42 310,308.11 310.5,314.7 311,318.05 311.5,319.49 312,320.01 312.5,320.18 313,320.22 313.5,320.23 314,320.23 314.5,320.23 315,320.23 315.5,320.23 316,320.23 316.5,320.23 317,320.23 317.5,320.23 318,320.23 318.5,320.23 319,320.23 319.5,320.23 320,320.23 320.5,320.23 321,320.23 321.5,320.23 322,320.23 322.5,320.23 323,320.22 323.5,320.21 324,320.18 324.5,320.17 325,320.19 325.5,320.18 326,320.09 326.5,319.88 327,319.57 327.5,319.23 328,318.99 328.5,318.99 329,319.27 329.5,319.81 330,320.48 330.5,321.19 331,321.85 331.5,322.38 332,322.75 332.5,322.97 333,323.1 333.5,323.16 334,323.18 334.5,323.19 335,323.2 335.5,323.2 336,323.2 336.5,323.2 337,323.2 337.5,323.2 338,323.2 338.5,323.2 339,323.2 339.5,323.2 340,323.2 340.5,323.2 341,323.2 341.5,323.2 342,323.2 342.5,323.2 343,323.2 343.5,323.2 344,323.2 344.5,323.2 345,323.2" fill="none" stroke="#e47b8e" stroke-width="0.6"/>
<polyline points="292,323.02 292.45,323 292.9,322.99 293.35,322.97 293.8,322.96 294.25,322.94 294.7,322.97 295.15,323.2 295.6,323.2 296.05,322.5 296.5,323.2 296.95,323.2 297.4,323.13 297.85,322.12 298.3,321.96 298.75,322.58 299.2,323.2 299.65,322.32 300,322.75 300.1,322.74 300.55,322.33 301,323.2 301.45,323.2 301.9,322.26 302.35,323.2 302.8,321.5 303.25,322.77 303.7,322.81 303.8,322.12 304.15,315.67 304.6,309.19 305.05,301.44 305.5,294.67 305.9,287.2 305.95,285.71 306.4,277.55 306.85,269.41 307.3,260.22 307.7,252.19 307.75,253.19 308.2,264.9 308.65,278.57 309,287.2 309.1,288.95 309.55,297.99 310,304.55 310.45,313.86 310.5,314.2 310.9,317.14 311,317.17 311.35,318.21 311.8,316.95 312,317.98 312.25,317.77 312.7,317.24 313.15,318.54 313.6,317.86 314.05,318.99 314.5,317.98 314.95,318.74 315.4,318.95 315.85,317.86 316,318.34 316.3,318.46 316.75,319.2 317.2,318.44 317.65,318.16 318.1,318.02 318.55,318.97 319,317.92 319.45,318.68 319.9,318.62 320,318.52 320.35,318.59 320.8,317.8 321.25,318.72 321.7,319.16 322.15,318.05 322.6,318.04 323.05,319.05 323.5,318.42 323.95,317.84 324,318.25 324.4,317.19 324.85,318.32 325.3,317.39 325.75,317.4 326,317.35 326.2,316.89 326.65,317.42 327.1,317.47 327.55,316.59 328,316.05 328.45,317.57 328.7,316.63 328.9,317.48 329.35,316.12 329.8,317.35 330.25,317.82 330.5,317.62 330.7,317.73 331.15,318.97 331.6,320.03 332.05,320.01 332.5,320.5 332.95,320.68 333.4,320.7 333.85,321.17 334.3,321.37 334.75,321.67 335.1,322.66 335.2,322.15 335.65,323.2 336.1,322.8 336.55,323.2 337,323.2 337.45,323.2 337.9,322.05 338.35,323.2 338.8,322.93 339.25,322.96 339.7,323 340,323.02 340.15,323.03 340.6,323.04 341.05,323.06 341.5,323.07 341.95,323.09 342.4,323.11 342.85,323.12 343.3,323.14 343.75,323.15 344.2,323.17 344.65,323.19 345,323.2" fill="none" stroke="#c8102e" stroke-width="1" stroke-linejoin="round"/>
<line x1="285" y1="250.5" x2="285" y2="323.8" stroke="#000" stroke-width="1.1"/>
<line x1="284.5" y1="323.2" x2="369" y2="323.2" stroke="#000" stroke-width="1.1"/>
<line x1="283.4" y1="323.2" x2="285" y2="323.2" stroke="#000" stroke-width="0.6"/>
<line x1="283.4" y1="319.6" x2="285" y2="319.6" stroke="#000" stroke-width="0.6"/>
<line x1="283.4" y1="316" x2="285" y2="316" stroke="#000" stroke-width="0.6"/>
<line x1="283.4" y1="312.4" x2="285" y2="312.4" stroke="#000" stroke-width="0.6"/>
<line x1="283.4" y1="308.8" x2="285" y2="308.8" stroke="#000" stroke-width="0.6"/>
<line x1="283.4" y1="305.2" x2="285" y2="305.2" stroke="#000" stroke-width="0.6"/>
<line x1="283.4" y1="301.6" x2="285" y2="301.6" stroke="#000" stroke-width="0.6"/>
<line x1="283.4" y1="298" x2="285" y2="298" stroke="#000" stroke-width="0.6"/>
<line x1="283.4" y1="294.4" x2="285" y2="294.4" stroke="#000" stroke-width="0.6"/>
<line x1="283.4" y1="290.8" x2="285" y2="290.8" stroke="#000" stroke-width="0.6"/>
<line x1="283.4" y1="287.2" x2="285" y2="287.2" stroke="#000" stroke-width="0.6"/>
<line x1="283.4" y1="283.6" x2="285" y2="283.6" stroke="#000" stroke-width="0.6"/>
<line x1="283.4" y1="280" x2="285" y2="280" stroke="#000" stroke-width="0.6"/>
<line x1="283.4" y1="276.4" x2="285" y2="276.4" stroke="#000" stroke-width="0.6"/>
<line x1="283.4" y1="272.8" x2="285" y2="272.8" stroke="#000" stroke-width="0.6"/>
<line x1="283.4" y1="269.2" x2="285" y2="269.2" stroke="#000" stroke-width="0.6"/>
<line x1="283.4" y1="265.6" x2="285" y2="265.6" stroke="#000" stroke-width="0.6"/>
<line x1="283.4" y1="262" x2="285" y2="262" stroke="#000" stroke-width="0.6"/>
<line x1="283.4" y1="258.4" x2="285" y2="258.4" stroke="#000" stroke-width="0.6"/>
<line x1="283.4" y1="254.8" x2="285" y2="254.8" stroke="#000" stroke-width="0.6"/>
<line x1="283.4" y1="251.2" x2="285" y2="251.2" stroke="#000" stroke-width="0.6"/>
<line x1="282.2" y1="323.2" x2="285" y2="323.2" stroke="#111" stroke-width="0.8"/>
<text x="278.5" y="325.8" font-size="7.6" text-anchor="end">0</text>
<line x1="282.2" y1="305.2" x2="285" y2="305.2" stroke="#111" stroke-width="0.8"/>
<text x="278.5" y="307.8" font-size="7.6" text-anchor="end">200</text>
<line x1="282.2" y1="287.2" x2="285" y2="287.2" stroke="#111" stroke-width="0.8"/>
<text x="278.5" y="289.8" font-size="7.6" text-anchor="end">400</text>
<line x1="282.2" y1="269.2" x2="285" y2="269.2" stroke="#111" stroke-width="0.8"/>
<text x="278.5" y="271.8" font-size="7.6" text-anchor="end">600</text>
<line x1="285.3" y1="323.2" x2="285.3" y2="324.9" stroke="#000" stroke-width="0.6"/>
<line x1="288.98" y1="323.2" x2="288.98" y2="324.9" stroke="#000" stroke-width="0.6"/>
<line x1="292.66" y1="323.2" x2="292.66" y2="324.9" stroke="#000" stroke-width="0.6"/>
<line x1="296.34" y1="323.2" x2="296.34" y2="324.9" stroke="#000" stroke-width="0.6"/>
<line x1="300.02" y1="323.2" x2="300.02" y2="324.9" stroke="#000" stroke-width="0.6"/>
<line x1="303.7" y1="323.2" x2="303.7" y2="324.9" stroke="#000" stroke-width="0.6"/>
<line x1="307.38" y1="323.2" x2="307.38" y2="324.9" stroke="#000" stroke-width="0.6"/>
<line x1="311.06" y1="323.2" x2="311.06" y2="324.9" stroke="#000" stroke-width="0.6"/>
<line x1="314.74" y1="323.2" x2="314.74" y2="324.9" stroke="#000" stroke-width="0.6"/>
<line x1="318.42" y1="323.2" x2="318.42" y2="324.9" stroke="#000" stroke-width="0.6"/>
<line x1="322.1" y1="323.2" x2="322.1" y2="324.9" stroke="#000" stroke-width="0.6"/>
<line x1="325.78" y1="323.2" x2="325.78" y2="324.9" stroke="#000" stroke-width="0.6"/>
<line x1="329.46" y1="323.2" x2="329.46" y2="324.9" stroke="#000" stroke-width="0.6"/>
<line x1="333.14" y1="323.2" x2="333.14" y2="324.9" stroke="#000" stroke-width="0.6"/>
<line x1="336.82" y1="323.2" x2="336.82" y2="324.9" stroke="#000" stroke-width="0.6"/>
<line x1="340.5" y1="323.2" x2="340.5" y2="324.9" stroke="#000" stroke-width="0.6"/>
<line x1="344.18" y1="323.2" x2="344.18" y2="324.9" stroke="#000" stroke-width="0.6"/>
<line x1="347.86" y1="323.2" x2="347.86" y2="324.9" stroke="#000" stroke-width="0.6"/>
<line x1="351.54" y1="323.2" x2="351.54" y2="324.9" stroke="#000" stroke-width="0.6"/>
<line x1="355.22" y1="323.2" x2="355.22" y2="324.9" stroke="#000" stroke-width="0.6"/>
<line x1="358.9" y1="323.2" x2="358.9" y2="324.9" stroke="#000" stroke-width="0.6"/>
<line x1="362.58" y1="323.2" x2="362.58" y2="324.9" stroke="#000" stroke-width="0.6"/>
<line x1="366.26" y1="323.2" x2="366.26" y2="324.9" stroke="#000" stroke-width="0.6"/>
<line x1="285.3" y1="323.2" x2="285.3" y2="325.8" stroke="#111" stroke-width="0.8"/>
<text x="285.3" y="334.9" font-size="7.8" text-anchor="middle">0</text>
<line x1="303.7" y1="323.2" x2="303.7" y2="325.8" stroke="#111" stroke-width="0.8"/>
<text x="303.7" y="334.9" font-size="7.8" text-anchor="middle">40</text>
<line x1="322.1" y1="323.2" x2="322.1" y2="325.8" stroke="#111" stroke-width="0.8"/>
<text x="322.1" y="334.9" font-size="7.8" text-anchor="middle">80</text>
<line x1="340.5" y1="323.2" x2="340.5" y2="325.8" stroke="#111" stroke-width="0.8"/>
<text x="340.5" y="334.9" font-size="7.8" text-anchor="middle">120</text>
<line x1="358.9" y1="323.2" x2="358.9" y2="325.8" stroke="#111" stroke-width="0.8"/>
<text x="358.9" y="334.9" font-size="7.8" text-anchor="middle">160</text>
<path d="M304.7,326.9 L308.9,326.9 L306.8,323.4 Z" fill="#000"/>
<path d="M326.4,326.9 L330.6,326.9 L328.5,323.4 Z" fill="#000"/>
<text x="260.9" y="286.5" font-size="9.6" text-anchor="middle" textLength="21.8" lengthAdjust="spacingAndGlyphs" transform="rotate(-90 260.9 286.5)" style="stroke-width:.45px">Number</text>
<text x="326.5" y="346.8" font-size="8.2" text-anchor="middle" textLength="100" lengthAdjust="spacingAndGlyphs" style="stroke-width:.4px">Channels (FL3 INT LIN-FL3 INT LIN)</text>
<text x="326" y="246.8" font-size="7.9" text-anchor="middle" textLength="42.8" lengthAdjust="spacingAndGlyphs">shSPAG6-2</text>
<rect x="333.6" y="253.9" width="5" height="4.8" fill="#c8102e"/>
<text x="340.9" y="258.5" font-size="6.5" textLength="18.8" lengthAdjust="spacingAndGlyphs">Dip G1</text>
<rect x="333.6" y="260.75" width="5" height="4.8" fill="#c8102e"/>
<text x="340.9" y="265.35" font-size="6.5" textLength="18.8" lengthAdjust="spacingAndGlyphs">Dip G2</text>
<rect x="333.6" y="267.6" width="5" height="4.8" fill="#165390"/>
<text x="340.9" y="272.2" font-size="6.5" textLength="15.2" lengthAdjust="spacingAndGlyphs">Dip S</text>
<text x="363.3" y="287.4" font-size="6.5" text-anchor="end" style="white-space:pre">G1: 61.66%</text>
<text x="363.3" y="294.6" font-size="6.5" text-anchor="end" style="white-space:pre">S: 30.77%</text>
<text x="363.3" y="301.8" font-size="6.5" text-anchor="end" style="white-space:pre">G2/M:   7.57%</text>
<path d="M54.5,444.8 L54.5,444.8 L54.88,444.69 L55.27,444.38 L55.65,443.92 L56.03,443.35 L56.42,442.69 L56.8,442.01 L57.18,441.33 L57.57,440.69 L57.95,440.14 L58.33,439.72 L58.72,439.46 L59.1,439.4 L59.48,439.4 L59.87,439.4 L60.25,439.4 L60.63,439.4 L61.02,439.4 L61.4,439.4 L61.78,439.4 L62.17,439.4 L62.55,439.4 L62.93,439.4 L63.32,439.4 L63.7,439.4 L64.08,439.4 L64.47,439.4 L64.85,439.4 L65.23,439.4 L65.62,439.4 L66,439.4 L66.38,439.4 L66.77,439.4 L67.15,439.4 L67.53,439.4 L67.92,439.4 L68.3,439.4 L68.68,439.4 L69.07,439.4 L69.45,439.4 L69.83,439.4 L70.22,439.4 L70.6,439.4 L70.98,439.4 L71.37,439.44 L71.75,439.59 L72.13,439.83 L72.52,440.14 L72.9,440.51 L73.28,440.93 L73.67,441.38 L74.05,441.85 L74.43,442.33 L74.82,442.8 L75.2,443.25 L75.58,443.67 L75.97,444.04 L76.35,444.35 L76.73,444.59 L77.12,444.75 L77.5,444.8 Z" fill="#9ec3dc"/>
<path d="M53.76,444.8 L53.76,444.47 L53.94,444.26 L54.13,443.93 L54.32,443.43 L54.5,442.72 L54.69,441.7 L54.88,440.31 L55.07,438.45 L55.25,436.06 L55.44,433.06 L55.63,429.45 L55.82,425.22 L56,420.46 L56.19,415.31 L56.38,409.97 L56.56,404.7 L56.75,399.8 L56.94,395.58 L57.13,392.33 L57.31,390.28 L57.5,389.58 L57.69,390.28 L57.87,392.33 L58.06,395.58 L58.25,399.8 L58.44,404.7 L58.62,409.97 L58.81,415.31 L59,420.46 L59.18,425.22 L59.37,429.45 L59.56,433.06 L59.75,436.06 L59.93,438.45 L60.12,440.31 L60.31,441.7 L60.5,442.72 L60.68,443.43 L60.87,443.93 L61.06,444.26 L61.24,444.47 L61.24,444.8 Z" fill="#e9a3b1" style="mix-blend-mode:multiply"/>
<path d="M66.1,444.8 L66.1,444.75 L66.42,444.72 L66.74,444.68 L67.06,444.61 L67.38,444.51 L67.7,444.37 L68.02,444.18 L68.34,443.92 L68.66,443.59 L68.98,443.18 L69.3,442.68 L69.62,442.09 L69.94,441.43 L70.26,440.72 L70.58,439.98 L70.9,439.25 L71.22,438.58 L71.54,437.99 L71.86,437.54 L72.18,437.26 L72.5,437.16 L72.82,437.26 L73.14,437.54 L73.46,437.99 L73.78,438.58 L74.1,439.25 L74.42,439.98 L74.74,440.72 L75.06,441.43 L75.38,442.09 L75.7,442.68 L76.02,443.18 L76.34,443.59 L76.66,443.92 L76.98,444.18 L77.3,444.37 L77.62,444.51 L77.94,444.61 L78.26,444.68 L78.58,444.72 L78.9,444.75 L78.9,444.8 Z" fill="#e9a3b1" style="mix-blend-mode:multiply"/>
<polyline points="48,444.8 48.5,444.8 49,444.8 49.5,444.8 50,444.8 50.5,444.8 51,444.8 51.5,444.8 52,444.8 52.5,444.79 53,444.77 53.5,444.64 54,444.17 54.5,442.74 55,438.98 55.5,431.31 56,419.12 56.5,404.22 57,391.24 57.5,385.57 58,389.67 58.5,401.25 59,415.12 59.5,426.58 60,433.76 60.5,437.33 61,438.77 61.5,439.24 62,439.36 62.5,439.39 63,439.39 63.5,439.39 64,439.39 64.5,439.39 65,439.39 65.5,439.38 66,439.36 66.5,439.31 67,439.22 67.5,439.06 68,438.79 68.5,438.36 69,437.74 69.5,436.92 70,435.9 70.5,434.76 71,433.63 71.5,432.75 72,432.34 72.5,432.49 73,433.21 73.5,434.44 74,436.02 74.5,437.78 75,439.52 75.5,441.1 76,442.42 76.5,443.42 77,444.1 77.5,444.46 78,444.63 78.5,444.72 79,444.76 79.5,444.78 80,444.79 80.5,444.8 81,444.8 81.5,444.8 82,444.8 82.5,444.8 83,444.8 83.5,444.8 84,444.8 84.5,444.8 85,444.8 85.5,444.8 86,444.8" fill="none" stroke="#e47b8e" stroke-width="0.6"/>
<polyline points="48,444.8 48.45,444.76 48.9,444.72 49.35,444.68 49.8,444.64 50.25,444.6 50.7,444.56 51.15,444.52 51.6,444.48 52.05,444.76 52.5,444.8 52.95,444.39 53.25,444.33 53.4,443.79 53.85,441.88 54.3,441.28 54.75,438.31 55,437.75 55.2,432.65 55.65,422.81 56,415.43 56.1,413.18 56.55,405.13 57,396.85 57.45,388.39 57.65,385.46 57.9,391.96 58.35,404.19 58.75,415.43 58.8,416.3 59.25,422.37 59.7,428.86 59.85,431.88 60.15,433.58 60.4,435.99 60.6,436.28 61.05,436.5 61.5,437.62 61.95,438.24 62,437.75 62.4,437.75 62.85,437.35 63.3,438.65 63.75,438.87 64.2,438.39 64.65,439.04 64.8,438.81 65.1,438.33 65.55,439.27 66,438.96 66.45,438.72 66.9,438.84 67,437.99 67.35,437.15 67.8,437.27 68.25,437.15 68.7,436.83 69,435.99 69.15,435.64 69.6,434.74 70.05,435.17 70.5,433.78 70.95,434.41 71,433.99 71.4,432.87 71.85,433.41 72.3,433.19 72.75,432.28 73,432.81 73.2,432.8 73.65,432.89 74.1,432.71 74.55,433.71 75,433.05 75.45,433.99 75.9,434.32 76.35,433.44 76.5,433.99 76.8,433.89 77.25,435.65 77.7,436.3 78,437.75 78.15,438.53 78.6,438.97 79.05,439.96 79.5,441.86 79.95,442.37 80.4,443.49 80.5,443.86 80.85,444.38 81.3,444.02 81.75,443.85 82.2,444.66 82.65,444.47 83,444.56 83.1,444.57 83.55,444.61 84,444.64 84.45,444.68 84.9,444.71 85.35,444.75 85.8,444.78 86,444.8" fill="none" stroke="#c8102e" stroke-width="1" stroke-linejoin="round"/>
<line x1="39.3" y1="373" x2="39.3" y2="445.4" stroke="#000" stroke-width="1.1"/>
<line x1="38.8" y1="444.8" x2="120.4" y2="444.8" stroke="#000" stroke-width="1.1"/>
<line x1="37.7" y1="444.8" x2="39.3" y2="444.8" stroke="#000" stroke-width="0.6"/>
<line x1="37.7" y1="442.45" x2="39.3" y2="442.45" stroke="#000" stroke-width="0.6"/>
<line x1="37.7" y1="440.1" x2="39.3" y2="440.1" stroke="#000" stroke-width="0.6"/>
<line x1="37.7" y1="437.75" x2="39.3" y2="437.75" stroke="#000" stroke-width="0.6"/>
<line x1="37.7" y1="435.4" x2="39.3" y2="435.4" stroke="#000" stroke-width="0.6"/>
<line x1="37.7" y1="433.05" x2="39.3" y2="433.05" stroke="#000" stroke-width="0.6"/>
<line x1="37.7" y1="430.7" x2="39.3" y2="430.7" stroke="#000" stroke-width="0.6"/>
<line x1="37.7" y1="428.35" x2="39.3" y2="428.35" stroke="#000" stroke-width="0.6"/>
<line x1="37.7" y1="426" x2="39.3" y2="426" stroke="#000" stroke-width="0.6"/>
<line x1="37.7" y1="423.65" x2="39.3" y2="423.65" stroke="#000" stroke-width="0.6"/>
<line x1="37.7" y1="421.3" x2="39.3" y2="421.3" stroke="#000" stroke-width="0.6"/>
<line x1="37.7" y1="418.95" x2="39.3" y2="418.95" stroke="#000" stroke-width="0.6"/>
<line x1="37.7" y1="416.6" x2="39.3" y2="416.6" stroke="#000" stroke-width="0.6"/>
<line x1="37.7" y1="414.25" x2="39.3" y2="414.25" stroke="#000" stroke-width="0.6"/>
<line x1="37.7" y1="411.9" x2="39.3" y2="411.9" stroke="#000" stroke-width="0.6"/>
<line x1="37.7" y1="409.55" x2="39.3" y2="409.55" stroke="#000" stroke-width="0.6"/>
<line x1="37.7" y1="407.2" x2="39.3" y2="407.2" stroke="#000" stroke-width="0.6"/>
<line x1="37.7" y1="404.85" x2="39.3" y2="404.85" stroke="#000" stroke-width="0.6"/>
<line x1="37.7" y1="402.5" x2="39.3" y2="402.5" stroke="#000" stroke-width="0.6"/>
<line x1="37.7" y1="400.15" x2="39.3" y2="400.15" stroke="#000" stroke-width="0.6"/>
<line x1="37.7" y1="397.8" x2="39.3" y2="397.8" stroke="#000" stroke-width="0.6"/>
<line x1="37.7" y1="395.45" x2="39.3" y2="395.45" stroke="#000" stroke-width="0.6"/>
<line x1="37.7" y1="393.1" x2="39.3" y2="393.1" stroke="#000" stroke-width="0.6"/>
<line x1="37.7" y1="390.75" x2="39.3" y2="390.75" stroke="#000" stroke-width="0.6"/>
<line x1="37.7" y1="388.4" x2="39.3" y2="388.4" stroke="#000" stroke-width="0.6"/>
<line x1="37.7" y1="386.05" x2="39.3" y2="386.05" stroke="#000" stroke-width="0.6"/>
<line x1="37.7" y1="383.7" x2="39.3" y2="383.7" stroke="#000" stroke-width="0.6"/>
<line x1="37.7" y1="381.35" x2="39.3" y2="381.35" stroke="#000" stroke-width="0.6"/>
<line x1="37.7" y1="379" x2="39.3" y2="379" stroke="#000" stroke-width="0.6"/>
<line x1="37.7" y1="376.65" x2="39.3" y2="376.65" stroke="#000" stroke-width="0.6"/>
<line x1="37.7" y1="374.3" x2="39.3" y2="374.3" stroke="#000" stroke-width="0.6"/>
<line x1="36.5" y1="444.8" x2="39.3" y2="444.8" stroke="#111" stroke-width="0.8"/>
<text x="32.8" y="447.4" font-size="7.6" text-anchor="end">0</text>
<line x1="36.5" y1="433.05" x2="39.3" y2="433.05" stroke="#111" stroke-width="0.8"/>
<text x="32.8" y="435.65" font-size="7.6" text-anchor="end">100</text>
<line x1="36.5" y1="421.3" x2="39.3" y2="421.3" stroke="#111" stroke-width="0.8"/>
<text x="32.8" y="423.9" font-size="7.6" text-anchor="end">200</text>
<line x1="36.5" y1="409.55" x2="39.3" y2="409.55" stroke="#111" stroke-width="0.8"/>
<text x="32.8" y="412.15" font-size="7.6" text-anchor="end">300</text>
<line x1="36.5" y1="397.8" x2="39.3" y2="397.8" stroke="#111" stroke-width="0.8"/>
<text x="32.8" y="400.4" font-size="7.6" text-anchor="end">400</text>
<line x1="36.5" y1="386.05" x2="39.3" y2="386.05" stroke="#111" stroke-width="0.8"/>
<text x="32.8" y="388.65" font-size="7.6" text-anchor="end">500</text>
<line x1="40.5" y1="444.8" x2="40.5" y2="446.5" stroke="#000" stroke-width="0.6"/>
<line x1="44.2" y1="444.8" x2="44.2" y2="446.5" stroke="#000" stroke-width="0.6"/>
<line x1="47.9" y1="444.8" x2="47.9" y2="446.5" stroke="#000" stroke-width="0.6"/>
<line x1="51.6" y1="444.8" x2="51.6" y2="446.5" stroke="#000" stroke-width="0.6"/>
<line x1="55.3" y1="444.8" x2="55.3" y2="446.5" stroke="#000" stroke-width="0.6"/>
<line x1="59" y1="444.8" x2="59" y2="446.5" stroke="#000" stroke-width="0.6"/>
<line x1="62.7" y1="444.8" x2="62.7" y2="446.5" stroke="#000" stroke-width="0.6"/>
<line x1="66.4" y1="444.8" x2="66.4" y2="446.5" stroke="#000" stroke-width="0.6"/>
<line x1="70.1" y1="444.8" x2="70.1" y2="446.5" stroke="#000" stroke-width="0.6"/>
<line x1="73.8" y1="444.8" x2="73.8" y2="446.5" stroke="#000" stroke-width="0.6"/>
<line x1="77.5" y1="444.8" x2="77.5" y2="446.5" stroke="#000" stroke-width="0.6"/>
<line x1="81.2" y1="444.8" x2="81.2" y2="446.5" stroke="#000" stroke-width="0.6"/>
<line x1="84.9" y1="444.8" x2="84.9" y2="446.5" stroke="#000" stroke-width="0.6"/>
<line x1="88.6" y1="444.8" x2="88.6" y2="446.5" stroke="#000" stroke-width="0.6"/>
<line x1="92.3" y1="444.8" x2="92.3" y2="446.5" stroke="#000" stroke-width="0.6"/>
<line x1="96" y1="444.8" x2="96" y2="446.5" stroke="#000" stroke-width="0.6"/>
<line x1="99.7" y1="444.8" x2="99.7" y2="446.5" stroke="#000" stroke-width="0.6"/>
<line x1="103.4" y1="444.8" x2="103.4" y2="446.5" stroke="#000" stroke-width="0.6"/>
<line x1="107.1" y1="444.8" x2="107.1" y2="446.5" stroke="#000" stroke-width="0.6"/>
<line x1="110.8" y1="444.8" x2="110.8" y2="446.5" stroke="#000" stroke-width="0.6"/>
<line x1="114.5" y1="444.8" x2="114.5" y2="446.5" stroke="#000" stroke-width="0.6"/>
<line x1="118.2" y1="444.8" x2="118.2" y2="446.5" stroke="#000" stroke-width="0.6"/>
<line x1="40.5" y1="444.8" x2="40.5" y2="447.4" stroke="#111" stroke-width="0.8"/>
<text x="40.5" y="456.5" font-size="7.8" text-anchor="middle">0</text>
<line x1="55.3" y1="444.8" x2="55.3" y2="447.4" stroke="#111" stroke-width="0.8"/>
<text x="55.3" y="456.5" font-size="7.8" text-anchor="middle">40</text>
<line x1="70.1" y1="444.8" x2="70.1" y2="447.4" stroke="#111" stroke-width="0.8"/>
<text x="70.1" y="456.5" font-size="7.8" text-anchor="middle">80</text>
<line x1="84.9" y1="444.8" x2="84.9" y2="447.4" stroke="#111" stroke-width="0.8"/>
<text x="84.9" y="456.5" font-size="7.8" text-anchor="middle">120</text>
<line x1="99.7" y1="444.8" x2="99.7" y2="447.4" stroke="#111" stroke-width="0.8"/>
<text x="99.7" y="456.5" font-size="7.8" text-anchor="middle">160</text>
<line x1="114.5" y1="444.8" x2="114.5" y2="447.4" stroke="#111" stroke-width="0.8"/>
<text x="114.5" y="456.5" font-size="7.8" text-anchor="middle">200</text>
<path d="M55.2,448.5 L59.4,448.5 L57.3,445 Z" fill="#000"/>
<text x="14.9" y="408.7" font-size="9.6" text-anchor="middle" textLength="21.8" lengthAdjust="spacingAndGlyphs" transform="rotate(-90 14.9 408.7)" style="stroke-width:.45px">Number</text>
<text x="80.3" y="468.4" font-size="8.2" text-anchor="middle" textLength="100" lengthAdjust="spacingAndGlyphs" style="stroke-width:.4px">Channels (FL3 INT LIN-FL3 INT LIN)</text>
<text x="83.6" y="373.7" font-size="8.8" text-anchor="middle" textLength="9.4" lengthAdjust="spacingAndGlyphs">EV</text>
<rect x="94.1" y="380.5" width="5" height="4.8" fill="#c8102e"/>
<text x="101.4" y="385.1" font-size="6.5" textLength="18.8" lengthAdjust="spacingAndGlyphs">Dip G1</text>
<rect x="94.1" y="387.35" width="5" height="4.8" fill="#c8102e"/>
<text x="101.4" y="391.95" font-size="6.5" textLength="18.8" lengthAdjust="spacingAndGlyphs">Dip G2</text>
<rect x="94.1" y="394.2" width="5" height="4.8" fill="#165390"/>
<text x="101.4" y="398.8" font-size="6.5" textLength="15.2" lengthAdjust="spacingAndGlyphs">Dip S</text>
<text x="120.7" y="409.8" font-size="6.5" text-anchor="end" style="white-space:pre">G1: 48.31%</text>
<text x="120.7" y="417" font-size="6.5" text-anchor="end" style="white-space:pre">S: 34.28%</text>
<text x="120.7" y="424.2" font-size="6.5" text-anchor="end" style="white-space:pre">G2/M: 17.42%</text>
<path d="M246,444.8 L246,444.8 L246.43,444.58 L246.87,443.97 L247.3,443.06 L247.73,441.93 L248.17,440.65 L248.6,439.31 L249.03,437.99 L249.47,436.77 L249.9,435.72 L250.33,434.94 L250.77,434.51 L251.2,434.44 L251.63,434.44 L252.07,434.44 L252.5,434.44 L252.93,434.44 L253.37,434.44 L253.8,434.44 L254.23,434.44 L254.67,434.44 L255.1,434.44 L255.53,434.44 L255.97,434.44 L256.4,434.44 L256.83,434.44 L257.27,434.44 L257.7,434.44 L258.13,434.44 L258.57,434.44 L259,434.44 L259.43,434.44 L259.87,434.44 L260.3,434.44 L260.73,434.44 L261.17,434.44 L261.6,434.44 L262.03,434.44 L262.47,434.44 L262.9,434.44 L263.33,434.44 L263.77,434.44 L264.2,434.44 L264.63,434.44 L265.07,434.44 L265.5,434.59 L265.93,434.94 L266.37,435.47 L266.8,436.14 L267.23,436.93 L267.67,437.8 L268.1,438.74 L268.53,439.69 L268.97,440.65 L269.4,441.57 L269.83,442.44 L270.27,443.21 L270.7,443.86 L271.13,444.36 L271.57,444.69 L272,444.8 Z" fill="#9ec3dc"/>
<path d="M244.5,444.8 L244.5,444.44 L244.74,444.2 L244.98,443.83 L245.22,443.29 L245.46,442.5 L245.7,441.37 L245.94,439.83 L246.18,437.78 L246.42,435.14 L246.66,431.83 L246.9,427.83 L247.14,423.15 L247.38,417.89 L247.62,412.19 L247.86,406.29 L248.1,400.47 L248.34,395.06 L248.58,390.39 L248.82,386.8 L249.06,384.53 L249.3,383.75 L249.54,384.53 L249.78,386.8 L250.02,390.39 L250.26,395.06 L250.5,400.47 L250.74,406.29 L250.98,412.19 L251.22,417.89 L251.46,423.15 L251.7,427.83 L251.94,431.83 L252.18,435.14 L252.42,437.78 L252.66,439.83 L252.9,441.37 L253.14,442.5 L253.38,443.29 L253.62,443.83 L253.86,444.2 L254.1,444.44 L254.1,444.8 Z" fill="#e9a3b1" style="mix-blend-mode:multiply"/>
<path d="M263.2,444.8 L263.2,444.73 L263.52,444.69 L263.84,444.63 L264.16,444.53 L264.48,444.39 L264.8,444.19 L265.12,443.91 L265.44,443.55 L265.76,443.07 L266.08,442.48 L266.4,441.77 L266.72,440.93 L267.04,439.99 L267.36,438.97 L267.68,437.92 L268,436.87 L268.32,435.91 L268.64,435.07 L268.96,434.43 L269.28,434.02 L269.6,433.88 L269.92,434.02 L270.24,434.43 L270.56,435.07 L270.88,435.91 L271.2,436.87 L271.52,437.92 L271.84,438.97 L272.16,439.99 L272.48,440.93 L272.8,441.77 L273.12,442.48 L273.44,443.07 L273.76,443.55 L274.08,443.91 L274.4,444.19 L274.72,444.39 L275.04,444.53 L275.36,444.63 L275.68,444.69 L276,444.73 L276,444.8 Z" fill="#e9a3b1" style="mix-blend-mode:multiply"/>
<polyline points="240,444.8 240.5,444.8 241,444.8 241.5,444.8 242,444.8 242.5,444.8 243,444.79 243.5,444.77 244,444.68 244.5,444.44 245,443.8 245.5,442.33 246,439.37 246.5,433.82 247,424.88 247.5,412.85 248,399.22 248.5,386.66 249,378.25 249.5,376.17 250,380.77 250.5,390.4 251,402.32 251.5,413.62 252,422.36 252.5,428.17 253,431.53 253.5,433.23 254,433.99 254.5,434.29 255,434.4 255.5,434.43 256,434.44 256.5,434.44 257,434.44 257.5,434.44 258,434.44 258.5,434.44 259,434.44 259.5,434.44 260,434.44 260.5,434.44 261,434.44 261.5,434.44 262,434.43 262.5,434.42 263,434.39 263.5,434.34 264,434.22 264.5,434.02 265,433.66 265.5,433.26 266,432.85 266.5,432.38 267,431.81 267.5,431.17 268,430.59 268.5,430.24 269,430.29 269.5,430.88 270,432.05 270.5,433.71 271,435.68 271.5,437.7 272,439.49 272.5,440.99 273,442.23 273.5,443.17 274,443.83 274.5,444.26 275,444.51 275.5,444.66 276,444.73 276.5,444.77 277,444.79 277.5,444.8 278,444.8 278.5,444.8 279,444.8 279.5,444.8 280,444.8 280.5,444.8 281,444.8 281.5,444.8 282,444.8 282.5,444.8 283,444.8 283.5,444.8 284,444.8" fill="none" stroke="#e47b8e" stroke-width="0.6"/>
<polyline points="240,444.8 240.45,444.71 240.9,444.61 241.35,444.52 241.8,444.42 242.25,444.33 242.7,444.8 243.15,444.8 243.6,444.75 244.05,443.2 244.4,443.88 244.5,443.38 244.95,440.1 245.4,437.32 245.85,433.63 246.3,430.77 246.5,430 246.75,425.28 247.2,416.55 247.65,408.64 247.7,407.8 248.1,396.26 248.55,384.34 248.6,383.75 249,380.34 249.4,376.17 249.45,376.61 249.9,382.08 250.2,385.6 250.35,389.35 250.8,398.67 251.2,407.8 251.25,407.73 251.7,415.58 252.15,421.77 252.6,428.15 253.05,431.76 253.3,433.33 253.5,433.66 253.95,434.53 254.4,433.68 254.85,434.64 255,434.25 255.3,434.13 255.75,434.66 256.2,434.99 256.65,434.53 257.1,434.29 257.5,435.18 257.55,435.1 258,435.28 258.45,434.78 258.9,434.26 259.35,434.34 259.8,433.25 260,433.7 260.25,432.89 260.7,432.73 261.15,433.2 261.6,431.67 262.05,431.11 262.5,430.66 262.95,430.14 263,430.93 263.4,430.14 263.85,430.24 264.3,430.25 264.75,428.94 265.2,428.57 265.5,428.52 265.65,428.07 266.1,427.88 266.55,428.51 267,427.88 267.45,427.14 267.8,427.41 267.9,426.75 268.35,428.2 268.8,428.29 269.25,428.73 269.7,427.9 270,428.52 270.15,428.85 270.6,430.27 271.05,430.44 271.5,431.82 271.95,431.17 272,431.85 272.4,434 272.85,433.8 273.3,435.91 273.75,436.66 274,438.32 274.2,439.38 274.65,440.29 275.1,441.92 275.55,442.75 276,443.32 276.45,444.25 276.9,443.64 277.35,444.57 277.8,444.27 278.25,443.67 278.7,444.8 279.15,443.97 279.6,444.32 280,444.43 280.05,444.43 280.5,444.48 280.95,444.52 281.4,444.56 281.85,444.6 282.3,444.64 282.75,444.68 283.2,444.73 283.65,444.77 284,444.8" fill="none" stroke="#c8102e" stroke-width="1" stroke-linejoin="round"/>
<line x1="228.8" y1="369.5" x2="228.8" y2="445.4" stroke="#000" stroke-width="1.1"/>
<line x1="228.3" y1="444.8" x2="312.5" y2="444.8" stroke="#000" stroke-width="1.1"/>
<line x1="227.2" y1="444.8" x2="228.8" y2="444.8" stroke="#000" stroke-width="0.6"/>
<line x1="227.2" y1="441.84" x2="228.8" y2="441.84" stroke="#000" stroke-width="0.6"/>
<line x1="227.2" y1="438.88" x2="228.8" y2="438.88" stroke="#000" stroke-width="0.6"/>
<line x1="227.2" y1="435.92" x2="228.8" y2="435.92" stroke="#000" stroke-width="0.6"/>
<line x1="227.2" y1="432.96" x2="228.8" y2="432.96" stroke="#000" stroke-width="0.6"/>
<line x1="227.2" y1="430" x2="228.8" y2="430" stroke="#000" stroke-width="0.6"/>
<line x1="227.2" y1="427.04" x2="228.8" y2="427.04" stroke="#000" stroke-width="0.6"/>
<line x1="227.2" y1="424.08" x2="228.8" y2="424.08" stroke="#000" stroke-width="0.6"/>
<line x1="227.2" y1="421.12" x2="228.8" y2="421.12" stroke="#000" stroke-width="0.6"/>
<line x1="227.2" y1="418.16" x2="228.8" y2="418.16" stroke="#000" stroke-width="0.6"/>
<line x1="227.2" y1="415.2" x2="228.8" y2="415.2" stroke="#000" stroke-width="0.6"/>
<line x1="227.2" y1="412.24" x2="228.8" y2="412.24" stroke="#000" stroke-width="0.6"/>
<line x1="227.2" y1="409.28" x2="228.8" y2="409.28" stroke="#000" stroke-width="0.6"/>
<line x1="227.2" y1="406.32" x2="228.8" y2="406.32" stroke="#000" stroke-width="0.6"/>
<line x1="227.2" y1="403.36" x2="228.8" y2="403.36" stroke="#000" stroke-width="0.6"/>
<line x1="227.2" y1="400.4" x2="228.8" y2="400.4" stroke="#000" stroke-width="0.6"/>
<line x1="227.2" y1="397.44" x2="228.8" y2="397.44" stroke="#000" stroke-width="0.6"/>
<line x1="227.2" y1="394.48" x2="228.8" y2="394.48" stroke="#000" stroke-width="0.6"/>
<line x1="227.2" y1="391.52" x2="228.8" y2="391.52" stroke="#000" stroke-width="0.6"/>
<line x1="227.2" y1="388.56" x2="228.8" y2="388.56" stroke="#000" stroke-width="0.6"/>
<line x1="227.2" y1="385.6" x2="228.8" y2="385.6" stroke="#000" stroke-width="0.6"/>
<line x1="227.2" y1="382.64" x2="228.8" y2="382.64" stroke="#000" stroke-width="0.6"/>
<line x1="227.2" y1="379.68" x2="228.8" y2="379.68" stroke="#000" stroke-width="0.6"/>
<line x1="227.2" y1="376.72" x2="228.8" y2="376.72" stroke="#000" stroke-width="0.6"/>
<line x1="227.2" y1="373.76" x2="228.8" y2="373.76" stroke="#000" stroke-width="0.6"/>
<line x1="227.2" y1="370.8" x2="228.8" y2="370.8" stroke="#000" stroke-width="0.6"/>
<line x1="226" y1="444.8" x2="228.8" y2="444.8" stroke="#111" stroke-width="0.8"/>
<text x="222.3" y="447.4" font-size="7.6" text-anchor="end">0</text>
<line x1="226" y1="430" x2="228.8" y2="430" stroke="#111" stroke-width="0.8"/>
<text x="222.3" y="432.6" font-size="7.6" text-anchor="end">80</text>
<line x1="226" y1="415.2" x2="228.8" y2="415.2" stroke="#111" stroke-width="0.8"/>
<text x="222.3" y="417.8" font-size="7.6" text-anchor="end">160</text>
<line x1="226" y1="400.4" x2="228.8" y2="400.4" stroke="#111" stroke-width="0.8"/>
<text x="222.3" y="403" font-size="7.6" text-anchor="end">240</text>
<line x1="226" y1="385.6" x2="228.8" y2="385.6" stroke="#111" stroke-width="0.8"/>
<text x="222.3" y="388.2" font-size="7.6" text-anchor="end">320</text>
<line x1="229.1" y1="444.8" x2="229.1" y2="446.5" stroke="#000" stroke-width="0.6"/>
<line x1="232.72" y1="444.8" x2="232.72" y2="446.5" stroke="#000" stroke-width="0.6"/>
<line x1="236.35" y1="444.8" x2="236.35" y2="446.5" stroke="#000" stroke-width="0.6"/>
<line x1="239.97" y1="444.8" x2="239.97" y2="446.5" stroke="#000" stroke-width="0.6"/>
<line x1="243.6" y1="444.8" x2="243.6" y2="446.5" stroke="#000" stroke-width="0.6"/>
<line x1="247.22" y1="444.8" x2="247.22" y2="446.5" stroke="#000" stroke-width="0.6"/>
<line x1="250.84" y1="444.8" x2="250.84" y2="446.5" stroke="#000" stroke-width="0.6"/>
<line x1="254.47" y1="444.8" x2="254.47" y2="446.5" stroke="#000" stroke-width="0.6"/>
<line x1="258.09" y1="444.8" x2="258.09" y2="446.5" stroke="#000" stroke-width="0.6"/>
<line x1="261.72" y1="444.8" x2="261.72" y2="446.5" stroke="#000" stroke-width="0.6"/>
<line x1="265.34" y1="444.8" x2="265.34" y2="446.5" stroke="#000" stroke-width="0.6"/>
<line x1="268.96" y1="444.8" x2="268.96" y2="446.5" stroke="#000" stroke-width="0.6"/>
<line x1="272.59" y1="444.8" x2="272.59" y2="446.5" stroke="#000" stroke-width="0.6"/>
<line x1="276.21" y1="444.8" x2="276.21" y2="446.5" stroke="#000" stroke-width="0.6"/>
<line x1="279.84" y1="444.8" x2="279.84" y2="446.5" stroke="#000" stroke-width="0.6"/>
<line x1="283.46" y1="444.8" x2="283.46" y2="446.5" stroke="#000" stroke-width="0.6"/>
<line x1="287.08" y1="444.8" x2="287.08" y2="446.5" stroke="#000" stroke-width="0.6"/>
<line x1="290.71" y1="444.8" x2="290.71" y2="446.5" stroke="#000" stroke-width="0.6"/>
<line x1="294.33" y1="444.8" x2="294.33" y2="446.5" stroke="#000" stroke-width="0.6"/>
<line x1="297.96" y1="444.8" x2="297.96" y2="446.5" stroke="#000" stroke-width="0.6"/>
<line x1="301.58" y1="444.8" x2="301.58" y2="446.5" stroke="#000" stroke-width="0.6"/>
<line x1="305.2" y1="444.8" x2="305.2" y2="446.5" stroke="#000" stroke-width="0.6"/>
<line x1="308.83" y1="444.8" x2="308.83" y2="446.5" stroke="#000" stroke-width="0.6"/>
<line x1="229.1" y1="444.8" x2="229.1" y2="447.4" stroke="#111" stroke-width="0.8"/>
<text x="229.1" y="456.5" font-size="7.8" text-anchor="middle">0</text>
<line x1="247.22" y1="444.8" x2="247.22" y2="447.4" stroke="#111" stroke-width="0.8"/>
<text x="247.22" y="456.5" font-size="7.8" text-anchor="middle">40</text>
<line x1="265.34" y1="444.8" x2="265.34" y2="447.4" stroke="#111" stroke-width="0.8"/>
<text x="265.34" y="456.5" font-size="7.8" text-anchor="middle">80</text>
<line x1="283.46" y1="444.8" x2="283.46" y2="447.4" stroke="#111" stroke-width="0.8"/>
<text x="283.46" y="456.5" font-size="7.8" text-anchor="middle">120</text>
<line x1="301.58" y1="444.8" x2="301.58" y2="447.4" stroke="#111" stroke-width="0.8"/>
<text x="301.58" y="456.5" font-size="7.8" text-anchor="middle">160</text>
<path d="M244.99,448.85 L249.61,448.85 L247.3,445 Z" fill="#000"/>
<path d="M247.99,448.85 L252.61,448.85 L250.3,445 Z" fill="#000"/>
<text x="204.2" y="406.6" font-size="9.6" text-anchor="middle" textLength="21.8" lengthAdjust="spacingAndGlyphs" transform="rotate(-90 204.2 406.6)" style="stroke-width:.45px">Number</text>
<text x="270" y="468.4" font-size="8.2" text-anchor="middle" textLength="100" lengthAdjust="spacingAndGlyphs" style="stroke-width:.4px">Channels (FL3 INT LIN-FL3 INT LIN)</text>
<text x="272.2" y="373.6" font-size="8.7" text-anchor="middle" textLength="26.6" lengthAdjust="spacingAndGlyphs">SPAG6</text>
<rect x="292.5" y="380.5" width="5" height="4.8" fill="#c8102e"/>
<text x="299.8" y="385.1" font-size="6.5" textLength="18.8" lengthAdjust="spacingAndGlyphs">Dip G1</text>
<rect x="292.5" y="387.35" width="5" height="4.8" fill="#c8102e"/>
<text x="299.8" y="391.95" font-size="6.5" textLength="18.8" lengthAdjust="spacingAndGlyphs">Dip G2</text>
<rect x="292.5" y="394.2" width="5" height="4.8" fill="#165390"/>
<text x="299.8" y="398.8" font-size="6.5" textLength="15.2" lengthAdjust="spacingAndGlyphs">Dip S</text>
<text x="321" y="409.8" font-size="6.5" text-anchor="end" style="white-space:pre">G1: 42.24%</text>
<text x="321" y="417" font-size="6.5" text-anchor="end" style="white-space:pre">S: 41.18%</text>
<text x="321" y="424.2" font-size="6.5" text-anchor="end" style="white-space:pre">G2/M: 16.59%</text>
<path d="M55,566.3 L55,566.3 L55.42,566.15 L55.85,565.73 L56.27,565.12 L56.7,564.36 L57.12,563.53 L57.55,562.67 L57.98,561.86 L58.4,561.16 L58.83,560.62 L59.25,560.3 L59.67,560.25 L60.1,560.25 L60.52,560.25 L60.95,560.25 L61.38,560.25 L61.8,560.25 L62.23,560.25 L62.65,560.25 L63.08,560.25 L63.5,560.25 L63.92,560.25 L64.35,560.25 L64.78,560.25 L65.2,560.25 L65.62,560.25 L66.05,560.25 L66.47,560.25 L66.9,560.25 L67.33,560.25 L67.75,560.25 L68.17,560.25 L68.6,560.25 L69.03,560.25 L69.45,560.25 L69.88,560.25 L70.3,560.25 L70.72,560.25 L71.15,560.25 L71.58,560.25 L72,560.25 L72.42,560.25 L72.85,560.25 L73.28,560.25 L73.7,560.25 L74.12,560.26 L74.55,560.37 L74.97,560.62 L75.4,560.97 L75.83,561.41 L76.25,561.92 L76.67,562.48 L77.1,563.07 L77.53,563.66 L77.95,564.24 L78.38,564.78 L78.8,565.27 L79.22,565.69 L79.65,566.02 L80.08,566.23 L80.5,566.3 Z" fill="#9ec3dc"/>
<path d="M51.99,566.3 L51.99,565.95 L52.25,565.73 L52.52,565.39 L52.78,564.87 L53.05,564.12 L53.32,563.06 L53.58,561.6 L53.85,559.66 L54.11,557.16 L54.38,554.03 L54.64,550.24 L54.91,545.82 L55.18,540.84 L55.44,535.46 L55.71,529.87 L55.97,524.36 L56.24,519.24 L56.5,514.83 L56.77,511.43 L57.03,509.28 L57.3,508.55 L57.57,509.28 L57.83,511.43 L58.1,514.83 L58.36,519.24 L58.63,524.36 L58.89,529.87 L59.16,535.46 L59.42,540.84 L59.69,545.82 L59.96,550.24 L60.22,554.03 L60.49,557.16 L60.75,559.66 L61.02,561.6 L61.28,563.06 L61.55,564.12 L61.82,564.87 L62.08,565.39 L62.35,565.73 L62.61,565.95 L62.61,566.3 Z" fill="#e9a3b1" style="mix-blend-mode:multiply"/>
<path d="M71.72,566.3 L71.72,566.25 L72.02,566.22 L72.33,566.17 L72.63,566.1 L72.94,566 L73.24,565.85 L73.54,565.65 L73.85,565.38 L74.15,565.04 L74.46,564.61 L74.76,564.08 L75.06,563.47 L75.37,562.78 L75.67,562.04 L75.98,561.27 L76.28,560.51 L76.58,559.8 L76.89,559.19 L77.19,558.72 L77.5,558.43 L77.8,558.32 L78.1,558.43 L78.41,558.72 L78.71,559.19 L79.02,559.8 L79.32,560.51 L79.62,561.27 L79.93,562.04 L80.23,562.78 L80.54,563.47 L80.84,564.08 L81.14,564.61 L81.45,565.04 L81.75,565.38 L82.06,565.65 L82.36,565.85 L82.66,566 L82.97,566.1 L83.27,566.17 L83.58,566.22 L83.88,566.25 L83.88,566.3 Z" fill="#e9a3b1" style="mix-blend-mode:multiply"/>
<polyline points="48,566.3 48.5,566.3 49,566.3 49.5,566.3 50,566.3 50.5,566.29 51,566.26 51.5,566.17 52,565.95 52.5,565.42 53,564.28 53.5,562.1 54,558.29 54.5,552.38 55,544.18 55.5,534.01 56,523.04 56.5,513.31 57,506.96 57.5,505.44 58,508.98 58.5,516.54 59,526.27 59.5,536.25 60,544.87 60.5,551.24 61,555.43 61.5,557.9 62,559.2 62.5,559.82 63,560.09 63.5,560.2 64,560.23 64.5,560.25 65,560.25 65.5,560.25 66,560.25 66.5,560.25 67,560.25 67.5,560.25 68,560.25 68.5,560.25 69,560.25 69.5,560.25 70,560.25 70.5,560.25 71,560.24 71.5,560.22 72,560.17 72.5,560.09 73,559.92 73.5,559.63 74,559.17 74.5,558.59 75,557.94 75.5,557.23 76,556.52 76.5,555.94 77,555.63 77.5,555.75 78,556.37 78.5,557.48 79,558.95 79.5,560.57 80,562.12 80.5,563.39 81,564.37 81.5,565.1 82,565.61 82.5,565.93 83,566.11 83.5,566.21 84,566.26 84.5,566.28 85,566.29 85.5,566.3 86,566.3 86.5,566.3 87,566.3 87.5,566.3 88,566.3 88.5,566.3 89,566.3 89.5,566.3 90,566.3 90.5,566.3 91,566.3 91.5,566.3 92,566.3" fill="none" stroke="#e47b8e" stroke-width="0.6"/>
<polyline points="48,566.3 48.45,566.23 48.9,566.16 49.35,566.08 49.8,566.01 50.25,565.94 50.7,565.95 51.15,565.52 51.6,566.3 52.05,565.27 52.3,565.61 52.5,564.74 52.95,562.44 53.4,560.57 53.85,559.57 54,558.05 54.3,551.49 54.75,543.34 55.2,534.67 55.65,525.14 56.1,516.32 56.5,508.55 56.55,509.17 57,505.42 57.4,503.46 57.45,503.94 57.9,506.14 58.3,508.55 58.35,510.6 58.8,524.78 59.1,534.67 59.25,536.49 59.7,544.18 60.15,551.35 60.3,553.92 60.6,556.04 61,557.64 61.05,557.78 61.5,557.37 61.95,558.47 62.4,558.04 62.85,558.68 63,558.74 63.3,558.34 63.75,558.83 64.2,559.67 64.65,559.33 65,559.42 65.1,559.86 65.55,559.76 66,559.35 66.45,559.35 66.9,558.8 67.35,559.1 67.8,559.28 68,558.74 68.25,557.84 68.7,559.04 69.15,557.71 69.6,556.99 70,557.36 70.05,556.69 70.5,556.63 70.95,555.74 71.4,555.93 71.85,555.56 72,555.57 72.3,555.71 72.75,555.15 73.2,555.78 73.65,555.07 74,554.61 74.1,554.26 74.55,555.1 75,554.63 75.45,554.96 75.9,554.38 76,553.92 76.35,554.74 76.8,553.33 77.25,553.43 77.7,554.65 77.8,553.79 78.15,553.17 78.6,555.1 79,554.61 79.05,555.47 79.5,555.1 79.95,556.16 80.4,558.57 80.5,558.05 80.85,559.84 81.3,560.92 81.75,561.89 82,562.17 82.2,562.95 82.65,562.81 83.1,562.95 83.55,564.75 84,565.2 84.45,565.98 84.9,566.19 85.35,565.51 85.8,564.69 86.25,565.08 86.7,565.67 87.15,565.36 87.6,565.94 88,566.02 88.05,566.03 88.5,566.06 88.95,566.09 89.4,566.12 89.85,566.15 90.3,566.18 90.75,566.21 91.2,566.25 91.65,566.28 92,566.3" fill="none" stroke="#c8102e" stroke-width="1" stroke-linejoin="round"/>
<line x1="39.3" y1="493.8" x2="39.3" y2="566.9" stroke="#000" stroke-width="1.1"/>
<line x1="38.8" y1="566.3" x2="110" y2="566.3" stroke="#000" stroke-width="1.1"/>
<line x1="37.7" y1="566.3" x2="39.3" y2="566.3" stroke="#000" stroke-width="0.6"/>
<line x1="37.7" y1="563.55" x2="39.3" y2="563.55" stroke="#000" stroke-width="0.6"/>
<line x1="37.7" y1="560.8" x2="39.3" y2="560.8" stroke="#000" stroke-width="0.6"/>
<line x1="37.7" y1="558.05" x2="39.3" y2="558.05" stroke="#000" stroke-width="0.6"/>
<line x1="37.7" y1="555.3" x2="39.3" y2="555.3" stroke="#000" stroke-width="0.6"/>
<line x1="37.7" y1="552.55" x2="39.3" y2="552.55" stroke="#000" stroke-width="0.6"/>
<line x1="37.7" y1="549.8" x2="39.3" y2="549.8" stroke="#000" stroke-width="0.6"/>
<line x1="37.7" y1="547.05" x2="39.3" y2="547.05" stroke="#000" stroke-width="0.6"/>
<line x1="37.7" y1="544.3" x2="39.3" y2="544.3" stroke="#000" stroke-width="0.6"/>
<line x1="37.7" y1="541.55" x2="39.3" y2="541.55" stroke="#000" stroke-width="0.6"/>
<line x1="37.7" y1="538.8" x2="39.3" y2="538.8" stroke="#000" stroke-width="0.6"/>
<line x1="37.7" y1="536.05" x2="39.3" y2="536.05" stroke="#000" stroke-width="0.6"/>
<line x1="37.7" y1="533.3" x2="39.3" y2="533.3" stroke="#000" stroke-width="0.6"/>
<line x1="37.7" y1="530.55" x2="39.3" y2="530.55" stroke="#000" stroke-width="0.6"/>
<line x1="37.7" y1="527.8" x2="39.3" y2="527.8" stroke="#000" stroke-width="0.6"/>
<line x1="37.7" y1="525.05" x2="39.3" y2="525.05" stroke="#000" stroke-width="0.6"/>
<line x1="37.7" y1="522.3" x2="39.3" y2="522.3" stroke="#000" stroke-width="0.6"/>
<line x1="37.7" y1="519.55" x2="39.3" y2="519.55" stroke="#000" stroke-width="0.6"/>
<line x1="37.7" y1="516.8" x2="39.3" y2="516.8" stroke="#000" stroke-width="0.6"/>
<line x1="37.7" y1="514.05" x2="39.3" y2="514.05" stroke="#000" stroke-width="0.6"/>
<line x1="37.7" y1="511.3" x2="39.3" y2="511.3" stroke="#000" stroke-width="0.6"/>
<line x1="37.7" y1="508.55" x2="39.3" y2="508.55" stroke="#000" stroke-width="0.6"/>
<line x1="37.7" y1="505.8" x2="39.3" y2="505.8" stroke="#000" stroke-width="0.6"/>
<line x1="37.7" y1="503.05" x2="39.3" y2="503.05" stroke="#000" stroke-width="0.6"/>
<line x1="37.7" y1="500.3" x2="39.3" y2="500.3" stroke="#000" stroke-width="0.6"/>
<line x1="37.7" y1="497.55" x2="39.3" y2="497.55" stroke="#000" stroke-width="0.6"/>
<line x1="37.7" y1="494.8" x2="39.3" y2="494.8" stroke="#000" stroke-width="0.6"/>
<line x1="36.5" y1="566.3" x2="39.3" y2="566.3" stroke="#111" stroke-width="0.8"/>
<text x="32.8" y="568.9" font-size="7.6" text-anchor="end">0</text>
<line x1="36.5" y1="552.55" x2="39.3" y2="552.55" stroke="#111" stroke-width="0.8"/>
<text x="32.8" y="555.15" font-size="7.6" text-anchor="end">100</text>
<line x1="36.5" y1="538.8" x2="39.3" y2="538.8" stroke="#111" stroke-width="0.8"/>
<text x="32.8" y="541.4" font-size="7.6" text-anchor="end">200</text>
<line x1="36.5" y1="525.05" x2="39.3" y2="525.05" stroke="#111" stroke-width="0.8"/>
<text x="32.8" y="527.65" font-size="7.6" text-anchor="end">300</text>
<line x1="36.5" y1="511.3" x2="39.3" y2="511.3" stroke="#111" stroke-width="0.8"/>
<text x="32.8" y="513.9" font-size="7.6" text-anchor="end">400</text>
<line x1="36.5" y1="497.55" x2="39.3" y2="497.55" stroke="#111" stroke-width="0.8"/>
<text x="32.8" y="500.15" font-size="7.6" text-anchor="end">500</text>
<line x1="40" y1="566.3" x2="40" y2="568" stroke="#000" stroke-width="0.6"/>
<line x1="43.06" y1="566.3" x2="43.06" y2="568" stroke="#000" stroke-width="0.6"/>
<line x1="46.13" y1="566.3" x2="46.13" y2="568" stroke="#000" stroke-width="0.6"/>
<line x1="49.19" y1="566.3" x2="49.19" y2="568" stroke="#000" stroke-width="0.6"/>
<line x1="52.26" y1="566.3" x2="52.26" y2="568" stroke="#000" stroke-width="0.6"/>
<line x1="55.32" y1="566.3" x2="55.32" y2="568" stroke="#000" stroke-width="0.6"/>
<line x1="58.38" y1="566.3" x2="58.38" y2="568" stroke="#000" stroke-width="0.6"/>
<line x1="61.45" y1="566.3" x2="61.45" y2="568" stroke="#000" stroke-width="0.6"/>
<line x1="64.51" y1="566.3" x2="64.51" y2="568" stroke="#000" stroke-width="0.6"/>
<line x1="67.58" y1="566.3" x2="67.58" y2="568" stroke="#000" stroke-width="0.6"/>
<line x1="70.64" y1="566.3" x2="70.64" y2="568" stroke="#000" stroke-width="0.6"/>
<line x1="73.7" y1="566.3" x2="73.7" y2="568" stroke="#000" stroke-width="0.6"/>
<line x1="76.77" y1="566.3" x2="76.77" y2="568" stroke="#000" stroke-width="0.6"/>
<line x1="79.83" y1="566.3" x2="79.83" y2="568" stroke="#000" stroke-width="0.6"/>
<line x1="82.9" y1="566.3" x2="82.9" y2="568" stroke="#000" stroke-width="0.6"/>
<line x1="85.96" y1="566.3" x2="85.96" y2="568" stroke="#000" stroke-width="0.6"/>
<line x1="89.02" y1="566.3" x2="89.02" y2="568" stroke="#000" stroke-width="0.6"/>
<line x1="92.09" y1="566.3" x2="92.09" y2="568" stroke="#000" stroke-width="0.6"/>
<line x1="95.15" y1="566.3" x2="95.15" y2="568" stroke="#000" stroke-width="0.6"/>
<line x1="98.22" y1="566.3" x2="98.22" y2="568" stroke="#000" stroke-width="0.6"/>
<line x1="101.28" y1="566.3" x2="101.28" y2="568" stroke="#000" stroke-width="0.6"/>
<line x1="104.34" y1="566.3" x2="104.34" y2="568" stroke="#000" stroke-width="0.6"/>
<line x1="107.41" y1="566.3" x2="107.41" y2="568" stroke="#000" stroke-width="0.6"/>
<line x1="40" y1="566.3" x2="40" y2="568.9" stroke="#111" stroke-width="0.8"/>
<text x="40" y="578" font-size="7.8" text-anchor="middle">0</text>
<line x1="55.32" y1="566.3" x2="55.32" y2="568.9" stroke="#111" stroke-width="0.8"/>
<text x="55.32" y="578" font-size="7.8" text-anchor="middle">40</text>
<line x1="70.64" y1="566.3" x2="70.64" y2="568.9" stroke="#111" stroke-width="0.8"/>
<text x="70.64" y="578" font-size="7.8" text-anchor="middle">80</text>
<line x1="85.96" y1="566.3" x2="85.96" y2="568.9" stroke="#111" stroke-width="0.8"/>
<text x="85.96" y="578" font-size="7.8" text-anchor="middle">120</text>
<line x1="101.28" y1="566.3" x2="101.28" y2="568.9" stroke="#111" stroke-width="0.8"/>
<text x="101.28" y="578" font-size="7.8" text-anchor="middle">160</text>
<path d="M55.9,570 L60.1,570 L58,566.5 Z" fill="#000"/>
<text x="14.9" y="530" font-size="9.6" text-anchor="middle" textLength="21.8" lengthAdjust="spacingAndGlyphs" transform="rotate(-90 14.9 530)" style="stroke-width:.45px">Number</text>
<text x="80.3" y="589.9" font-size="8.2" text-anchor="middle" textLength="100" lengthAdjust="spacingAndGlyphs" style="stroke-width:.4px">Channels (FL3 INT LIN-FL3 INT LIN)</text>
<text x="81.1" y="493.4" font-size="8.8" text-anchor="middle" textLength="9.4" lengthAdjust="spacingAndGlyphs">EV</text>
<rect x="94.1" y="502" width="5" height="4.8" fill="#c8102e"/>
<text x="101.4" y="506.6" font-size="6.5" textLength="18.8" lengthAdjust="spacingAndGlyphs">Dip G1</text>
<rect x="94.1" y="508.85" width="5" height="4.8" fill="#c8102e"/>
<text x="101.4" y="513.45" font-size="6.5" textLength="18.8" lengthAdjust="spacingAndGlyphs">Dip G2</text>
<rect x="94.1" y="515.7" width="5" height="4.8" fill="#165390"/>
<text x="101.4" y="520.3" font-size="6.5" textLength="15.2" lengthAdjust="spacingAndGlyphs">Dip S</text>
<text x="120.7" y="535.2" font-size="6.5" text-anchor="end" style="white-space:pre">G1: 47.69%</text>
<text x="120.7" y="542.4" font-size="6.5" text-anchor="end" style="white-space:pre">S: 35.36%</text>
<text x="120.7" y="549.6" font-size="6.5" text-anchor="end" style="white-space:pre">G2/M: 16.95%</text>
<path d="M244,566.3 L244,566.3 L244.44,566.1 L244.88,565.54 L245.32,564.72 L245.77,563.72 L246.21,562.62 L246.65,561.52 L247.09,560.5 L247.53,559.64 L247.97,559.02 L248.42,558.75 L248.86,558.74 L249.3,558.74 L249.74,558.74 L250.18,558.74 L250.62,558.74 L251.07,558.74 L251.51,558.74 L251.95,558.74 L252.39,558.74 L252.83,558.74 L253.28,558.74 L253.72,558.74 L254.16,558.74 L254.6,558.74 L255.04,558.74 L255.48,558.74 L255.93,558.74 L256.37,558.74 L256.81,558.74 L257.25,558.74 L257.69,558.74 L258.13,558.74 L258.57,558.74 L259.02,558.74 L259.46,558.74 L259.9,558.74 L260.34,558.74 L260.78,558.74 L261.23,558.74 L261.67,558.74 L262.11,558.74 L262.55,558.74 L262.99,558.74 L263.43,558.74 L263.88,558.74 L264.32,558.74 L264.76,558.78 L265.2,559.02 L265.64,559.46 L266.08,560.04 L266.52,560.74 L266.97,561.52 L267.41,562.35 L267.85,563.18 L268.29,563.98 L268.73,564.72 L269.18,565.36 L269.62,565.86 L270.06,566.18 L270.5,566.3 Z" fill="#9ec3dc"/>
<path d="M242.6,566.3 L242.6,565.96 L242.8,565.74 L243,565.4 L243.2,564.9 L243.4,564.16 L243.6,563.12 L243.8,561.69 L244,559.78 L244.2,557.32 L244.4,554.25 L244.6,550.54 L244.8,546.19 L245,541.31 L245.2,536.02 L245.4,530.53 L245.6,525.13 L245.8,520.1 L246,515.77 L246.2,512.43 L246.4,510.32 L246.6,509.6 L246.8,510.32 L247,512.43 L247.2,515.77 L247.4,520.1 L247.6,525.13 L247.8,530.53 L248,536.02 L248.2,541.31 L248.4,546.19 L248.6,550.54 L248.8,554.25 L249,557.32 L249.2,559.78 L249.4,561.69 L249.6,563.12 L249.8,564.16 L250,564.9 L250.2,565.4 L250.4,565.74 L250.6,565.96 L250.6,566.3 Z" fill="#e9a3b1" style="mix-blend-mode:multiply"/>
<path d="M261.52,566.3 L261.52,566.25 L261.82,566.21 L262.13,566.15 L262.43,566.07 L262.74,565.95 L263.04,565.78 L263.34,565.55 L263.65,565.24 L263.95,564.85 L264.26,564.35 L264.56,563.75 L264.86,563.04 L265.17,562.25 L265.47,561.4 L265.78,560.51 L266.08,559.63 L266.38,558.82 L266.69,558.12 L266.99,557.58 L267.3,557.24 L267.6,557.12 L267.9,557.24 L268.21,557.58 L268.51,558.12 L268.82,558.82 L269.12,559.63 L269.42,560.51 L269.73,561.4 L270.03,562.25 L270.34,563.04 L270.64,563.75 L270.94,564.35 L271.25,564.85 L271.55,565.24 L271.86,565.55 L272.16,565.78 L272.46,565.95 L272.77,566.07 L273.07,566.15 L273.38,566.21 L273.68,566.25 L273.68,566.3 Z" fill="#e9a3b1" style="mix-blend-mode:multiply"/>
<polyline points="236,566.3 236.5,566.3 237,566.3 237.5,566.3 238,566.3 238.5,566.3 239,566.3 239.5,566.3 240,566.3 240.5,566.3 241,566.3 241.5,566.29 242,566.24 242.5,566.04 243,565.4 243.5,563.68 244,559.78 244.5,552.21 245,540.35 245.5,525.84 246,512.62 246.5,505.37 247,506.83 247.5,515.94 248,528.72 248.5,540.88 249,549.76 249.5,554.9 250,557.34 250.5,558.3 251,558.62 251.5,558.71 252,558.73 252.5,558.74 253,558.74 253.5,558.74 254,558.74 254.5,558.74 255,558.74 255.5,558.74 256,558.74 256.5,558.74 257,558.74 257.5,558.74 258,558.74 258.5,558.74 259,558.74 259.5,558.74 260,558.74 260.5,558.73 261,558.72 261.5,558.69 262,558.62 262.5,558.49 263,558.25 263.5,557.85 264,557.21 264.5,556.31 265,555.29 265.5,554.32 266,553.48 266.5,552.94 267,552.85 267.5,553.35 268,554.48 268.5,556.13 269,558.12 269.5,560.17 270,562.02 270.5,563.44 271,564.45 271.5,565.18 272,565.67 272.5,565.97 273,566.14 273.5,566.23 274,566.27 274.5,566.29 275,566.3 275.5,566.3 276,566.3 276.5,566.3 277,566.3 277.5,566.3 278,566.3 278.5,566.3 279,566.3 279.5,566.3 280,566.3 280.5,566.3 281,566.3 281.5,566.3 282,566.3 282.5,566.3 283,566.3 283.5,566.3 284,566.3" fill="none" stroke="#e47b8e" stroke-width="0.6"/>
<polyline points="236,566.3 236.45,566.25 236.9,566.2 237.35,566.15 237.8,566.11 238.25,566.06 238.7,566.01 239.15,565.96 239.6,565.91 240.05,564.98 240.5,565.12 240.95,565.57 241,565.76 241.4,564.95 241.85,562.68 242.3,561.35 242.7,560.9 242.75,560.12 243.2,558.41 243.5,556.17 243.65,554.63 244.1,552.96 244.5,550.1 244.55,548.87 245,534.26 245.3,525.8 245.45,523.78 245.9,517.37 246.35,511.06 246.7,506.36 246.8,509.27 247.25,516.72 247.7,525.66 248.15,536.38 248.2,536.6 248.6,541.83 249.05,547.53 249.5,554.15 249.95,555.1 250.4,556.42 250.85,558.74 251,558.33 251.3,557.96 251.75,558.18 252.2,559.05 252.65,559.2 253,559.28 253.1,560.1 253.55,559.93 254,559.09 254.45,558.84 254.9,560.01 255,559.41 255.35,560.18 255.8,558.32 256.25,559.44 256.7,559.54 257.15,559.01 257.6,558.09 258,558.47 258.05,558.98 258.5,558.66 258.95,557.49 259.4,558.09 259.85,557.13 260.3,556.61 260.75,556.94 261,557.12 261.2,556.67 261.65,556.44 262.1,556.54 262.55,556.54 263,556.42 263.45,556.1 263.9,555.79 264,554.82 264.35,555.09 264.8,553.9 265.25,553.34 265.7,553.82 266.15,553.36 266.6,553.27 267,552.66 267.05,551.96 267.5,552.42 267.95,554 268.4,553.7 268.85,554.14 269,553.88 269.3,553.9 269.75,555.57 270.2,557.62 270.65,558.27 271,558.88 271.1,559.98 271.55,559.52 272,560.96 272.45,562.56 272.9,562.9 273.35,564.49 273.8,564.95 274.25,565.18 274.7,564.49 275.15,564.58 275.6,566.28 276.05,564.84 276.5,565.09 276.95,565.46 277.4,566.26 277.85,565.99 278,566.03 278.3,566.04 278.75,566.06 279.2,566.08 279.65,566.1 280.1,566.12 280.55,566.14 281,566.16 281.45,566.19 281.9,566.21 282.35,566.23 282.8,566.25 283.25,566.27 283.7,566.29 284,566.3" fill="none" stroke="#c8102e" stroke-width="1" stroke-linejoin="round"/>
<line x1="227.5" y1="493.8" x2="227.5" y2="566.9" stroke="#000" stroke-width="1.1"/>
<line x1="227" y1="566.3" x2="298" y2="566.3" stroke="#000" stroke-width="1.1"/>
<line x1="225.9" y1="566.3" x2="227.5" y2="566.3" stroke="#000" stroke-width="0.6"/>
<line x1="225.9" y1="563.6" x2="227.5" y2="563.6" stroke="#000" stroke-width="0.6"/>
<line x1="225.9" y1="560.9" x2="227.5" y2="560.9" stroke="#000" stroke-width="0.6"/>
<line x1="225.9" y1="558.2" x2="227.5" y2="558.2" stroke="#000" stroke-width="0.6"/>
<line x1="225.9" y1="555.5" x2="227.5" y2="555.5" stroke="#000" stroke-width="0.6"/>
<line x1="225.9" y1="552.8" x2="227.5" y2="552.8" stroke="#000" stroke-width="0.6"/>
<line x1="225.9" y1="550.1" x2="227.5" y2="550.1" stroke="#000" stroke-width="0.6"/>
<line x1="225.9" y1="547.4" x2="227.5" y2="547.4" stroke="#000" stroke-width="0.6"/>
<line x1="225.9" y1="544.7" x2="227.5" y2="544.7" stroke="#000" stroke-width="0.6"/>
<line x1="225.9" y1="542" x2="227.5" y2="542" stroke="#000" stroke-width="0.6"/>
<line x1="225.9" y1="539.3" x2="227.5" y2="539.3" stroke="#000" stroke-width="0.6"/>
<line x1="225.9" y1="536.6" x2="227.5" y2="536.6" stroke="#000" stroke-width="0.6"/>
<line x1="225.9" y1="533.9" x2="227.5" y2="533.9" stroke="#000" stroke-width="0.6"/>
<line x1="225.9" y1="531.2" x2="227.5" y2="531.2" stroke="#000" stroke-width="0.6"/>
<line x1="225.9" y1="528.5" x2="227.5" y2="528.5" stroke="#000" stroke-width="0.6"/>
<line x1="225.9" y1="525.8" x2="227.5" y2="525.8" stroke="#000" stroke-width="0.6"/>
<line x1="225.9" y1="523.1" x2="227.5" y2="523.1" stroke="#000" stroke-width="0.6"/>
<line x1="225.9" y1="520.4" x2="227.5" y2="520.4" stroke="#000" stroke-width="0.6"/>
<line x1="225.9" y1="517.7" x2="227.5" y2="517.7" stroke="#000" stroke-width="0.6"/>
<line x1="225.9" y1="515" x2="227.5" y2="515" stroke="#000" stroke-width="0.6"/>
<line x1="225.9" y1="512.3" x2="227.5" y2="512.3" stroke="#000" stroke-width="0.6"/>
<line x1="225.9" y1="509.6" x2="227.5" y2="509.6" stroke="#000" stroke-width="0.6"/>
<line x1="225.9" y1="506.9" x2="227.5" y2="506.9" stroke="#000" stroke-width="0.6"/>
<line x1="225.9" y1="504.2" x2="227.5" y2="504.2" stroke="#000" stroke-width="0.6"/>
<line x1="225.9" y1="501.5" x2="227.5" y2="501.5" stroke="#000" stroke-width="0.6"/>
<line x1="225.9" y1="498.8" x2="227.5" y2="498.8" stroke="#000" stroke-width="0.6"/>
<line x1="225.9" y1="496.1" x2="227.5" y2="496.1" stroke="#000" stroke-width="0.6"/>
<line x1="224.7" y1="566.3" x2="227.5" y2="566.3" stroke="#111" stroke-width="0.8"/>
<text x="221" y="568.9" font-size="7.6" text-anchor="end">0</text>
<line x1="224.7" y1="552.8" x2="227.5" y2="552.8" stroke="#111" stroke-width="0.8"/>
<text x="221" y="555.4" font-size="7.6" text-anchor="end">100</text>
<line x1="224.7" y1="539.3" x2="227.5" y2="539.3" stroke="#111" stroke-width="0.8"/>
<text x="221" y="541.9" font-size="7.6" text-anchor="end">200</text>
<line x1="224.7" y1="525.8" x2="227.5" y2="525.8" stroke="#111" stroke-width="0.8"/>
<text x="221" y="528.4" font-size="7.6" text-anchor="end">300</text>
<line x1="224.7" y1="512.3" x2="227.5" y2="512.3" stroke="#111" stroke-width="0.8"/>
<text x="221" y="514.9" font-size="7.6" text-anchor="end">400</text>
<line x1="224.7" y1="498.8" x2="227.5" y2="498.8" stroke="#111" stroke-width="0.8"/>
<text x="221" y="501.4" font-size="7.6" text-anchor="end">500</text>
<line x1="227.8" y1="566.3" x2="227.8" y2="568" stroke="#000" stroke-width="0.6"/>
<line x1="230.9" y1="566.3" x2="230.9" y2="568" stroke="#000" stroke-width="0.6"/>
<line x1="234.01" y1="566.3" x2="234.01" y2="568" stroke="#000" stroke-width="0.6"/>
<line x1="237.11" y1="566.3" x2="237.11" y2="568" stroke="#000" stroke-width="0.6"/>
<line x1="240.22" y1="566.3" x2="240.22" y2="568" stroke="#000" stroke-width="0.6"/>
<line x1="243.32" y1="566.3" x2="243.32" y2="568" stroke="#000" stroke-width="0.6"/>
<line x1="246.42" y1="566.3" x2="246.42" y2="568" stroke="#000" stroke-width="0.6"/>
<line x1="249.53" y1="566.3" x2="249.53" y2="568" stroke="#000" stroke-width="0.6"/>
<line x1="252.63" y1="566.3" x2="252.63" y2="568" stroke="#000" stroke-width="0.6"/>
<line x1="255.74" y1="566.3" x2="255.74" y2="568" stroke="#000" stroke-width="0.6"/>
<line x1="258.84" y1="566.3" x2="258.84" y2="568" stroke="#000" stroke-width="0.6"/>
<line x1="261.94" y1="566.3" x2="261.94" y2="568" stroke="#000" stroke-width="0.6"/>
<line x1="265.05" y1="566.3" x2="265.05" y2="568" stroke="#000" stroke-width="0.6"/>
<line x1="268.15" y1="566.3" x2="268.15" y2="568" stroke="#000" stroke-width="0.6"/>
<line x1="271.26" y1="566.3" x2="271.26" y2="568" stroke="#000" stroke-width="0.6"/>
<line x1="274.36" y1="566.3" x2="274.36" y2="568" stroke="#000" stroke-width="0.6"/>
<line x1="277.46" y1="566.3" x2="277.46" y2="568" stroke="#000" stroke-width="0.6"/>
<line x1="280.57" y1="566.3" x2="280.57" y2="568" stroke="#000" stroke-width="0.6"/>
<line x1="283.67" y1="566.3" x2="283.67" y2="568" stroke="#000" stroke-width="0.6"/>
<line x1="286.78" y1="566.3" x2="286.78" y2="568" stroke="#000" stroke-width="0.6"/>
<line x1="289.88" y1="566.3" x2="289.88" y2="568" stroke="#000" stroke-width="0.6"/>
<line x1="292.98" y1="566.3" x2="292.98" y2="568" stroke="#000" stroke-width="0.6"/>
<line x1="296.09" y1="566.3" x2="296.09" y2="568" stroke="#000" stroke-width="0.6"/>
<line x1="227.8" y1="566.3" x2="227.8" y2="568.9" stroke="#111" stroke-width="0.8"/>
<text x="227.8" y="578" font-size="7.8" text-anchor="middle">0</text>
<line x1="243.32" y1="566.3" x2="243.32" y2="568.9" stroke="#111" stroke-width="0.8"/>
<text x="243.32" y="578" font-size="7.8" text-anchor="middle">40</text>
<line x1="258.84" y1="566.3" x2="258.84" y2="568.9" stroke="#111" stroke-width="0.8"/>
<text x="258.84" y="578" font-size="7.8" text-anchor="middle">80</text>
<line x1="274.36" y1="566.3" x2="274.36" y2="568.9" stroke="#111" stroke-width="0.8"/>
<text x="274.36" y="578" font-size="7.8" text-anchor="middle">120</text>
<line x1="289.88" y1="566.3" x2="289.88" y2="568.9" stroke="#111" stroke-width="0.8"/>
<text x="289.88" y="578" font-size="7.8" text-anchor="middle">160</text>
<path d="M243.7,570 L247.9,570 L245.8,566.5 Z" fill="#000"/>
<text x="202.8" y="530" font-size="9.6" text-anchor="middle" textLength="21.8" lengthAdjust="spacingAndGlyphs" transform="rotate(-90 202.8 530)" style="stroke-width:.45px">Number</text>
<text x="269" y="589.9" font-size="8.2" text-anchor="middle" textLength="100" lengthAdjust="spacingAndGlyphs" style="stroke-width:.4px">Channels (FL3 INT LIN-FL3 INT LIN)</text>
<text x="268.9" y="493.2" font-size="8.7" text-anchor="middle" textLength="26.2" lengthAdjust="spacingAndGlyphs">SPAG6</text>
<rect x="292.5" y="502" width="5" height="4.8" fill="#c8102e"/>
<text x="299.8" y="506.6" font-size="6.5" textLength="18.8" lengthAdjust="spacingAndGlyphs">Dip G1</text>
<rect x="292.5" y="508.85" width="5" height="4.8" fill="#c8102e"/>
<text x="299.8" y="513.45" font-size="6.5" textLength="18.8" lengthAdjust="spacingAndGlyphs">Dip G2</text>
<rect x="292.5" y="515.7" width="5" height="4.8" fill="#165390"/>
<text x="299.8" y="520.3" font-size="6.5" textLength="15.2" lengthAdjust="spacingAndGlyphs">Dip S</text>
<text x="321" y="535.2" font-size="6.5" text-anchor="end" style="white-space:pre">G1: 39.82%</text>
<text x="321" y="542.4" font-size="6.5" text-anchor="end" style="white-space:pre">S: 44.94%</text>
<text x="321" y="549.6" font-size="6.5" text-anchor="end" style="white-space:pre">G2/M: 15.24%</text>
<text x="7" y="105.2" font-size="11.5" font-weight="bold" fill="#000">H</text>
<text x="179.5" y="102.5" font-size="9.4" text-anchor="middle" textLength="21.6" lengthAdjust="spacingAndGlyphs">K562</text>
<line x1="20.4" y1="106.5" x2="363.5" y2="106.5" stroke="#333" stroke-width="1"/>
<text x="179.6" y="232.5" font-size="9.4" text-anchor="middle" textLength="16.8" lengthAdjust="spacingAndGlyphs">HEL</text>
<line x1="20.4" y1="236.3" x2="364" y2="236.3" stroke="#333" stroke-width="1"/>
<text x="180" y="361.8" font-size="9.4" text-anchor="middle" textLength="24.6" lengthAdjust="spacingAndGlyphs">HL-60</text>
<line x1="20.4" y1="364.4" x2="327.8" y2="364.4" stroke="#333" stroke-width="1"/>
<text x="179.5" y="481.1" font-size="9.4" text-anchor="middle" textLength="24.1" lengthAdjust="spacingAndGlyphs">THP-1</text>
<line x1="26" y1="484" x2="327.8" y2="484" stroke="#606060" stroke-width="1.5"/>
<line x1="406.7" y1="120" x2="406.7" y2="194.2" stroke="#000" stroke-width="1.2"/>
<line x1="406.1" y1="193.6" x2="498.8" y2="193.6" stroke="#000" stroke-width="1.2"/>
<line x1="403.7" y1="193.6" x2="406.7" y2="193.6" stroke="#111" stroke-width="1"/>
<text x="400.3" y="196.3" font-size="7.8" text-anchor="end">0</text>
<line x1="403.7" y1="176.64" x2="406.7" y2="176.64" stroke="#111" stroke-width="1"/>
<text x="400.3" y="179.34" font-size="7.8" text-anchor="end">20</text>
<line x1="403.7" y1="159.68" x2="406.7" y2="159.68" stroke="#111" stroke-width="1"/>
<text x="400.3" y="162.38" font-size="7.8" text-anchor="end">40</text>
<line x1="403.7" y1="142.72" x2="406.7" y2="142.72" stroke="#111" stroke-width="1"/>
<text x="400.3" y="145.42" font-size="7.8" text-anchor="end">60</text>
<line x1="403.7" y1="125.76" x2="406.7" y2="125.76" stroke="#111" stroke-width="1"/>
<text x="400.3" y="128.46" font-size="7.8" text-anchor="end">80</text>
<text x="385.3" y="157.3" font-size="8.7" text-anchor="middle" textLength="56.2" lengthAdjust="spacingAndGlyphs" transform="rotate(-90 385.3 157.3)" style="stroke-width:.35px">Cell percentage (%)</text>
<text x="452.5" y="113.8" font-size="9" text-anchor="middle" textLength="22" lengthAdjust="spacingAndGlyphs">K562</text>
<rect x="410.3" y="160.1" width="6" height="33.5" fill="#3cb44b"/>
<line x1="413.3" y1="160.1" x2="413.3" y2="157.5" stroke="#222" stroke-width="0.9"/>
<line x1="411.1" y1="157.5" x2="415.5" y2="157.5" stroke="#222" stroke-width="1"/>
<rect x="418.2" y="142.89" width="6.4" height="50.71" fill="#c8102e"/>
<line x1="421.4" y1="142.89" x2="421.4" y2="140.5" stroke="#222" stroke-width="0.9"/>
<line x1="419.2" y1="140.5" x2="423.6" y2="140.5" stroke="#222" stroke-width="1"/>
<rect x="426.5" y="143.91" width="6.5" height="49.69" fill="#165390"/>
<line x1="429.75" y1="143.91" x2="429.75" y2="141.5" stroke="#222" stroke-width="0.9"/>
<line x1="427.55" y1="141.5" x2="431.95" y2="141.5" stroke="#222" stroke-width="1"/>
<rect x="441.2" y="153.49" width="6.6" height="40.11" fill="#3cb44b"/>
<line x1="444.5" y1="153.49" x2="444.5" y2="152.5" stroke="#222" stroke-width="0.9"/>
<line x1="442.3" y1="152.5" x2="446.7" y2="152.5" stroke="#222" stroke-width="1"/>
<rect x="449.6" y="169.94" width="6.4" height="23.66" fill="#c8102e"/>
<line x1="452.8" y1="169.94" x2="452.8" y2="167.5" stroke="#222" stroke-width="0.9"/>
<line x1="450.6" y1="167.5" x2="455" y2="167.5" stroke="#222" stroke-width="1"/>
<rect x="457.6" y="168.16" width="6.3" height="25.44" fill="#165390"/>
<line x1="460.75" y1="168.16" x2="460.75" y2="166.5" stroke="#222" stroke-width="0.9"/>
<line x1="458.55" y1="166.5" x2="462.95" y2="166.5" stroke="#222" stroke-width="1"/>
<rect x="473.2" y="182.49" width="6.1" height="11.11" fill="#3cb44b"/>
<line x1="476.25" y1="182.49" x2="476.25" y2="182.5" stroke="#222" stroke-width="0.9"/>
<line x1="474.05" y1="182.5" x2="478.45" y2="182.5" stroke="#222" stroke-width="1"/>
<rect x="481.2" y="183.93" width="5.8" height="9.67" fill="#c8102e"/>
<line x1="484.1" y1="183.93" x2="484.1" y2="182.5" stroke="#222" stroke-width="0.9"/>
<line x1="481.9" y1="182.5" x2="486.3" y2="182.5" stroke="#222" stroke-width="1"/>
<rect x="489.2" y="183.93" width="6.6" height="9.67" fill="#165390"/>
<line x1="492.5" y1="183.93" x2="492.5" y2="183.5" stroke="#222" stroke-width="0.9"/>
<line x1="490.3" y1="183.5" x2="494.7" y2="183.5" stroke="#222" stroke-width="1"/>
<line x1="421.5" y1="193.6" x2="421.5" y2="196.4" stroke="#111" stroke-width="1"/>
<text x="421.5" y="205.2" font-size="8.3" text-anchor="middle">G1</text>
<line x1="452.7" y1="193.6" x2="452.7" y2="196.4" stroke="#111" stroke-width="1"/>
<text x="452.7" y="205.2" font-size="8.3" text-anchor="middle">S</text>
<line x1="483.9" y1="193.6" x2="483.9" y2="196.4" stroke="#111" stroke-width="1"/>
<text x="483.9" y="205.2" font-size="8.3" text-anchor="middle">G2/M</text>
<rect x="466.5" y="123.4" width="5.3" height="5.3" fill="#3cb44b"/>
<text x="474.7" y="128.3" font-size="6.8" textLength="18.8" lengthAdjust="spacingAndGlyphs">shCtrl</text>
<rect x="466.5" y="131.6" width="5.3" height="5.3" fill="#c8102e"/>
<text x="474.7" y="136.5" font-size="6.8" textLength="37.2" lengthAdjust="spacingAndGlyphs">shSPAG6-1</text>
<rect x="466.5" y="139.8" width="5.3" height="5.3" fill="#165390"/>
<text x="474.7" y="144.7" font-size="6.8" textLength="37.6" lengthAdjust="spacingAndGlyphs">shSPAG6-2</text>
<polyline points="412.5,128.4 412.5,125.5 429.5,125.5 429.5,128.4" fill="none" stroke="#222" stroke-width="1"/>
<text x="421.6" y="126.45" font-size="7.6" text-anchor="middle" font-weight="bold">**</text>
<polyline points="412.5,138.7 412.5,135.5 421.5,135.5 421.5,138.7" fill="none" stroke="#222" stroke-width="1"/>
<text x="417.4" y="135.95" font-size="7.6" text-anchor="middle" font-weight="bold">**</text>
<polyline points="444.5,140.4 444.5,137.5 460.5,137.5 460.5,140.4" fill="none" stroke="#222" stroke-width="1"/>
<text x="452.6" y="137.95" font-size="7.6" text-anchor="middle" font-weight="bold">**</text>
<polyline points="444.5,149.4 444.5,146.5 453.5,146.5 453.5,149.4" fill="none" stroke="#222" stroke-width="1"/>
<text x="448.5" y="147.45" font-size="7.6" text-anchor="middle" font-weight="bold">**</text>
<line x1="406.7" y1="247.9" x2="406.7" y2="323.1" stroke="#000" stroke-width="1.2"/>
<line x1="406.1" y1="322.5" x2="499.7" y2="322.5" stroke="#000" stroke-width="1.2"/>
<line x1="403.7" y1="322.5" x2="406.7" y2="322.5" stroke="#111" stroke-width="1"/>
<text x="400.3" y="325.2" font-size="7.8" text-anchor="end">0</text>
<line x1="403.7" y1="311.1" x2="406.7" y2="311.1" stroke="#111" stroke-width="1"/>
<text x="400.3" y="313.8" font-size="7.8" text-anchor="end">15</text>
<line x1="403.7" y1="299.7" x2="406.7" y2="299.7" stroke="#111" stroke-width="1"/>
<text x="400.3" y="302.4" font-size="7.8" text-anchor="end">30</text>
<line x1="403.7" y1="288.3" x2="406.7" y2="288.3" stroke="#111" stroke-width="1"/>
<text x="400.3" y="291" font-size="7.8" text-anchor="end">45</text>
<line x1="403.7" y1="276.9" x2="406.7" y2="276.9" stroke="#111" stroke-width="1"/>
<text x="400.3" y="279.6" font-size="7.8" text-anchor="end">60</text>
<line x1="403.7" y1="265.5" x2="406.7" y2="265.5" stroke="#111" stroke-width="1"/>
<text x="400.3" y="268.2" font-size="7.8" text-anchor="end">75</text>
<line x1="403.7" y1="254.1" x2="406.7" y2="254.1" stroke="#111" stroke-width="1"/>
<text x="400.3" y="256.8" font-size="7.8" text-anchor="end">90</text>
<text x="385.3" y="285.5" font-size="8.7" text-anchor="middle" textLength="56.2" lengthAdjust="spacingAndGlyphs" transform="rotate(-90 385.3 285.5)" style="stroke-width:.35px">Cell percentage (%)</text>
<text x="452.8" y="242.6" font-size="9" text-anchor="middle" textLength="16.3" lengthAdjust="spacingAndGlyphs">HEL</text>
<rect x="410" y="283.74" width="6" height="38.76" fill="#3cb44b"/>
<line x1="413" y1="283.74" x2="413" y2="281.5" stroke="#222" stroke-width="0.9"/>
<line x1="410.8" y1="281.5" x2="415.2" y2="281.5" stroke="#222" stroke-width="1"/>
<rect x="418.3" y="274.39" width="6.5" height="48.11" fill="#c8102e"/>
<line x1="421.55" y1="274.39" x2="421.55" y2="272.5" stroke="#222" stroke-width="0.9"/>
<line x1="419.35" y1="272.5" x2="423.75" y2="272.5" stroke="#222" stroke-width="1"/>
<rect x="426.6" y="273.18" width="6.4" height="49.32" fill="#165390"/>
<line x1="429.8" y1="273.18" x2="429.8" y2="270.5" stroke="#222" stroke-width="0.9"/>
<line x1="427.6" y1="270.5" x2="432" y2="270.5" stroke="#222" stroke-width="1"/>
<rect x="441.2" y="293.32" width="6.5" height="29.18" fill="#3cb44b"/>
<line x1="444.45" y1="293.32" x2="444.45" y2="292.5" stroke="#222" stroke-width="0.9"/>
<line x1="442.25" y1="292.5" x2="446.65" y2="292.5" stroke="#222" stroke-width="1"/>
<rect x="449.6" y="301.22" width="6.1" height="21.28" fill="#c8102e"/>
<line x1="452.65" y1="301.22" x2="452.65" y2="300.5" stroke="#222" stroke-width="0.9"/>
<line x1="450.45" y1="300.5" x2="454.85" y2="300.5" stroke="#222" stroke-width="1"/>
<rect x="457.8" y="301.98" width="6.2" height="20.52" fill="#165390"/>
<line x1="460.9" y1="301.98" x2="460.9" y2="300.5" stroke="#222" stroke-width="0.9"/>
<line x1="458.7" y1="300.5" x2="463.1" y2="300.5" stroke="#222" stroke-width="1"/>
<rect x="472.4" y="315.66" width="6.5" height="6.84" fill="#3cb44b"/>
<line x1="475.65" y1="315.66" x2="475.65" y2="314.5" stroke="#222" stroke-width="0.9"/>
<line x1="473.45" y1="314.5" x2="477.85" y2="314.5" stroke="#222" stroke-width="1"/>
<rect x="481" y="316.8" width="6.2" height="5.7" fill="#c8102e"/>
<line x1="484.1" y1="316.8" x2="484.1" y2="316.5" stroke="#222" stroke-width="0.9"/>
<line x1="481.9" y1="316.5" x2="486.3" y2="316.5" stroke="#222" stroke-width="1"/>
<rect x="489.1" y="317.56" width="6.5" height="4.94" fill="#165390"/>
<line x1="492.35" y1="317.56" x2="492.35" y2="316.5" stroke="#222" stroke-width="0.9"/>
<line x1="490.15" y1="316.5" x2="494.55" y2="316.5" stroke="#222" stroke-width="1"/>
<line x1="421.5" y1="322.5" x2="421.5" y2="325.3" stroke="#111" stroke-width="1"/>
<text x="421.5" y="334" font-size="8.3" text-anchor="middle">G1</text>
<line x1="452.7" y1="322.5" x2="452.7" y2="325.3" stroke="#111" stroke-width="1"/>
<text x="452.7" y="334" font-size="8.3" text-anchor="middle">S</text>
<line x1="483.9" y1="322.5" x2="483.9" y2="325.3" stroke="#111" stroke-width="1"/>
<text x="483.9" y="334" font-size="8.3" text-anchor="middle">G2/M</text>
<rect x="462.2" y="251.4" width="5.3" height="5.3" fill="#3cb44b"/>
<text x="470.4" y="256.3" font-size="6.8" textLength="18.8" lengthAdjust="spacingAndGlyphs">shCtrl</text>
<rect x="462.2" y="259.75" width="5.3" height="5.3" fill="#c8102e"/>
<text x="470.4" y="264.65" font-size="6.8" textLength="36.9" lengthAdjust="spacingAndGlyphs">shSPAG6-1</text>
<rect x="462.2" y="268.1" width="5.3" height="5.3" fill="#165390"/>
<text x="470.4" y="273" font-size="6.8" textLength="37.3" lengthAdjust="spacingAndGlyphs">shSPAG6-2</text>
<polyline points="412.5,257.1 412.5,254.5 430.5,254.5 430.5,257.1" fill="none" stroke="#222" stroke-width="1"/>
<text x="421.5" y="255.06" font-size="6.46" text-anchor="middle" font-weight="bold">*</text>
<polyline points="412.5,267.7 412.5,264.5 421.5,264.5 421.5,267.7" fill="none" stroke="#222" stroke-width="1"/>
<text x="417.1" y="264.16" font-size="6.46" text-anchor="middle" font-weight="bold">*</text>
<polyline points="444.5,279.2 444.5,276.5 461.5,276.5 461.5,279.2" fill="none" stroke="#222" stroke-width="1"/>
<text x="452.5" y="277.55" font-size="7.6" text-anchor="middle" font-weight="bold">**</text>
<polyline points="444.5,289.7 444.5,286.5 453.5,286.5 453.5,289.7" fill="none" stroke="#222" stroke-width="1"/>
<text x="448.8" y="287.25" font-size="7.6" text-anchor="middle" font-weight="bold">**</text>
<line x1="406.7" y1="365.9" x2="406.7" y2="445.2" stroke="#000" stroke-width="1.2"/>
<line x1="406.1" y1="444.6" x2="493" y2="444.6" stroke="#000" stroke-width="1.2"/>
<line x1="403.7" y1="444.6" x2="406.7" y2="444.6" stroke="#111" stroke-width="1"/>
<text x="400.3" y="447.3" font-size="7.8" text-anchor="end">0</text>
<line x1="403.7" y1="426.4" x2="406.7" y2="426.4" stroke="#111" stroke-width="1"/>
<text x="400.3" y="429.1" font-size="7.8" text-anchor="end">20</text>
<line x1="403.7" y1="408.2" x2="406.7" y2="408.2" stroke="#111" stroke-width="1"/>
<text x="400.3" y="410.9" font-size="7.8" text-anchor="end">40</text>
<line x1="403.7" y1="390" x2="406.7" y2="390" stroke="#111" stroke-width="1"/>
<text x="400.3" y="392.7" font-size="7.8" text-anchor="end">60</text>
<line x1="403.7" y1="371.8" x2="406.7" y2="371.8" stroke="#111" stroke-width="1"/>
<text x="400.3" y="374.5" font-size="7.8" text-anchor="end">80</text>
<text x="385.3" y="405.3" font-size="8.7" text-anchor="middle" textLength="56.2" lengthAdjust="spacingAndGlyphs" transform="rotate(-90 385.3 405.3)" style="stroke-width:.35px">Cell percentage (%)</text>
<text x="449.6" y="362.4" font-size="9" text-anchor="middle" textLength="25.1" lengthAdjust="spacingAndGlyphs">HL-60</text>
<rect x="410" y="399.46" width="6.2" height="45.14" fill="#165390"/>
<line x1="413.1" y1="399.46" x2="413.1" y2="397.5" stroke="#222" stroke-width="0.9"/>
<line x1="410.9" y1="397.5" x2="415.3" y2="397.5" stroke="#222" stroke-width="1"/>
<rect x="418.3" y="407.11" width="6.4" height="37.49" fill="#c8102e"/>
<line x1="421.5" y1="407.11" x2="421.5" y2="405.5" stroke="#222" stroke-width="0.9"/>
<line x1="419.3" y1="405.5" x2="423.7" y2="405.5" stroke="#222" stroke-width="1"/>
<rect x="441.2" y="414.84" width="6.5" height="29.76" fill="#165390"/>
<line x1="444.45" y1="414.84" x2="444.45" y2="413.5" stroke="#222" stroke-width="0.9"/>
<line x1="442.25" y1="413.5" x2="446.65" y2="413.5" stroke="#222" stroke-width="1"/>
<rect x="449.6" y="406.2" width="6.5" height="38.4" fill="#c8102e"/>
<line x1="452.85" y1="406.2" x2="452.85" y2="404.5" stroke="#222" stroke-width="0.9"/>
<line x1="450.65" y1="404.5" x2="455.05" y2="404.5" stroke="#222" stroke-width="1"/>
<rect x="472.4" y="428.58" width="6.5" height="16.02" fill="#165390"/>
<line x1="475.65" y1="428.58" x2="475.65" y2="427.5" stroke="#222" stroke-width="0.9"/>
<line x1="473.45" y1="427.5" x2="477.85" y2="427.5" stroke="#222" stroke-width="1"/>
<rect x="480.7" y="429.22" width="6.5" height="15.38" fill="#c8102e"/>
<line x1="483.95" y1="429.22" x2="483.95" y2="428.5" stroke="#222" stroke-width="0.9"/>
<line x1="481.75" y1="428.5" x2="486.15" y2="428.5" stroke="#222" stroke-width="1"/>
<line x1="417.1" y1="444.6" x2="417.1" y2="447.4" stroke="#111" stroke-width="1"/>
<text x="417.1" y="456.6" font-size="8.3" text-anchor="middle">G1</text>
<line x1="448.5" y1="444.6" x2="448.5" y2="447.4" stroke="#111" stroke-width="1"/>
<text x="448.5" y="456.6" font-size="8.3" text-anchor="middle">S</text>
<line x1="479.8" y1="444.6" x2="479.8" y2="447.4" stroke="#111" stroke-width="1"/>
<text x="479.8" y="456.6" font-size="8.3" text-anchor="middle">G2/M</text>
<rect x="460.1" y="371.4" width="5.3" height="5.3" fill="#165390"/>
<text x="468.3" y="376.3" font-size="6.8" textLength="8.8" lengthAdjust="spacingAndGlyphs">EV</text>
<rect x="460.1" y="379.6" width="5.3" height="5.3" fill="#c8102e"/>
<text x="468.3" y="384.5" font-size="6.8" textLength="24.2" lengthAdjust="spacingAndGlyphs">SPAG6</text>
<polyline points="413.5,395.4 413.5,392.5 421.5,392.5 421.5,395.4" fill="none" stroke="#222" stroke-width="1"/>
<text x="417.3" y="392.46" font-size="6.46" text-anchor="middle" font-weight="bold">*</text>
<polyline points="444.5,401.7 444.5,398.5 452.5,398.5 452.5,401.7" fill="none" stroke="#222" stroke-width="1"/>
<text x="448.7" y="399.06" font-size="6.46" text-anchor="middle" font-weight="bold">*</text>
<line x1="406.7" y1="485.5" x2="406.7" y2="566.6" stroke="#000" stroke-width="1.2"/>
<line x1="406.1" y1="566" x2="495.3" y2="566" stroke="#000" stroke-width="1.2"/>
<line x1="403.7" y1="566" x2="406.7" y2="566" stroke="#111" stroke-width="1"/>
<text x="400.3" y="568.7" font-size="7.8" text-anchor="end">0</text>
<line x1="403.7" y1="547.3" x2="406.7" y2="547.3" stroke="#111" stroke-width="1"/>
<text x="400.3" y="550" font-size="7.8" text-anchor="end">20</text>
<line x1="403.7" y1="528.6" x2="406.7" y2="528.6" stroke="#111" stroke-width="1"/>
<text x="400.3" y="531.3" font-size="7.8" text-anchor="end">40</text>
<line x1="403.7" y1="509.9" x2="406.7" y2="509.9" stroke="#111" stroke-width="1"/>
<text x="400.3" y="512.6" font-size="7.8" text-anchor="end">60</text>
<line x1="403.7" y1="491.2" x2="406.7" y2="491.2" stroke="#111" stroke-width="1"/>
<text x="400.3" y="493.9" font-size="7.8" text-anchor="end">80</text>
<text x="385.3" y="527" font-size="8.7" text-anchor="middle" textLength="56.2" lengthAdjust="spacingAndGlyphs" transform="rotate(-90 385.3 527)" style="stroke-width:.35px">Cell percentage (%)</text>
<text x="450.5" y="482.4" font-size="9" text-anchor="middle" textLength="24.6" lengthAdjust="spacingAndGlyphs">THP-1</text>
<rect x="410" y="520.93" width="6.2" height="45.07" fill="#165390"/>
<line x1="413.1" y1="520.93" x2="413.1" y2="519.5" stroke="#222" stroke-width="0.9"/>
<line x1="410.9" y1="519.5" x2="415.3" y2="519.5" stroke="#222" stroke-width="1"/>
<rect x="418.3" y="529.82" width="6.4" height="36.18" fill="#c8102e"/>
<line x1="421.5" y1="529.82" x2="421.5" y2="527.5" stroke="#222" stroke-width="0.9"/>
<line x1="419.3" y1="527.5" x2="423.7" y2="527.5" stroke="#222" stroke-width="1"/>
<rect x="441.2" y="535.61" width="6.5" height="30.39" fill="#165390"/>
<line x1="444.45" y1="535.61" x2="444.45" y2="533.5" stroke="#222" stroke-width="0.9"/>
<line x1="442.25" y1="533.5" x2="446.65" y2="533.5" stroke="#222" stroke-width="1"/>
<rect x="449.6" y="524.58" width="6.5" height="41.42" fill="#c8102e"/>
<line x1="452.85" y1="524.58" x2="452.85" y2="522.5" stroke="#222" stroke-width="0.9"/>
<line x1="450.65" y1="522.5" x2="455.05" y2="522.5" stroke="#222" stroke-width="1"/>
<rect x="472.4" y="549.64" width="6.5" height="16.36" fill="#165390"/>
<line x1="475.65" y1="549.64" x2="475.65" y2="548.5" stroke="#222" stroke-width="0.9"/>
<line x1="473.45" y1="548.5" x2="477.85" y2="548.5" stroke="#222" stroke-width="1"/>
<rect x="480.7" y="550.85" width="6.5" height="15.15" fill="#c8102e"/>
<line x1="483.95" y1="550.85" x2="483.95" y2="549.5" stroke="#222" stroke-width="0.9"/>
<line x1="481.75" y1="549.5" x2="486.15" y2="549.5" stroke="#222" stroke-width="1"/>
<line x1="417.1" y1="566" x2="417.1" y2="568.8" stroke="#111" stroke-width="1"/>
<text x="417.1" y="577.8" font-size="8.3" text-anchor="middle">G1</text>
<line x1="448.5" y1="566" x2="448.5" y2="568.8" stroke="#111" stroke-width="1"/>
<text x="448.5" y="577.8" font-size="8.3" text-anchor="middle">S</text>
<line x1="479.8" y1="566" x2="479.8" y2="568.8" stroke="#111" stroke-width="1"/>
<text x="479.8" y="577.8" font-size="8.3" text-anchor="middle">G2/M</text>
<rect x="461.4" y="493" width="5.3" height="5.3" fill="#165390"/>
<text x="469.6" y="497.9" font-size="6.8" textLength="8.8" lengthAdjust="spacingAndGlyphs">EV</text>
<rect x="461.4" y="500.9" width="5.3" height="5.3" fill="#c8102e"/>
<text x="469.6" y="505.8" font-size="6.8" textLength="24.2" lengthAdjust="spacingAndGlyphs">SPAG6</text>
<polyline points="413.5,517.7 413.5,514.5 421.5,514.5 421.5,517.7" fill="none" stroke="#222" stroke-width="1"/>
<text x="417.3" y="514.75" font-size="7.6" text-anchor="middle" font-weight="bold">**</text>
<polyline points="444.5,514.6 444.5,511.5 452.5,511.5 452.5,514.6" fill="none" stroke="#222" stroke-width="1"/>
<text x="448.7" y="512.06" font-size="6.46" text-anchor="middle" font-weight="bold">*</text>
<text x="80.6" y="608.8" font-size="11.5" font-weight="bold" fill="#000">I</text>
<text x="131.5" y="608.2" font-size="8.8" text-anchor="middle" textLength="22.3" lengthAdjust="spacingAndGlyphs">K562</text>
<line x1="104.2" y1="610.2" x2="160" y2="610.2" stroke="#222" stroke-width="1"/>
<rect x="106.9" y="638.1" width="28.5" height="7.2" fill="#efefef" stroke="#454545" stroke-width="1.0"/>
<rect x="108" y="639.1" width="26.3" height="5.2" fill="none" stroke="#b0b0b0" stroke-width="0.5"/>
<rect x="109.4" y="640.6" width="6.2" height="2.2" rx="1" fill="#626262"/>
<rect x="117.6" y="640.6" width="7.4" height="2.2" rx="1" fill="#adadad"/>
<rect x="126.9" y="640.6" width="6.9" height="2.2" rx="1" fill="#a2a2a2"/>
<text x="103.7" y="643.9" font-size="6.15" text-anchor="end">Cyclin D1</text>
<text x="138.8" y="643.9" font-size="6.2">34 kDa</text>
<rect x="106.9" y="646.3" width="28.5" height="6.6" fill="#efefef" stroke="#454545" stroke-width="1.0"/>
<rect x="108" y="647.3" width="26.3" height="4.6" fill="none" stroke="#b0b0b0" stroke-width="0.5"/>
<rect x="109.4" y="648.5" width="6.2" height="2.2" rx="1" fill="#212121"/>
<rect x="117.6" y="648.5" width="7.4" height="2.2" rx="1" fill="#a2a2a2"/>
<rect x="126.9" y="648.5" width="6.9" height="2.2" rx="1" fill="#989898"/>
<text x="103.7" y="651.8" font-size="6.15" text-anchor="end">Cyclin E1</text>
<text x="138.8" y="651.8" font-size="6.2">47 kDa</text>
<rect x="106.9" y="653.8" width="28.5" height="6" fill="#efefef" stroke="#454545" stroke-width="1.0"/>
<rect x="108" y="654.8" width="26.3" height="4" fill="none" stroke="#b0b0b0" stroke-width="0.5"/>
<rect x="109.4" y="655.7" width="6.2" height="2.2" rx="1" fill="#4c4c4c"/>
<rect x="117.6" y="655.7" width="7.4" height="2.2" rx="1" fill="#8d8d8d"/>
<rect x="126.9" y="655.7" width="6.9" height="2.2" rx="1" fill="#828282"/>
<text x="103.7" y="659" font-size="6.15" text-anchor="end">CDK2</text>
<text x="138.8" y="659" font-size="6.2">33 kDa</text>
<rect x="106.9" y="661.3" width="28.5" height="6.2" fill="#efefef" stroke="#454545" stroke-width="1.0"/>
<rect x="108" y="662.3" width="26.3" height="4.2" fill="none" stroke="#b0b0b0" stroke-width="0.5"/>
<rect x="109.4" y="663.3" width="6.2" height="2.2" rx="1" fill="#373737"/>
<rect x="117.6" y="663.3" width="7.4" height="2.2" rx="1" fill="#6d6d6d"/>
<rect x="126.9" y="663.3" width="6.9" height="2.2" rx="1" fill="#626262"/>
<text x="103.7" y="666.6" font-size="6.15" text-anchor="end">CDK4</text>
<text x="138.8" y="666.6" font-size="6.2">34 kDa</text>
<rect x="106.9" y="668.8" width="28.5" height="6.8" fill="#efefef" stroke="#454545" stroke-width="1.0"/>
<rect x="108" y="669.8" width="26.3" height="4.8" fill="none" stroke="#b0b0b0" stroke-width="0.5"/>
<rect x="109.4" y="671.1" width="6.2" height="2.2" rx="1" fill="#212121"/>
<rect x="117.6" y="671.1" width="7.4" height="2.2" rx="1" fill="#212121"/>
<rect x="126.9" y="671.1" width="6.9" height="2.2" rx="1" fill="#212121"/>
<text x="103.7" y="674.4" font-size="6.15" text-anchor="end">GAPDH</text>
<text x="138.8" y="674.4" font-size="6.2">37 kDa</text>
<text x="111.1" y="638" font-size="6.1" transform="rotate(-45 111.1 638)">shCtrl</text>
<text x="121.5" y="638" font-size="6.1" transform="rotate(-45 121.5 638)">shSPAG6-1</text>
<text x="131.9" y="638" font-size="6.1" transform="rotate(-45 131.9 638)">shSPAG6-2</text>
<text x="233.4" y="608.2" font-size="8.8" text-anchor="middle" textLength="17.3" lengthAdjust="spacingAndGlyphs">HEL</text>
<line x1="205.2" y1="610.2" x2="261.3" y2="610.2" stroke="#222" stroke-width="1"/>
<rect x="208.5" y="638.1" width="28.2" height="7.2" fill="#efefef" stroke="#454545" stroke-width="1.0"/>
<rect x="209.6" y="639.1" width="26" height="5.2" fill="none" stroke="#b0b0b0" stroke-width="0.5"/>
<rect x="210.8" y="640.6" width="6.2" height="2.2" rx="1" fill="#424242"/>
<rect x="219" y="640.6" width="7.2" height="2.2" rx="1" fill="#8d8d8d"/>
<rect x="228" y="640.6" width="6.6" height="2.2" rx="1" fill="#989898"/>
<text x="205.6" y="643.9" font-size="6.15" text-anchor="end">Cyclin D1</text>
<text x="239.6" y="643.9" font-size="6.2">34 kDa</text>
<rect x="208.5" y="646.3" width="28.2" height="6.6" fill="#efefef" stroke="#454545" stroke-width="1.0"/>
<rect x="209.6" y="647.3" width="26" height="4.6" fill="none" stroke="#b0b0b0" stroke-width="0.5"/>
<rect x="210.8" y="648.5" width="6.2" height="2.2" rx="1" fill="#424242"/>
<rect x="219" y="648.5" width="7.2" height="2.2" rx="1" fill="#8d8d8d"/>
<rect x="228" y="648.5" width="6.6" height="2.2" rx="1" fill="#8d8d8d"/>
<text x="205.6" y="651.8" font-size="6.15" text-anchor="end">Cyclin E1</text>
<text x="239.6" y="651.8" font-size="6.2">47 kDa</text>
<rect x="208.5" y="653.8" width="28.2" height="6" fill="#efefef" stroke="#454545" stroke-width="1.0"/>
<rect x="209.6" y="654.8" width="26" height="4" fill="none" stroke="#b0b0b0" stroke-width="0.5"/>
<rect x="210.8" y="655.7" width="6.2" height="2.2" rx="1" fill="#424242"/>
<rect x="219" y="655.7" width="7.2" height="2.2" rx="1" fill="#777777"/>
<rect x="228" y="655.7" width="6.6" height="2.2" rx="1" fill="#777777"/>
<text x="205.6" y="659" font-size="6.15" text-anchor="end">CDK2</text>
<text x="239.6" y="659" font-size="6.2">33 kDa</text>
<rect x="208.5" y="661.3" width="28.2" height="6.2" fill="#efefef" stroke="#454545" stroke-width="1.0"/>
<rect x="209.6" y="662.3" width="26" height="4.2" fill="none" stroke="#b0b0b0" stroke-width="0.5"/>
<rect x="210.8" y="663.3" width="6.2" height="2.2" rx="1" fill="#4c4c4c"/>
<rect x="219" y="663.3" width="7.2" height="2.2" rx="1" fill="#828282"/>
<rect x="228" y="663.3" width="6.6" height="2.2" rx="1" fill="#777777"/>
<text x="205.6" y="666.6" font-size="6.15" text-anchor="end">CDK4</text>
<text x="239.6" y="666.6" font-size="6.2">34 kDa</text>
<rect x="208.5" y="668.8" width="28.2" height="6.8" fill="#efefef" stroke="#454545" stroke-width="1.0"/>
<rect x="209.6" y="669.8" width="26" height="4.8" fill="none" stroke="#b0b0b0" stroke-width="0.5"/>
<rect x="210.8" y="671.1" width="6.2" height="2.2" rx="1" fill="#1d1d1d"/>
<rect x="219" y="671.1" width="7.2" height="2.2" rx="1" fill="#212121"/>
<rect x="228" y="671.1" width="6.6" height="2.2" rx="1" fill="#212121"/>
<text x="205.6" y="674.4" font-size="6.15" text-anchor="end">GAPDH</text>
<text x="239.6" y="674.4" font-size="6.2">37 kDa</text>
<text x="214" y="638" font-size="6.1" transform="rotate(-45 214 638)">shCtrl</text>
<text x="224.4" y="638" font-size="6.1" transform="rotate(-45 224.4 638)">shSPAG6-1</text>
<text x="234.8" y="638" font-size="6.1" transform="rotate(-45 234.8 638)">shSPAG6-2</text>
<text x="329.2" y="614.8" font-size="8.8" text-anchor="middle" textLength="25.4" lengthAdjust="spacingAndGlyphs">HL-60</text>
<line x1="306.9" y1="617.6" x2="351.5" y2="617.6" stroke="#222" stroke-width="1"/>
<rect x="310.2" y="638.1" width="19.2" height="7.2" fill="#efefef" stroke="#454545" stroke-width="1.0"/>
<rect x="311.3" y="639.1" width="17" height="5.2" fill="none" stroke="#b0b0b0" stroke-width="0.5"/>
<rect x="312.4" y="640.6" width="6.6" height="2.2" rx="1" fill="#adadad"/>
<rect x="320.6" y="640.6" width="6.8" height="2.2" rx="1" fill="#2c2c2c"/>
<text x="306.9" y="643.9" font-size="6.15" text-anchor="end">Cyclin D1</text>
<text x="332.5" y="643.9" font-size="6.2">34 kDa</text>
<rect x="310.2" y="646.3" width="19.2" height="6.6" fill="#efefef" stroke="#454545" stroke-width="1.0"/>
<rect x="311.3" y="647.3" width="17" height="4.6" fill="none" stroke="#b0b0b0" stroke-width="0.5"/>
<rect x="312.4" y="648.5" width="6.6" height="2.2" rx="1" fill="#c3c3c3"/>
<rect x="320.6" y="648.5" width="6.8" height="2.2" rx="1" fill="#464646"/>
<text x="306.9" y="651.8" font-size="6.15" text-anchor="end">Cyclin E1</text>
<text x="332.5" y="651.8" font-size="6.2">47 kDa</text>
<rect x="310.2" y="653.8" width="19.2" height="6" fill="#efefef" stroke="#454545" stroke-width="1.0"/>
<rect x="311.3" y="654.8" width="17" height="4" fill="none" stroke="#b0b0b0" stroke-width="0.5"/>
<rect x="312.4" y="655.7" width="6.6" height="2.2" rx="1" fill="#777777"/>
<rect x="320.6" y="655.7" width="6.8" height="2.2" rx="1" fill="#212121"/>
<text x="306.9" y="659" font-size="6.15" text-anchor="end">CDK2</text>
<text x="332.5" y="659" font-size="6.2">33 kDa</text>
<rect x="310.2" y="661.3" width="19.2" height="6.2" fill="#efefef" stroke="#454545" stroke-width="1.0"/>
<rect x="311.3" y="662.3" width="17" height="4.2" fill="none" stroke="#b0b0b0" stroke-width="0.5"/>
<rect x="312.4" y="663.3" width="6.6" height="2.2" rx="1" fill="#a2a2a2"/>
<rect x="320.6" y="663.3" width="6.8" height="2.2" rx="1" fill="#2c2c2c"/>
<text x="306.9" y="666.6" font-size="6.15" text-anchor="end">CDK4</text>
<text x="332.5" y="666.6" font-size="6.2">34 kDa</text>
<rect x="310.2" y="668.8" width="19.2" height="6.8" fill="#efefef" stroke="#454545" stroke-width="1.0"/>
<rect x="311.3" y="669.8" width="17" height="4.8" fill="none" stroke="#b0b0b0" stroke-width="0.5"/>
<rect x="312.4" y="671.1" width="6.6" height="2.2" rx="1" fill="#373737"/>
<rect x="320.6" y="671.1" width="6.8" height="2.2" rx="1" fill="#424242"/>
<text x="306.9" y="674.4" font-size="6.15" text-anchor="end">GAPDH</text>
<text x="332.5" y="674.4" font-size="6.2">37 kDa</text>
<text x="313.1" y="636.6" font-size="6.9" transform="rotate(-45 313.1 636.6)">EV</text>
<text x="323.9" y="636.6" font-size="6.9" transform="rotate(-45 323.9 636.6)">SPAG6</text>
<text x="418.4" y="614.8" font-size="8.8" text-anchor="middle" textLength="24.4" lengthAdjust="spacingAndGlyphs">THP-1</text>
<line x1="396.9" y1="617.6" x2="440.8" y2="617.6" stroke="#222" stroke-width="1"/>
<rect x="400.8" y="638.1" width="19.2" height="7.2" fill="#efefef" stroke="#454545" stroke-width="1.0"/>
<rect x="401.9" y="639.1" width="17" height="5.2" fill="none" stroke="#b0b0b0" stroke-width="0.5"/>
<rect x="402.8" y="640.6" width="6.8" height="2.2" rx="1" fill="#cdcdcd"/>
<rect x="411.2" y="640.6" width="6.8" height="2.2" rx="1" fill="#212121"/>
<text x="397.9" y="643.9" font-size="6.15" text-anchor="end">Cyclin D1</text>
<text x="422.9" y="643.9" font-size="6.2">34 kDa</text>
<rect x="400.8" y="646.3" width="19.2" height="6.6" fill="#efefef" stroke="#454545" stroke-width="1.0"/>
<rect x="401.9" y="647.3" width="17" height="4.6" fill="none" stroke="#b0b0b0" stroke-width="0.5"/>
<rect x="402.8" y="648.5" width="6.8" height="2.2" rx="1" fill="#a2a2a2"/>
<rect x="411.2" y="648.5" width="6.8" height="2.2" rx="1" fill="#212121"/>
<text x="397.9" y="651.8" font-size="6.15" text-anchor="end">Cyclin E1</text>
<text x="422.9" y="651.8" font-size="6.2">47 kDa</text>
<rect x="400.8" y="653.8" width="19.2" height="6" fill="#efefef" stroke="#454545" stroke-width="1.0"/>
<rect x="401.9" y="654.8" width="17" height="4" fill="none" stroke="#b0b0b0" stroke-width="0.5"/>
<rect x="402.8" y="655.7" width="6.8" height="2.2" rx="1" fill="#424242"/>
<rect x="411.2" y="655.7" width="6.8" height="2.2" rx="1" fill="#171717"/>
<text x="397.9" y="659" font-size="6.15" text-anchor="end">CDK2</text>
<text x="422.9" y="659" font-size="6.2">33 kDa</text>
<rect x="400.8" y="661.3" width="19.2" height="6.2" fill="#efefef" stroke="#454545" stroke-width="1.0"/>
<rect x="401.9" y="662.3" width="17" height="4.2" fill="none" stroke="#b0b0b0" stroke-width="0.5"/>
<rect x="402.8" y="663.3" width="6.8" height="2.2" rx="1" fill="#989898"/>
<rect x="411.2" y="663.3" width="6.8" height="2.2" rx="1" fill="#373737"/>
<text x="397.9" y="666.6" font-size="6.15" text-anchor="end">CDK4</text>
<text x="422.9" y="666.6" font-size="6.2">34 kDa</text>
<rect x="400.8" y="668.8" width="19.2" height="6.8" fill="#efefef" stroke="#454545" stroke-width="1.0"/>
<rect x="401.9" y="669.8" width="17" height="4.8" fill="none" stroke="#b0b0b0" stroke-width="0.5"/>
<rect x="402.8" y="671.1" width="6.8" height="2.2" rx="1" fill="#1d1d1d"/>
<rect x="411.2" y="671.1" width="6.8" height="2.2" rx="1" fill="#282828"/>
<text x="397.9" y="674.4" font-size="6.15" text-anchor="end">GAPDH</text>
<text x="422.9" y="674.4" font-size="6.2">37 kDa</text>
<text x="403.7" y="636.6" font-size="6.9" transform="rotate(-45 403.7 636.6)">EV</text>
<text x="414.5" y="636.6" font-size="6.9" transform="rotate(-45 414.5 636.6)">SPAG6</text>
<rect x="0.5" y="0.5" width="519" height="681" fill="none" stroke="#000" stroke-width="1.2"/>
</svg>
</body></html>
